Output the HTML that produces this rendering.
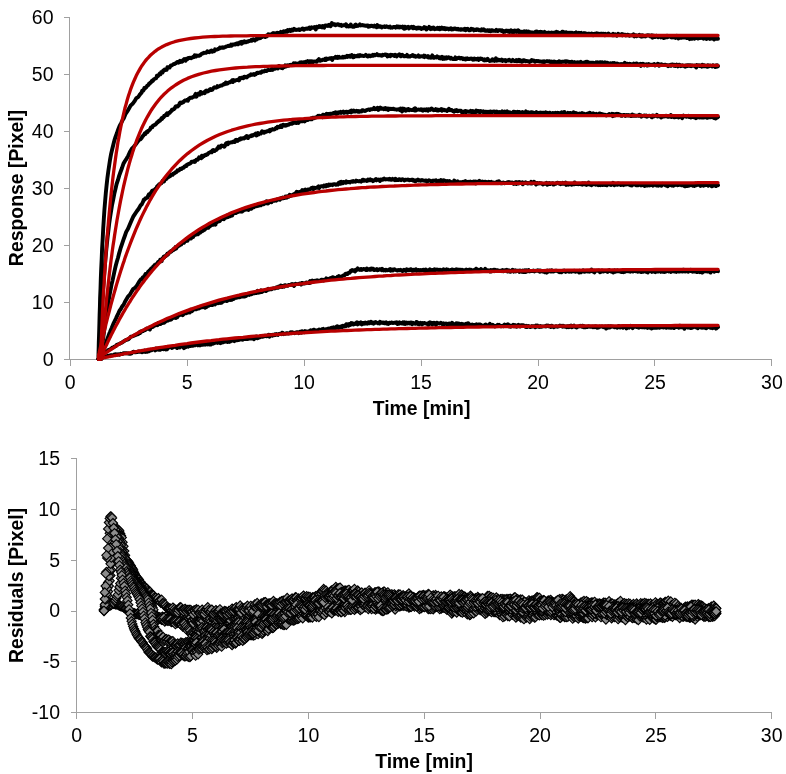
<!DOCTYPE html>
<html><head><meta charset="utf-8"><style>html,body{margin:0;padding:0;background:#fff;-webkit-font-smoothing:antialiased;}svg{display:block;will-change:transform;}</style></head>
<body><svg width="786" height="774" viewBox="0 0 786 774">
<rect width="786" height="774" fill="#fff"/>
<g stroke="#a0a0a0" stroke-width="1" fill="none" shape-rendering="crispEdges">
<path d="M69.5 16.5V359.5H772"/>
<path d="M64 359.5H70M64 302.5H70M64 245.5H70M64 188.5H70M64 131.5H70M64 74.5H70M64 17.5H70M70.5 359V365.5M187.5 359V365.5M304.5 359V365.5M421.5 359V365.5M538.5 359V365.5M654.5 359V365.5M771.5 359V365.5"/>
</g>
<g fill="none" stroke="#000" stroke-width="3.9" stroke-linejoin="round" stroke-linecap="round">
<path d="M98.5 359L98.5 353.6 98.6 350.5 98.7 346.7 98.8 342 99 336.5 99.2 330.2 99.4 323.1 99.6 315.3 99.9 306.9 100.1 298 100.5 288.5 100.8 278.8 101.2 268.8 101.7 258.7 102.1 248.6 102.7 238.6 103.2 228.8 103.8 219.3 104.4 210.1 105.1 201.3 105.8 193.1 106.6 185.3 107.4 177.9 108.3 171.3 109.2 165.2 110.1 159.3 111.1 153.9 112.2 149.2 113.3 144.8 114.4 140.4 115.6 136.7 116.9 133.3 118.2 129.4 119.6 125.9 121 123.3 122.5 120.3 124 117.9 125.6 113.8 127.3 111.4 129 108.6 130.7 105.4 132.6 103.8 134.4 101.4 136.4 98.1 138.4 96.8 139.4 95.2 140.1 94.3 140.8 93.3 141.5 92.8 142.2 90.7 142.9 91 143.6 90.2 144.3 88.1 145 88.5 145.7 87.4 146.4 87.2 147.1 85.8 147.8 85.3 148.5 84.8 149.2 83.4 149.9 83.5 150.6 82.4 151.3 82 152 80.8 152.7 81 153.4 80.1 154.1 79 154.8 78.8 155.5 78.5 156.2 78.1 156.9 75.7 157.6 76.4 158.3 75.6 159 74.7 159.7 73.6 160.4 74.3 161.1 72.3 161.8 72.7 162.5 72.6 163.2 70.5 163.9 70.6 164.6 69.5 165.3 69.9 166 70 166.7 69.8 167.4 67.2 168.1 67.3 168.8 67.6 169.5 67.6 170.2 66.5 170.9 65.4 171.6 65.6 172.3 65 173 64.5 173.7 63.9 174.4 64.1 175.1 63.7 175.8 63.2 176.5 62.8 177.2 61.9 177.9 62 178.6 62.7 179.3 61.6 180 60.7 180.7 61.9 181.4 61.2 182.1 61.8 182.8 60.4 183.5 59.9 184.2 59.1 184.9 60.4 185.6 60.8 186.3 58.7 187 58.6 187.7 59 188.4 58 189.1 58.1 189.8 57.8 190.5 57.9 191.2 58.2 191.9 57.4 192.6 57.6 193.3 56.7 194 56.9 194.7 55.3 195.4 55.4 196.1 56.5 196.8 55.5 197.5 55.9 198.2 55.6 198.9 55.8 199.6 55.3 200.3 55.2 201 54.3 201.7 53.8 202.4 53.5 203.1 53.4 203.8 52.8 204.5 52.9 205.2 52.9 205.9 52.9 206.6 52.3 207.3 51.2 208 52 208.7 51.9 209.4 52.2 210.1 51.7 210.8 50.8 211.5 50.5 212.2 51.8 212.9 50.9 213.6 51.2 214.3 51.2 215 49.3 215.7 49.8 216.4 49.6 217.1 49.5 217.8 49.2 218.5 48.8 219.2 48.6 219.9 47.5 220.6 48 221.3 47.5 222 47.8 222.7 47.3 223.4 47.7 224.1 47.6 224.8 47.1 225.5 46.9 226.2 46.6 226.9 46.1 227.6 46.1 228.3 45.8 229 46.1 229.7 45.7 230.4 45.8 231.1 44.6 231.8 45.6 232.5 44.6 233.2 44.4 233.9 44.5 234.6 44.2 235.3 44.5 236 43.8 236.7 43.4 237.4 43.3 238.1 44.3 238.8 43.5 239.5 42.6 240.2 43.1 240.9 42.1 241.6 43.8 242.3 41.8 243 42.7 243.7 42.6 244.4 41.3 245.1 42.1 245.8 42.3 246.5 41.8 247.2 41.5 247.9 41.7 248.6 41.1 249.3 41 250 40.6 250.7 40.8 251.4 39.8 252.1 40.6 252.8 39.7 253.5 39.2 254.2 39.8 254.9 40.4 255.6 39.8 256.3 38.8 257 39.3 257.7 38.4 258.4 38.4 259.1 38.4 259.8 36.8 260.5 38 261.2 37.1 261.9 37.1 262.6 36.4 263.3 36.1 264 36.2 264.7 36.9 265.4 37.1 266.1 35.9 266.8 36.3 267.5 35.3 268.2 34.2 268.9 35.1 269.6 35.1 270.3 34.4 271 34.6 271.7 34.6 272.4 33.6 273.1 33.1 273.8 33.6 274.5 33.4 275.2 33.2 275.9 33.8 276.6 34 277.3 32.7 278 33.1 278.7 33.1 279.4 32.8 280.1 32.8 280.8 31.9 281.5 32.4 282.2 32.9 282.9 32.1 283.6 31.2 284.3 31.7 285 32 285.7 31.4 286.4 30.7 287.1 31.8 287.8 30.1 288.5 31 289.2 30.6 289.9 29.8 290.6 31 291.3 30.4 292 29.5 292.7 30.4 293.4 29.8 294.1 28.9 294.8 29.4 295.5 29.9 296.2 30 296.9 29.7 297.6 29.6 298.3 29.7 299 29.3 299.7 30 300.4 29.4 301.1 29.4 301.8 29.4 302.5 28.5 303.2 28.6 303.9 29.8 304.6 29.1 305.3 28.7 306 28.9 306.7 28.4 307.4 28.8 308.1 28.2 308.8 28.6 309.5 27.5 310.2 29 310.9 27.9 311.6 27.3 312.3 27.9 313 27.7 313.7 27.9 314.4 27.1 315.1 27.8 315.8 29.5 316.5 26.7 317.2 27.5 317.9 27 318.6 27.2 319.3 26 320 26.2 320.7 27 321.4 26.6 322.1 27.4 322.8 26 323.5 26.4 324.2 27.7 324.9 25.6 325.6 25.4 326.3 25.7 327 25.5 327.7 25.9 328.4 25.3 329.1 24.7 329.8 25.1 330.5 26.3 331.2 25.4 331.9 23.1 332.6 24.5 333.3 24 334 24.7 334.7 24.2 335.4 25.3 336.1 24.7 336.8 24.7 337.5 24.3 338.2 24.3 338.9 24.6 339.6 25.3 340.3 25.1 341 24.8 341.7 25.9 342.4 25.4 343.1 25.4 343.8 25.1 344.5 25.3 345.2 25.3 345.9 24.2 346.6 26.4 347.3 26.2 348 25.8 348.7 26.5 349.4 26.2 350.1 26.2 350.8 24.6 351.5 25.9 352.2 26.3 352.9 26.9 353.6 26.9 354.3 26.6 355 25.1 355.7 24.5 356.4 25.9 357.1 25.5 357.8 25.9 358.5 25.2 359.2 25.3 359.9 24.3 360.6 25.4 361.3 24.9 362 25.3 362.7 25.4 363.4 25.1 364.1 25.5 364.8 25.4 365.5 25.9 366.2 25.8 366.9 25.4 367.6 25.4 368.3 26.8 369 25.9 369.7 26.5 370.4 26.2 371.1 25.8 371.8 25.7 372.5 26.2 373.2 26.3 373.9 26.6 374.6 25.6 375.3 26 376 26.3 376.7 27.2 377.4 25.1 378.1 26.7 378.8 26.1 379.5 26.7 380.2 26.2 380.9 26.7 381.6 27.4 382.3 26.8 383 26.9 383.7 26.8 384.4 26.3 385.1 27 385.8 26.6 386.5 26.3 387.2 26.8 387.9 26.7 388.6 27.3 389.3 26.9 390 26.6 390.7 27.7 391.4 27.5 392.1 27.7 392.8 27.4 393.5 27 394.2 26.9 394.9 27 395.6 27.7 396.3 27.2 397 26.4 397.7 27.2 398.4 26.5 399.1 27.4 399.8 26.6 400.5 26.6 401.2 27.4 401.9 27.3 402.6 26.5 403.3 27.9 404 28.7 404.7 26.7 405.4 28.5 406.1 27.2 406.8 27.3 407.5 27.5 408.2 26.8 408.9 28.4 409.6 27.9 410.3 27.3 411 27.6 411.7 26.9 412.4 27.6 413.1 28.3 413.8 26.9 414.5 27.6 415.2 27.9 415.9 28.5 416.6 28.7 417.3 27.7 418 27.5 418.7 28.2 419.4 27.8 420.1 27.8 420.8 28.6 421.5 29 422.2 28.2 422.9 28 423.6 28.4 424.3 27.1 425 28.2 425.7 27.6 426.4 29.5 427.1 28.6 427.8 28.3 428.5 28.2 429.2 26.9 429.9 28.7 430.6 29.2 431.3 27.9 432 28.7 432.7 28.8 433.4 27.5 434.1 28.9 434.8 29.2 435.5 28.6 436.2 28.4 436.9 28.9 437.6 27.7 438.3 28.6 439 29.1 439.7 27.9 440.4 29.1 441.1 28.4 441.8 27.5 442.5 28.6 443.2 28.1 443.9 28.9 444.6 28.1 445.3 29.3 446 28.4 446.7 29 447.4 28.5 448.1 28.7 448.8 29.5 449.5 29 450.2 28.7 450.9 28.2 451.6 29.6 452.3 29.4 453 28.8 453.7 29.2 454.4 28.5 455.1 28.5 455.8 28.6 456.5 29.3 457.2 29.3 457.9 28.8 458.6 29.6 459.3 29.6 460 29.3 460.7 29.8 461.4 29.1 462.1 29.3 462.8 29.6 463.5 29.3 464.2 29.8 464.9 28.7 465.6 30.2 466.3 29 467 29.4 467.7 28.8 468.4 29.9 469.1 30.3 469.8 30.2 470.5 30.1 471.2 28.8 471.9 29.2 472.6 29.4 473.3 29.2 474 30.4 474.7 29.9 475.4 29.8 476.1 30.1 476.8 29.3 477.5 29.4 478.2 29.4 478.9 30.2 479.6 30.2 480.3 30.3 481 30.6 481.7 29.3 482.4 29.8 483.1 30.2 483.8 29.4 484.5 29.9 485.2 30.8 485.9 30.9 486.6 30.9 487.3 30.3 488 30.2 488.7 31 489.4 30.2 490.1 30.6 490.8 31.2 491.5 30.3 492.2 30.2 492.9 30.6 493.6 30.9 494.3 30.9 495 30.8 495.7 31 496.4 29.9 497.1 30.3 497.8 30.9 498.5 30.3 499.2 30.1 499.9 30.2 500.6 30.4 501.3 30.9 502 30.4 502.7 31.2 503.4 32 504.1 31 504.8 31.8 505.5 31.3 506.2 30.6 506.9 31.1 507.6 30.7 508.3 31.7 509 30.7 509.7 32.1 510.4 31.7 511.1 30.3 511.8 31.9 512.5 32.3 513.2 31.1 513.9 32.1 514.6 30.6 515.3 31.7 516 30.7 516.7 31.9 517.4 30.7 518.1 30.3 518.8 32 519.5 33 520.2 31.5 520.9 32.3 521.6 31.9 522.3 31.7 523 32.3 523.7 32.9 524.4 31.3 525.1 32.3 525.8 32.2 526.5 31.3 527.2 33 527.9 33.2 528.6 31.6 529.3 33.1 530 32.2 530.7 32.1 531.4 33.1 532.1 32.4 532.8 32.5 533.5 33.2 534.2 33 534.9 32.9 535.6 31.6 536.3 31.5 537 33.1 537.7 31.9 538.4 32.6 539.1 31.9 539.8 32.4 540.5 31.8 541.2 33.5 541.9 32 542.6 32.5 543.3 32.5 544 33.3 544.7 31.9 545.4 32.7 546.1 32.6 546.8 33 547.5 33 548.2 32.5 548.9 32.9 549.6 32.6 550.3 33.1 551 32.8 551.7 32.5 552.4 32.8 553.1 33.1 553.8 34.1 554.5 32.6 555.2 33.1 555.9 33.8 556.6 31.8 557.3 32 558 32.3 558.7 32.9 559.4 34.4 560.1 33.3 560.8 33.7 561.5 33 562.2 31.7 562.9 31.8 563.6 33.7 564.3 33.2 565 32.4 565.7 33.8 566.4 32.3 567.1 33.8 567.8 34 568.5 32.8 569.2 32.6 569.9 33.7 570.6 32.7 571.3 33.8 572 32.7 572.7 33.8 573.4 33.4 574.1 33.1 574.8 32.9 575.5 33.5 576.2 32.4 576.9 33.3 577.6 33.2 578.3 33.8 579 32.8 579.7 34.4 580.4 33.3 581.1 32.9 581.8 34.3 582.5 34.5 583.2 33.5 583.9 33.1 584.6 33.6 585.3 33.2 586 33.5 586.7 34.5 587.4 33.9 588.1 33.8 588.8 33.9 589.5 33.7 590.2 34.2 590.9 34.3 591.6 33.6 592.3 33.9 593 35.2 593.7 34.1 594.4 33.8 595.1 35 595.8 33.9 596.5 33.3 597.2 34.3 597.9 33.5 598.6 33.7 599.3 34.2 600 34 600.7 33.6 601.4 33.8 602.1 33.8 602.8 34.8 603.5 33.8 604.2 33.9 604.9 35.3 605.6 33.9 606.3 35.1 607 35 607.7 34.2 608.4 33.5 609.1 34.6 609.8 34.7 610.5 34.9 611.2 34.5 611.9 35.1 612.6 35.3 613.3 33.9 614 35.3 614.7 34.7 615.4 34.3 616.1 34.5 616.8 35.7 617.5 35.2 618.2 33.7 618.9 34.8 619.6 34.7 620.3 34.7 621 34.6 621.7 34.1 622.4 35.4 623.1 34.4 623.8 34.8 624.5 34.7 625.2 34.6 625.9 35.5 626.6 35.3 627.3 34.8 628 34.7 628.7 35 629.4 35.8 630.1 35.4 630.8 35.4 631.5 35.2 632.2 35.2 632.9 35.5 633.6 34.4 634.3 36.4 635 35.1 635.7 35.2 636.4 36.3 637.1 35.7 637.8 35.7 638.5 35.4 639.2 34.9 639.9 35.9 640.6 36.4 641.3 35.3 642 36.6 642.7 35.3 643.4 35.5 644.1 36.2 644.8 36 645.5 36.4 646.2 35.7 646.9 35.5 647.6 35.1 648.3 35.5 649 35.6 649.7 35.4 650.4 36.4 651.1 35.9 651.8 35.2 652.5 37.7 653.2 35.9 653.9 35.7 654.6 37.1 655.3 37.1 656 35.9 656.7 35.7 657.4 36 658.1 37.2 658.8 36.5 659.5 36.2 660.2 36.7 660.9 37.4 661.6 36 662.3 36.6 663 36 663.7 38 664.4 37.9 665.1 37.4 665.8 36.8 666.5 37.3 667.2 35.8 667.9 37.1 668.6 36.3 669.3 36.3 670 36.7 670.7 36.9 671.4 37.4 672.1 37.5 672.8 37.3 673.5 36.7 674.2 37.6 674.9 37.2 675.6 37.9 676.3 36.8 677 35.8 677.7 37 678.4 38.5 679.1 37.6 679.8 37.3 680.5 37.9 681.2 37.7 681.9 37.7 682.6 37.2 683.3 37.5 684 37.6 684.7 37.2 685.4 36.9 686.1 37.7 686.8 38.1 687.5 38 688.2 37.9 688.9 37.9 689.6 39.1 690.3 37.8 691 38.3 691.7 38.8 692.4 37.8 693.1 37.9 693.8 38.4 694.5 38.8 695.2 38 695.9 38.1 696.6 37.9 697.3 37.2 698 38.5 698.7 37.8 699.4 37 700.1 37.9 700.8 37.1 701.5 37.5 702.2 38.1 702.9 37.6 703.6 38.7 704.3 37.3 705 38.3 705.7 38.4 706.4 39 707.1 38.7 707.8 38.3 708.5 38.3 709.2 38.2 709.9 38.9 710.6 37.9 711.3 38.6 712 38.2 712.7 38.4 713.4 38.2 714.1 39.5 714.8 38 715.5 38.5 716.2 38.6 716.9 38.8 717.6 38.7 718 38.7"/>
<path d="M98.5 359L99.4 359 99.4 358.9 99.4 358.7 99.4 358.1 99.4 357.2 99.5 356 99.6 354.2 99.7 352 99.8 349.3 99.9 346.1 100.1 342.4 100.3 338.2 100.6 333.4 100.8 328.2 101.1 322.6 101.4 316.6 101.8 310.1 102.2 303.4 102.6 296.4 103.1 289.2 103.6 281.8 104.2 274.3 104.8 266.8 105.4 259.3 106.1 251.8 106.8 244.5 107.6 237.2 108.4 230.4 109.2 223.6 110.1 217.2 111.1 211 112.1 204.8 113.2 199.7 114.3 193.9 115.4 189.4 116.6 184 117.9 180.2 119.2 175.6 120.5 172 122 168 123.4 163.8 125 161 126.6 158.6 128.2 155.9 129.9 152 131.7 148.9 133.5 147 135.4 144.8 137.4 142.1 139.4 139.6 140.4 139.3 141.1 138.6 141.8 137.7 142.5 136 143.2 135.8 143.9 134.9 144.6 133.5 145.3 134 146 132.9 146.7 131.8 147.4 132.2 148.1 131.1 148.8 130.5 149.5 130 150.2 129.1 150.9 127.3 151.6 127.1 152.3 127.2 153 125.6 153.7 125.4 154.4 125 155.1 124.9 155.8 124.2 156.5 123.4 157.2 122.2 157.9 122.2 158.6 121.4 159.3 120.4 160 120.7 160.7 119.6 161.4 118.4 162.1 118.9 162.8 117.5 163.5 117.4 164.2 115.7 164.9 116 165.6 114.9 166.3 114.3 167 113.3 167.7 114.9 168.4 113.1 169.1 112.8 169.8 112.7 170.5 111.5 171.2 111.3 171.9 109.7 172.6 110 173.3 109.1 174 109.1 174.7 108.4 175.4 106.9 176.1 106.1 176.8 106.1 177.5 106.5 178.2 105.8 178.9 105.3 179.6 103.4 180.3 102.6 181 103.2 181.7 102.9 182.4 102.3 183.1 102.4 183.8 101.6 184.5 100.7 185.2 100.4 185.9 100.6 186.6 100.1 187.3 99.7 188 100.6 188.7 98.8 189.4 98.7 190.1 97.7 190.8 97.7 191.5 97.9 192.2 97.6 192.9 96.9 193.6 96.9 194.3 96.4 195 95 195.7 93.9 196.4 96.7 197.1 95.5 197.8 94.7 198.5 93.5 199.2 93.5 199.9 94.6 200.6 92 201.3 93.1 202 93.5 202.7 92.8 203.4 92.8 204.1 92.1 204.8 93.2 205.5 91 206.2 90.5 206.9 91.2 207.6 91.5 208.3 90.4 209 90.7 209.7 89.6 210.4 89 211.1 90.1 211.8 89.9 212.5 89.6 213.2 88.3 213.9 87.6 214.6 87.3 215.3 87.5 216 87.7 216.7 87.4 217.4 86.1 218.1 86.7 218.8 86.3 219.5 86.1 220.2 85.8 220.9 85.4 221.6 85.6 222.3 85.1 223 84.8 223.7 84.1 224.4 84.4 225.1 83.9 225.8 82.5 226.5 83.7 227.2 83 227.9 83.4 228.6 82.5 229.3 82.3 230 82.2 230.7 81.8 231.4 81.3 232.1 80.3 232.8 82.1 233.5 80 234.2 80.4 234.9 80.7 235.6 80.3 236.3 80.1 237 80 237.7 80 238.4 79.3 239.1 80.4 239.8 78.1 240.5 78.5 241.2 77.9 241.9 77.6 242.6 77.8 243.3 78.2 244 76.8 244.7 76.6 245.4 77.2 246.1 76.9 246.8 77.4 247.5 76.7 248.2 76 248.9 75.5 249.6 75.6 250.3 75.2 251 74.3 251.7 74.9 252.4 74.6 253.1 74.3 253.8 74 254.5 75 255.2 74.2 255.9 74.2 256.6 73.1 257.3 72.7 258 72.9 258.7 73 259.4 72.5 260.1 72.4 260.8 72.8 261.5 72.2 262.2 71.3 262.9 71.5 263.6 71.1 264.3 71.4 265 70.5 265.7 70.8 266.4 71.1 267.1 70.6 267.8 69.9 268.5 69.9 269.2 70.1 269.9 70.1 270.6 70.1 271.3 69.4 272 68.6 272.7 69.9 273.4 69.2 274.1 69 274.8 68.8 275.5 67.9 276.2 68.1 276.9 68.3 277.6 68.5 278.3 67.8 279 65.9 279.7 67.3 280.4 67.5 281.1 67.9 281.8 67.4 282.5 68.2 283.2 67.5 283.9 67.2 284.6 66.9 285.3 65.4 286 66.5 286.7 66.2 287.4 65.4 288.1 65.9 288.8 65.6 289.5 65 290.2 65.1 290.9 64.8 291.6 65 292.3 64.5 293 64.8 293.7 63.3 294.4 64.1 295.1 63.2 295.8 63.7 296.5 64.1 297.2 63.7 297.9 63.5 298.6 63.5 299.3 64.2 300 62.6 300.7 63.6 301.4 62.2 302.1 62.6 302.8 62.9 303.5 62.2 304.2 62.7 304.9 62.9 305.6 61.7 306.3 62.2 307 62 307.7 61 308.4 61.9 309.1 61.4 309.8 62.5 310.5 61.2 311.2 62.5 311.9 61.2 312.6 62.5 313.3 61.6 314 61.5 314.7 61.6 315.4 61.5 316.1 61.7 316.8 61.8 317.5 60.6 318.2 60 318.9 59.1 319.6 60.3 320.3 60.8 321 60.5 321.7 60.3 322.4 59.9 323.1 59.6 323.8 59.7 324.5 60 325.2 58.7 325.9 60 326.6 58.6 327.3 59.2 328 58.9 328.7 58.9 329.4 58.4 330.1 58.3 330.8 58.7 331.5 58.1 332.2 59.9 332.9 58.2 333.6 58 334.3 57.9 335 57.6 335.7 56.7 336.4 57.8 337.1 58 337.8 56.9 338.5 57.7 339.2 56.9 339.9 57.5 340.6 57.6 341.3 57.6 342 57.5 342.7 56.7 343.4 57.5 344.1 56.7 344.8 57.1 345.5 57.2 346.2 56.5 346.9 55.9 347.6 56.9 348.3 55.9 349 55.9 349.7 55.8 350.4 56.8 351.1 56.2 351.8 55 352.5 56.6 353.2 57.3 353.9 57.1 354.6 55.7 355.3 56.1 356 56.3 356.7 56.4 357.4 55.9 358.1 55.3 358.8 56.3 359.5 56.2 360.2 55.1 360.9 55.5 361.6 55.9 362.3 55.7 363 55.9 363.7 56.1 364.4 55.9 365.1 55.5 365.8 54.8 366.5 55.9 367.2 56.3 367.9 56.6 368.6 55.4 369.3 55.4 370 56.2 370.7 56.2 371.4 55.5 372.1 55.7 372.8 54.9 373.5 55.6 374.2 54.8 374.9 55.2 375.6 55.2 376.3 55 377 54.1 377.7 54.8 378.4 55.4 379.1 55.2 379.8 55 380.5 55.4 381.2 55.6 381.9 55.7 382.6 54.7 383.3 55.2 384 55 384.7 54.7 385.4 54.4 386.1 55.2 386.8 54.7 387.5 56.4 388.2 55.2 388.9 55.1 389.6 55.1 390.3 56.3 391 54.8 391.7 55.2 392.4 54.9 393.1 55.3 393.8 55.4 394.5 56 395.2 54.7 395.9 55.5 396.6 56.4 397.3 55.2 398 55.4 398.7 55.1 399.4 54.2 400.1 55.6 400.8 56.3 401.5 55.4 402.2 54.7 402.9 55.9 403.6 55.8 404.3 56.4 405 56.3 405.7 55.7 406.4 56.1 407.1 54.9 407.8 56.6 408.5 56.1 409.2 56.6 409.9 56.6 410.6 55.9 411.3 56 412 55.7 412.7 55 413.4 56.1 414.1 56.3 414.8 55.7 415.5 56.7 416.2 56.4 416.9 56.6 417.6 56 418.3 55.4 419 56.9 419.7 56.8 420.4 56.4 421.1 56.3 421.8 56.4 422.5 56.5 423.2 56.4 423.9 55.6 424.6 57.1 425.3 55.9 426 56.6 426.7 56.6 427.4 57 428.1 56 428.8 57.6 429.5 57.3 430.2 57.4 430.9 57.7 431.6 56.6 432.3 55.4 433 57.3 433.7 57.9 434.4 57.9 435.1 57 435.8 57.2 436.5 57.5 437.2 56.4 437.9 57 438.6 57.1 439.3 58.3 440 57.2 440.7 58.4 441.4 57.6 442.1 56.7 442.8 58.9 443.5 57.2 444.2 58.1 444.9 58.7 445.6 57.5 446.3 57.2 447 58.4 447.7 57.9 448.4 57.3 449.1 57.4 449.8 57.8 450.5 58.6 451.2 57.9 451.9 58.5 452.6 59.1 453.3 58.9 454 59 454.7 58.9 455.4 57.4 456.1 59 456.8 58.6 457.5 58.3 458.2 57.8 458.9 57.6 459.6 57.9 460.3 58.5 461 57.9 461.7 58.2 462.4 58.3 463.1 59.1 463.8 58.6 464.5 58.7 465.2 59.5 465.9 58.6 466.6 59.2 467.3 58.3 468 59.1 468.7 59 469.4 59.1 470.1 58.7 470.8 58.5 471.5 58.9 472.2 58.8 472.9 59.7 473.6 59.6 474.3 58.5 475 59.5 475.7 59 476.4 59.5 477.1 59 477.8 58.5 478.5 59.9 479.2 59.6 479.9 58.7 480.6 58.4 481.3 59.1 482 58.8 482.7 59.3 483.4 59.9 484.1 60.4 484.8 59.4 485.5 60.4 486.2 60.3 486.9 59.4 487.6 58.8 488.3 60.2 489 60.1 489.7 61 490.4 60.6 491.1 60.2 491.8 60.7 492.5 59.3 493.2 60 493.9 59.7 494.6 60.9 495.3 60.3 496 58.3 496.7 60.7 497.4 59.5 498.1 60.5 498.8 59.8 499.5 60.2 500.2 60.5 500.9 60.2 501.6 59.6 502.3 61 503 60.4 503.7 60.2 504.4 60.6 505.1 60 505.8 61.3 506.5 60.4 507.2 60.5 507.9 60.6 508.6 59.9 509.3 59.8 510 60.6 510.7 60.6 511.4 61.2 512.1 60.7 512.8 59.9 513.5 60.8 514.2 61 514.9 61.1 515.6 60.8 516.3 60 517 61.3 517.7 60.3 518.4 61 519.1 59.9 519.8 61.2 520.5 60.3 521.2 61.4 521.9 61.8 522.6 61.5 523.3 60.2 524 60.3 524.7 60.4 525.4 61.3 526.1 61.1 526.8 61 527.5 61.1 528.2 61.3 528.9 61.4 529.6 62 530.3 61 531 61.2 531.7 60.1 532.4 60.4 533.1 60.8 533.8 60.5 534.5 61.3 535.2 61.8 535.9 61 536.6 61 537.3 61 538 61.3 538.7 61 539.4 61.5 540.1 61.5 540.8 61.5 541.5 61.8 542.2 61.4 542.9 61.5 543.6 62.4 544.3 61.4 545 61.9 545.7 61.5 546.4 61.3 547.1 61.3 547.8 61.1 548.5 61.6 549.2 61.3 549.9 61.4 550.6 62.3 551.3 61.6 552 62.3 552.7 61.8 553.4 62.2 554.1 61.4 554.8 61.8 555.5 63.2 556.2 62.3 556.9 62.4 557.6 62 558.3 62.3 559 61.3 559.7 61.4 560.4 62.2 561.1 62.4 561.8 61.7 562.5 61.9 563.2 61.8 563.9 61.9 564.6 61.4 565.3 61.3 566 62.1 566.7 61.2 567.4 61.6 568.1 61.8 568.8 61.6 569.5 62.3 570.2 62 570.9 62.2 571.6 61.7 572.3 61.9 573 62.6 573.7 62.5 574.4 62.1 575.1 62.6 575.8 62.5 576.5 62.5 577.2 63.3 577.9 62.2 578.6 62.7 579.3 62.7 580 62.4 580.7 61.9 581.4 63 582.1 62.7 582.8 62.6 583.5 62.7 584.2 62.7 584.9 62.2 585.6 62.9 586.3 61.7 587 62.7 587.7 61.9 588.4 62.6 589.1 63.2 589.8 62.7 590.5 62.6 591.2 63.2 591.9 62.8 592.6 62.7 593.3 62.7 594 63.8 594.7 63.4 595.4 63.3 596.1 62.4 596.8 63.4 597.5 62.4 598.2 63.4 598.9 62.5 599.6 64.2 600.3 62.2 601 63.9 601.7 63.7 602.4 62.3 603.1 63.1 603.8 64.1 604.5 63.9 605.2 62.4 605.9 63.1 606.6 62.7 607.3 62.8 608 63.1 608.7 64.4 609.4 63.5 610.1 63.4 610.8 63.3 611.5 63.9 612.2 63.9 612.9 63.1 613.6 64.4 614.3 63 615 63.5 615.7 63.9 616.4 64.6 617.1 63.5 617.8 63.9 618.5 64.5 619.2 64.1 619.9 64.4 620.6 64.4 621.3 64 622 64.2 622.7 64.4 623.4 63.9 624.1 64.8 624.8 62.8 625.5 63.5 626.2 64.8 626.9 64.2 627.6 63.7 628.3 64.3 629 64.7 629.7 63.8 630.4 64.5 631.1 64.1 631.8 64.1 632.5 64.1 633.2 64.8 633.9 63.6 634.6 64 635.3 64.6 636 63.6 636.7 63.4 637.4 64.6 638.1 64.3 638.8 64.3 639.5 64.5 640.2 63.9 640.9 66 641.6 63.9 642.3 64.2 643 63.7 643.7 64.3 644.4 65.4 645.1 64.6 645.8 64.9 646.5 64.3 647.2 65.6 647.9 64.7 648.6 64 649.3 65.1 650 64.5 650.7 65 651.4 64.8 652.1 64.9 652.8 64.8 653.5 64.3 654.2 64 654.9 65.4 655.6 64.8 656.3 65 657 64.6 657.7 63.8 658.4 64.2 659.1 65.7 659.8 64.5 660.5 64.8 661.2 64.2 661.9 64.7 662.6 64.8 663.3 64.9 664 65 664.7 64.7 665.4 64.8 666.1 65.1 666.8 65.3 667.5 65.1 668.2 66.1 668.9 65.3 669.6 65.3 670.3 64.8 671 65.8 671.7 64.7 672.4 64.4 673.1 64.7 673.8 65.6 674.5 64.7 675.2 66 675.9 65.3 676.6 64.5 677.3 65.2 678 66.4 678.7 64.9 679.4 64.7 680.1 65.7 680.8 66.2 681.5 66 682.2 65.3 682.9 65.6 683.6 65.7 684.3 66.2 685 66.7 685.7 65.5 686.4 66.3 687.1 65.4 687.8 65.9 688.5 65.1 689.2 65.2 689.9 65.9 690.6 65.2 691.3 66.2 692 65.4 692.7 65.7 693.4 65.7 694.1 65.5 694.8 65.8 695.5 66.4 696.2 67.5 696.9 65.1 697.6 66 698.3 65.7 699 65.3 699.7 66 700.4 65.4 701.1 65.8 701.8 66.6 702.5 64.8 703.2 66.1 703.9 66.2 704.6 65.4 705.3 66.2 706 66.2 706.7 65.8 707.4 66.7 708.1 65.3 708.8 66.4 709.5 65.9 710.2 65.5 710.9 66 711.6 65.9 712.3 66.5 713 65.3 713.7 66 714.4 65.9 715.1 67 715.8 65.5 716.5 66.7 717.2 65.2 717.9 66.4 718 66.1"/>
<path d="M98.5 359L100.7 359 100.7 359 100.7 358.9 100.8 358.7 100.8 358.3 100.9 357.8 100.9 357.1 101 356.2 101.2 355.1 101.3 353.8 101.5 352.3 101.7 350.5 101.9 348.5 102.2 346.3 102.5 343.8 102.8 341.1 103.2 338.2 103.6 335.1 104 331.7 104.5 328.2 105 324.4 105.5 320.5 106.1 316.4 106.8 312.2 107.4 307.9 108.2 303.4 108.9 299 109.7 294.3 110.6 289.6 111.5 284.8 112.5 280.6 113.5 275.8 114.5 271.1 115.6 266.2 116.8 261.7 118 257.8 119.2 253.1 120.6 248.2 121.9 244.3 123.3 240.2 124.8 236 126.3 231.7 127.9 229.1 129.6 225.1 131.3 221.1 133.1 216.9 134.9 214.2 136.8 211.3 138.7 208.8 140.7 205.1 141.7 204.5 142.4 203 143.1 201.6 143.8 199.6 144.5 199.6 145.2 198.5 145.9 198.4 146.6 197.8 147.3 197.6 148 196 148.7 194.6 149.4 195.7 150.1 193.8 150.8 192.8 151.5 192 152.2 190.7 152.9 191.1 153.6 190.2 154.3 190.2 155 189.3 155.7 188.5 156.4 188 157.1 186.5 157.8 185.8 158.5 185.4 159.2 184.1 159.9 184.1 160.6 183.4 161.3 183.3 162 182.4 162.7 180.7 163.4 181.2 164.1 181.4 164.8 179.1 165.5 179.1 166.2 179 166.9 177.7 167.6 177.6 168.3 177.4 169 176.1 169.7 176.5 170.4 176 171.1 174.6 171.8 174.8 172.5 174.9 173.2 173.7 173.9 173.6 174.6 173.2 175.3 172.2 176 172.4 176.7 171.6 177.4 170.4 178.1 170.8 178.8 170.5 179.5 170 180.2 168.8 180.9 168.9 181.6 169 182.3 168 183 168 183.7 167.7 184.4 166.5 185.1 166.5 185.8 165.6 186.5 165.9 187.2 164.8 187.9 164.2 188.6 164.1 189.3 163.6 190 163.5 190.7 163.1 191.4 161.9 192.1 161.7 192.8 161.9 193.5 161.6 194.2 161 194.9 162 195.6 160.8 196.3 159.7 197 159.8 197.7 159.7 198.4 158.8 199.1 157.3 199.8 157.9 200.5 157.5 201.2 158.3 201.9 155.7 202.6 157.2 203.3 155.9 204 156.1 204.7 155.1 205.4 154.9 206.1 155.1 206.8 154.1 207.5 154.3 208.2 153.3 208.9 152.8 209.6 152.5 210.3 152 211 151.8 211.7 152.3 212.4 150.5 213.1 149.9 213.8 150.4 214.5 151 215.2 150.3 215.9 150.1 216.6 149.7 217.3 148.2 218 148.4 218.7 146.5 219.4 147.3 220.1 147.6 220.8 146.1 221.5 145.5 222.2 145.6 222.9 146.1 223.6 146.3 224.3 146.7 225 145.8 225.7 143.8 226.4 143.1 227.1 144.1 227.8 144.3 228.5 142.6 229.2 142.9 229.9 142.6 230.6 142.6 231.3 142.2 232 142.3 232.7 142.3 233.4 141.5 234.1 141.6 234.8 142 235.5 140.1 236.2 139.8 236.9 140.4 237.6 140.9 238.3 139.7 239 139.9 239.7 138.9 240.4 139.4 241.1 138.3 241.8 138.8 242.5 138.4 243.2 138.2 243.9 138.5 244.6 138.1 245.3 137 246 137.6 246.7 136 247.4 137.3 248.1 138 248.8 136.6 249.5 136.4 250.2 136 250.9 136.2 251.6 135.3 252.3 135.8 253 135.1 253.7 134.8 254.4 134.9 255.1 134.7 255.8 133.6 256.5 135.5 257.2 134.2 257.9 133 258.6 134.4 259.3 133.6 260 133.5 260.7 133.6 261.4 132.5 262.1 131.2 262.8 132.6 263.5 132.6 264.2 132.8 264.9 131.6 265.6 131.7 266.3 131.9 267 131.2 267.7 131.1 268.4 131.1 269.1 130.2 269.8 131.4 270.5 129.8 271.2 130.1 271.9 129.6 272.6 129.1 273.3 129.5 274 129.5 274.7 129.4 275.4 128.7 276.1 127.8 276.8 128.3 277.5 126.7 278.2 127.3 278.9 127.3 279.6 127.1 280.3 125.9 281 125.5 281.7 127.1 282.4 125.7 283.1 124.8 283.8 124.9 284.5 125.4 285.2 125.8 285.9 125 286.6 125.4 287.3 124.7 288 124.7 288.7 124.8 289.4 123.9 290.1 124.1 290.8 123.5 291.5 123.2 292.2 123.8 292.9 122.8 293.6 123.1 294.3 122.5 295 122.7 295.7 122.3 296.4 123 297.1 122.3 297.8 122.2 298.5 122.9 299.2 120.2 299.9 121 300.6 120 301.3 121.3 302 121.4 302.7 121.3 303.4 121 304.1 120.2 304.8 121.4 305.5 120.5 306.2 120 306.9 119.3 307.6 120 308.3 119.3 309 119.1 309.7 119.3 310.4 119.1 311.1 118.3 311.8 119.3 312.5 117.8 313.2 117.6 313.9 118.2 314.6 117.9 315.3 117.6 316 117.2 316.7 117.2 317.4 116.7 318.1 115.9 318.8 117 319.5 115.8 320.2 116.1 320.9 116.4 321.6 115.9 322.3 117.2 323 114.7 323.7 114.9 324.4 115.2 325.1 115.7 325.8 114.7 326.5 113.9 327.2 115.1 327.9 113.9 328.6 114.1 329.3 114.6 330 113.6 330.7 113.6 331.4 114 332.1 113.5 332.8 113.7 333.5 112.9 334.2 113.3 334.9 112.7 335.6 112.3 336.3 114.1 337 113.3 337.7 113.4 338.4 112.3 339.1 112.8 339.8 112.6 340.5 111.9 341.2 112.9 341.9 112.1 342.6 112.3 343.3 111.5 344 112.9 344.7 112.7 345.4 112.4 346.1 111.6 346.8 111.8 347.5 112.7 348.2 111.8 348.9 112 349.6 111.9 350.3 111.1 351 112.5 351.7 110.5 352.4 111.7 353.1 111.5 353.8 110.6 354.5 111.6 355.2 111.6 355.9 111.3 356.6 110.7 357.3 111.4 358 111.7 358.7 111.1 359.4 111.8 360.1 111.3 360.8 111.2 361.5 111.4 362.2 110.2 362.9 110.2 363.6 110.7 364.3 110.6 365 111 365.7 110.7 366.4 110.1 367.1 110 367.8 109.7 368.5 109.5 369.2 109.4 369.9 110 370.6 109.2 371.3 109.2 372 109.4 372.7 108.9 373.4 109 374.1 107.9 374.8 109.2 375.5 108.8 376.2 109 376.9 109 377.6 107.7 378.3 110 379 108.7 379.7 108.7 380.4 107.6 381.1 108.9 381.8 108.8 382.5 108.4 383.2 108.7 383.9 109.3 384.6 108.4 385.3 108.1 386 109.3 386.7 108.8 387.4 108.6 388.1 110 388.8 108.8 389.5 108.7 390.2 109 390.9 108.6 391.6 109 392.3 109 393 108.6 393.7 108.9 394.4 109.3 395.1 109.3 395.8 109.5 396.5 109.7 397.2 109.4 397.9 109.6 398.6 109.2 399.3 109.3 400 110.1 400.7 108.5 401.4 109.8 402.1 111.4 402.8 108.6 403.5 110.5 404.2 108.8 404.9 110 405.6 110.7 406.3 110.6 407 109.3 407.7 109.1 408.4 109 409.1 110.2 409.8 109.6 410.5 109.8 411.2 110 411.9 110.1 412.6 110.1 413.3 109.9 414 108.9 414.7 110.6 415.4 108.3 416.1 110.5 416.8 109.5 417.5 109.7 418.2 109.5 418.9 109.6 419.6 109.8 420.3 109.7 421 109.2 421.7 110.3 422.4 109.5 423.1 110.6 423.8 109.7 424.5 109.4 425.2 110.1 425.9 110.3 426.6 109.3 427.3 109.7 428 110.6 428.7 109.3 429.4 109.4 430.1 109.9 430.8 109.2 431.5 108.5 432.2 108.9 432.9 110 433.6 110.2 434.3 110.1 435 110 435.7 109.1 436.4 110.2 437.1 110.5 437.8 109.5 438.5 110.4 439.2 109.7 439.9 110 440.6 110.1 441.3 109.1 442 110.8 442.7 109.5 443.4 110 444.1 109.8 444.8 110.3 445.5 110.4 446.2 110.2 446.9 111 447.6 110.4 448.3 110.1 449 108.7 449.7 110.2 450.4 110.2 451.1 110 451.8 110 452.5 110.9 453.2 111.2 453.9 111.7 454.6 111.3 455.3 110.3 456 110.9 456.7 110.1 457.4 111.3 458.1 111.1 458.8 110.6 459.5 110.9 460.2 110.9 460.9 110.7 461.6 111.9 462.3 112.9 463 111.7 463.7 111.8 464.4 111.4 465.1 111.1 465.8 112.6 466.5 111.2 467.2 111.6 467.9 111.4 468.6 111.8 469.3 111.5 470 111.9 470.7 110.8 471.4 111.5 472.1 112.3 472.8 111 473.5 111.3 474.2 112.4 474.9 111.9 475.6 112.3 476.3 110.5 477 111.8 477.7 111 478.4 111 479.1 112 479.8 112.5 480.5 111 481.2 111.2 481.9 111.5 482.6 111.8 483.3 111.2 484 113.2 484.7 112.2 485.4 111.7 486.1 111.7 486.8 113.3 487.5 113.2 488.2 111.7 488.9 112.2 489.6 112.7 490.3 111.4 491 111.7 491.7 112.8 492.4 111.7 493.1 111.9 493.8 111.4 494.5 111.7 495.2 112.5 495.9 111.7 496.6 111.5 497.3 111.8 498 113.2 498.7 112.3 499.4 111.9 500.1 112.3 500.8 112.5 501.5 112.3 502.2 111.3 502.9 112.5 503.6 112.2 504.3 112.8 505 111.6 505.7 112.9 506.4 112.1 507.1 111.4 507.8 113.1 508.5 112.1 509.2 112.6 509.9 112.3 510.6 113 511.3 113.1 512 113.1 512.7 112.9 513.4 111.6 514.1 111.6 514.8 112.6 515.5 112 516.2 112.8 516.9 112.6 517.6 111.8 518.3 112 519 111.9 519.7 112.1 520.4 112.5 521.1 113 521.8 113.4 522.5 112.1 523.2 112.3 523.9 113.5 524.6 113.2 525.3 112.8 526 111.4 526.7 112.1 527.4 112.8 528.1 112.4 528.8 113.8 529.5 112.8 530.2 112.9 530.9 112.2 531.6 112.2 532.3 112.4 533 112.5 533.7 112.7 534.4 113 535.1 113 535.8 113.4 536.5 112.1 537.2 113 537.9 113 538.6 113.8 539.3 112.8 540 113.1 540.7 112.5 541.4 113.2 542.1 113.2 542.8 112.6 543.5 112.7 544.2 113 544.9 113.3 545.6 112.4 546.3 113.5 547 112.9 547.7 114.1 548.4 113.9 549.1 112.9 549.8 112.7 550.5 114.5 551.2 113.5 551.9 113.5 552.6 112.9 553.3 113.1 554 113.6 554.7 113.5 555.4 112.7 556.1 113.9 556.8 113.4 557.5 112.7 558.2 113.8 558.9 113.2 559.6 113.7 560.3 113 561 113.5 561.7 112.4 562.4 113.6 563.1 112.5 563.8 113.5 564.5 112 565.2 113.4 565.9 113.8 566.6 113.7 567.3 114.1 568 112.9 568.7 114.4 569.4 114.4 570.1 112.9 570.8 113.1 571.5 113.2 572.2 113.6 572.9 113.7 573.6 112.2 574.3 114 575 113.5 575.7 113.1 576.4 114.2 577.1 113.5 577.8 114.4 578.5 114 579.2 113.6 579.9 114.4 580.6 114.2 581.3 113.5 582 112.9 582.7 113.5 583.4 114.2 584.1 113.8 584.8 114.9 585.5 114.1 586.2 114.1 586.9 114.2 587.6 113.5 588.3 113.9 589 113.7 589.7 112.7 590.4 113.1 591.1 114.5 591.8 113.9 592.5 114.1 593.2 113.3 593.9 113.8 594.6 114.6 595.3 114.3 596 113.9 596.7 115.1 597.4 114.2 598.1 114.1 598.8 115 599.5 113.4 600.2 114.7 600.9 113.8 601.6 114 602.3 114.1 603 114.5 603.7 114.5 604.4 114.7 605.1 114.6 605.8 115.3 606.5 115.5 607.2 115 607.9 115 608.6 114.4 609.3 114 610 115 610.7 114.7 611.4 115.2 612.1 113.7 612.8 116.2 613.5 114.1 614.2 114.8 614.9 115.4 615.6 114.1 616.3 114.6 617 113.8 617.7 114.1 618.4 113.9 619.1 115 619.8 115.1 620.5 114.8 621.2 115.7 621.9 115.8 622.6 115.1 623.3 115 624 115 624.7 114.9 625.4 115.9 626.1 115.3 626.8 115 627.5 115.1 628.2 115.6 628.9 115.1 629.6 115.5 630.3 115.3 631 116.1 631.7 116 632.4 114.6 633.1 115.3 633.8 115.8 634.5 115.2 635.2 115.9 635.9 115.7 636.6 115.8 637.3 115.5 638 115.7 638.7 115.9 639.4 114.8 640.1 115.1 640.8 115.1 641.5 116.6 642.2 115.9 642.9 115.9 643.6 115.8 644.3 115.5 645 115.4 645.7 116.3 646.4 115.6 647.1 116.7 647.8 116 648.5 115.9 649.2 115.8 649.9 115.9 650.6 116 651.3 116.8 652 117.3 652.7 115.4 653.4 116.2 654.1 116.4 654.8 115.6 655.5 115.7 656.2 115.8 656.9 114.8 657.6 116.5 658.3 116.1 659 116.1 659.7 116.2 660.4 116.3 661.1 117.5 661.8 116.3 662.5 116.7 663.2 116 663.9 116.5 664.6 116.1 665.3 116.2 666 115.8 666.7 115.9 667.4 116.6 668.1 116.8 668.8 116.7 669.5 116.1 670.2 116.6 670.9 115.1 671.6 117 672.3 116.5 673 116.7 673.7 117.2 674.4 116.3 675.1 117.1 675.8 116.3 676.5 116.9 677.2 116.4 677.9 116.8 678.6 117.4 679.3 116.3 680 116.3 680.7 116.5 681.4 116.9 682.1 118.2 682.8 116.4 683.5 115.6 684.2 116.4 684.9 115.9 685.6 116.5 686.3 116.8 687 116.3 687.7 116.5 688.4 115.8 689.1 117 689.8 116.5 690.5 117.5 691.2 117.5 691.9 116.5 692.6 116.8 693.3 117 694 117.4 694.7 116.1 695.4 117 696.1 118.1 696.8 117 697.5 117.2 698.2 117.1 698.9 116.4 699.6 117.6 700.3 117.3 701 117.2 701.7 117.5 702.4 117.6 703.1 116.1 703.8 117.5 704.5 116.9 705.2 117.3 705.9 116.8 706.6 116.8 707.3 117.8 708 117.3 708.7 117.1 709.4 117.1 710.1 117.4 710.8 117.3 711.5 116 712.2 116.9 712.9 117.2 713.6 117.8 714.3 118.1 715 116.9 715.7 118.5 716.4 117.5 717.1 117.7 717.8 117.2 718 117.1"/>
<path d="M98.5 359L101 359 101 359 101 359 101 358.9 101.1 358.7 101.1 358.5 101.2 358.3 101.3 357.9 101.4 357.5 101.6 357 101.8 356.4 102 355.7 102.2 354.9 102.5 354 102.7 353 103.1 351.9 103.4 350.7 103.8 349.5 104.3 348.1 104.7 346.6 105.3 345.1 105.8 343.4 106.4 341.7 107 339.9 107.7 338 108.4 336.1 109.2 333.8 110 332 110.9 329.8 111.8 327.8 112.7 325.4 113.7 323 114.8 320.8 115.9 318.6 117 316.1 118.2 313.6 119.5 310.7 120.8 309 122.2 306.4 123.6 304.8 125.1 301.5 126.6 299 128.2 296.3 129.9 294.6 131.6 291.6 133.3 288.9 135.2 287.8 137 285.5 139 281.9 141 279.2 142 279.2 142.7 277.4 143.4 278.6 144.1 276.2 144.8 276 145.5 274 146.2 274 146.9 273.8 147.6 272.7 148.3 271.5 149 272.4 149.7 270.8 150.4 269.5 151.1 268.6 151.8 268.1 152.5 268.3 153.2 266.5 153.9 266.2 154.6 265.1 155.3 265.6 156 264.2 156.7 264.1 157.4 263.3 158.1 262 158.8 262.1 159.5 261.6 160.2 259.8 160.9 260.2 161.6 261.2 162.3 258.5 163 258.4 163.7 256.7 164.4 257.1 165.1 256 165.8 256.1 166.5 255.1 167.2 253.9 167.9 254.6 168.6 253.3 169.3 252.3 170 252.4 170.7 251.3 171.4 251.5 172.1 250.7 172.8 250 173.5 250 174.2 248.4 174.9 249.1 175.6 247 176.3 248.4 177 247.1 177.7 246.4 178.4 245.6 179.1 245.8 179.8 244.9 180.5 244.4 181.2 244.6 181.9 243.3 182.6 243 183.3 242.9 184 242.8 184.7 241.6 185.4 241.3 186.1 240.8 186.8 240.7 187.5 240.7 188.2 238.9 188.9 238.9 189.6 238.5 190.3 238.4 191 238.5 191.7 237.2 192.4 236.9 193.1 237 193.8 235.2 194.5 235.1 195.2 234.8 195.9 234.6 196.6 234.3 197.3 233.5 198 234.3 198.7 232.6 199.4 232.4 200.1 232.7 200.8 232.1 201.5 231.3 202.2 231.1 202.9 230.9 203.6 230 204.3 230 205 228.7 205.7 228.8 206.4 227.4 207.1 227.4 207.8 226.9 208.5 227.8 209.2 226.4 209.9 226.4 210.6 225.4 211.3 225.3 212 224.9 212.7 224.2 213.4 224.7 214.1 222.9 214.8 223.8 215.5 224.6 216.2 222.2 216.9 222.3 217.6 221.1 218.3 221.5 219 220.2 219.7 221.2 220.4 220.2 221.1 219.1 221.8 219 222.5 218.5 223.2 218.9 223.9 219.2 224.6 218.1 225.3 217.3 226 217.2 226.7 217.4 227.4 215.6 228.1 217 228.8 216.6 229.5 214.6 230.2 216.3 230.9 214.4 231.6 214.9 232.3 215.4 233 213.5 233.7 213 234.4 213.1 235.1 212.9 235.8 213.1 236.5 212.6 237.2 212.3 237.9 212 238.6 211.9 239.3 211.2 240 211.6 240.7 211.1 241.4 210.3 242.1 211.6 242.8 209.6 243.5 210.5 244.2 209.4 244.9 209.8 245.6 209.6 246.3 209.5 247 209.6 247.7 208.1 248.4 209.9 249.1 208.3 249.8 207.4 250.5 206.9 251.2 208.8 251.9 208.1 252.6 207 253.3 207.2 254 207.3 254.7 206.4 255.4 205.9 256.1 205.9 256.8 206.2 257.5 205.6 258.2 204.6 258.9 205.6 259.6 204 260.3 204.3 261 205.2 261.7 204.5 262.4 204.3 263.1 204 263.8 204.3 264.5 203.5 265.2 202.3 265.9 203.3 266.6 201.3 267.3 201.6 268 203.5 268.7 203 269.4 201.9 270.1 202 270.8 201.9 271.5 202.2 272.2 201 272.9 200.7 273.6 200.6 274.3 200.9 275 200.7 275.7 200.2 276.4 200.6 277.1 199.4 277.8 199.7 278.5 199.1 279.2 198.7 279.9 199.8 280.6 198.7 281.3 198 282 198.4 282.7 197.6 283.4 198.2 284.1 198.1 284.8 198 285.5 196.5 286.2 196.8 286.9 197.6 287.6 196.2 288.3 196.8 289 196.7 289.7 194.8 290.4 196 291.1 195.4 291.8 195.2 292.5 195.4 293.2 194.5 293.9 194 294.6 194 295.3 193.2 296 193.4 296.7 191.8 297.4 193.6 298.1 192.1 298.8 192.5 299.5 192.1 300.2 191.8 300.9 191.5 301.6 191.3 302.3 190.1 303 190.5 303.7 191.3 304.4 189.8 305.1 189.6 305.8 191.2 306.5 190.5 307.2 190.6 307.9 189.5 308.6 189.5 309.3 189.6 310 189.3 310.7 188.8 311.4 187.9 312.1 188.1 312.8 187.5 313.5 189.1 314.2 187.9 314.9 187.8 315.6 188 316.3 187.7 317 187.8 317.7 187 318.4 186.4 319.1 188.1 319.8 186.6 320.5 186.6 321.2 186.2 321.9 186.3 322.6 186.4 323.3 186.7 324 185.6 324.7 186.2 325.4 185.5 326.1 186.5 326.8 185 327.5 185.6 328.2 185.8 328.9 184.5 329.6 185.2 330.3 185.1 331 184.5 331.7 184.7 332.4 185.2 333.1 184.7 333.8 184.2 334.5 184.2 335.2 184.4 335.9 184.8 336.6 184.4 337.3 184.2 338 184.6 338.7 182.7 339.4 182.6 340.1 182.1 340.8 183.7 341.5 181.8 342.2 182.9 342.9 183.3 343.6 181.9 344.3 182.2 345 182.3 345.7 182.8 346.4 181.4 347.1 182.3 347.8 182.4 348.5 182 349.2 181.9 349.9 182.4 350.6 181.8 351.3 181.5 352 181.3 352.7 181.7 353.4 181.1 354.1 181.6 354.8 181.2 355.5 181.7 356.2 180.6 356.9 181 357.6 181.1 358.3 181.1 359 181.4 359.7 181 360.4 181.2 361.1 181.7 361.8 181 362.5 179.9 363.2 179.7 363.9 180.8 364.6 180.2 365.3 180.5 366 180.2 366.7 181 367.4 180.9 368.1 179.5 368.8 180.3 369.5 179.9 370.2 179.3 370.9 180.3 371.6 179.9 372.3 180.2 373 181.2 373.7 180.6 374.4 180.4 375.1 179.6 375.8 179.1 376.5 180.4 377.2 179.5 377.9 179.7 378.6 179.5 379.3 179.7 380 181 380.7 179.4 381.4 179.5 382.1 179.7 382.8 179.8 383.5 178.9 384.2 178.6 384.9 179.3 385.6 179.5 386.3 179.2 387 179.1 387.7 179.1 388.4 179.4 389.1 179.6 389.8 178.7 390.5 179.3 391.2 179.8 391.9 179.6 392.6 178.9 393.3 179.5 394 179.7 394.7 180.1 395.4 178.8 396.1 180.1 396.8 179.5 397.5 179.9 398.2 180.1 398.9 179.3 399.6 179.3 400.3 179.7 401 180.2 401.7 179.5 402.4 179.1 403.1 179.5 403.8 180.1 404.5 180.5 405.2 179.7 405.9 179.8 406.6 179.9 407.3 179.9 408 179.5 408.7 179.8 409.4 180.2 410.1 180.1 410.8 180.1 411.5 179.6 412.2 179.8 412.9 179.8 413.6 180.8 414.3 181 415 180.4 415.7 181.1 416.4 180.1 417.1 180.1 417.8 179.6 418.5 180.5 419.2 180.1 419.9 180.4 420.6 180.7 421.3 180.3 422 179.9 422.7 180.5 423.4 180.5 424.1 180.6 424.8 180.9 425.5 180.5 426.2 180.5 426.9 181.6 427.6 181.2 428.3 180.6 429 180.2 429.7 180.5 430.4 181 431.1 181.2 431.8 182.1 432.5 180.7 433.2 180.9 433.9 180.7 434.6 180.9 435.3 180.7 436 180.3 436.7 181.5 437.4 181 438.1 181.7 438.8 180.7 439.5 181.2 440.2 181.4 440.9 180.1 441.6 180.4 442.3 181.5 443 181.2 443.7 180.2 444.4 180.8 445.1 180.7 445.8 181 446.5 182.1 447.2 181 447.9 182.4 448.6 181.2 449.3 181 450 182.3 450.7 181.9 451.4 182.2 452.1 182.5 452.8 182.1 453.5 182.2 454.2 180.6 454.9 181.1 455.6 181.8 456.3 181.7 457 182 457.7 181.4 458.4 182.3 459.1 182.8 459.8 182.1 460.5 182.2 461.2 182.1 461.9 182.3 462.6 182 463.3 181.6 464 182 464.7 182 465.4 181.1 466.1 182.1 466.8 182 467.5 182.1 468.2 181.7 468.9 182.3 469.6 182.4 470.3 181.6 471 182.2 471.7 182.5 472.4 182.5 473.1 181.6 473.8 181.5 474.5 182.1 475.2 181.6 475.9 183.5 476.6 181.7 477.3 181.7 478 182.5 478.7 181.9 479.4 180.9 480.1 182.1 480.8 181.7 481.5 182 482.2 181.4 482.9 181.8 483.6 182.2 484.3 182.2 485 181.7 485.7 181.9 486.4 181.9 487.1 182.4 487.8 182.3 488.5 181.7 489.2 182.7 489.9 182 490.6 182.6 491.3 181.9 492 182.6 492.7 182.4 493.4 182.5 494.1 182.7 494.8 182.7 495.5 182.6 496.2 182.6 496.9 181.8 497.6 182.5 498.3 181.4 499 181.3 499.7 182.4 500.4 182.5 501.1 183.4 501.8 183 502.5 183.2 503.2 182.5 503.9 182.9 504.6 183.3 505.3 183 506 182.9 506.7 182.8 507.4 182.2 508.1 182.3 508.8 182 509.5 183 510.2 182.6 510.9 182.4 511.6 183 512.3 182.5 513 183.4 513.7 183.9 514.4 183.1 515.1 182.5 515.8 182.1 516.5 184 517.2 183.2 517.9 182.3 518.6 183.5 519.3 182.1 520 182.7 520.7 182.9 521.4 182.8 522.1 182.4 522.8 184.3 523.5 182.8 524.2 183.3 524.9 183.1 525.6 182.2 526.3 182.8 527 183.2 527.7 183.6 528.4 183 529.1 183.4 529.8 183 530.5 183.5 531.2 181.8 531.9 183.5 532.6 182.9 533.3 182.9 534 181.7 534.7 182.7 535.4 183.6 536.1 184.5 536.8 182.9 537.5 183 538.2 183.6 538.9 183.5 539.6 183 540.3 183.3 541 183.2 541.7 183.7 542.4 183.8 543.1 184.4 543.8 183.9 544.5 183.8 545.2 183.5 545.9 184 546.6 182.9 547.3 184.7 548 183.7 548.7 184.3 549.4 183.1 550.1 184.1 550.8 183.8 551.5 183.5 552.2 183.2 552.9 183.1 553.6 184.6 554.3 184.3 555 183.7 555.7 183.7 556.4 183.3 557.1 182.7 557.8 182.7 558.5 183.4 559.2 183.6 559.9 183.1 560.6 184.2 561.3 184 562 183.8 562.7 182.8 563.4 183.7 564.1 183.8 564.8 183.1 565.5 182.6 566.2 184.9 566.9 184.2 567.6 183.6 568.3 184.7 569 184.5 569.7 184.1 570.4 184 571.1 184.3 571.8 184.7 572.5 184 573.2 183.8 573.9 184.3 574.6 182.4 575.3 184 576 183.7 576.7 184 577.4 183.9 578.1 184.2 578.8 184.1 579.5 184.1 580.2 184 580.9 184.3 581.6 183.8 582.3 184.6 583 183.2 583.7 184.2 584.4 184.4 585.1 183.4 585.8 183.9 586.5 184.9 587.2 184.1 587.9 183.7 588.6 182.5 589.3 184.4 590 184.2 590.7 184.5 591.4 185.3 592.1 184.2 592.8 184.3 593.5 183.9 594.2 184.2 594.9 184.2 595.6 184.7 596.3 184.6 597 183.9 597.7 184 598.4 185.1 599.1 183.8 599.8 184.7 600.5 185.2 601.2 184.7 601.9 184.5 602.6 185.1 603.3 184.6 604 184.4 604.7 184.3 605.4 185 606.1 184.8 606.8 185.3 607.5 184.2 608.2 184.3 608.9 184.2 609.6 184.6 610.3 184.1 611 185 611.7 184.7 612.4 184 613.1 182.9 613.8 183.5 614.5 185.3 615.2 184.5 615.9 184.6 616.6 184.3 617.3 184.8 618 183.5 618.7 183.5 619.4 183.7 620.1 184.6 620.8 185 621.5 184.9 622.2 184.5 622.9 183.9 623.6 185.1 624.3 184.5 625 184.6 625.7 184.6 626.4 184.4 627.1 184.3 627.8 184.3 628.5 184 629.2 184.8 629.9 184.6 630.6 185.3 631.3 183.7 632 185.4 632.7 184.7 633.4 184.6 634.1 184.3 634.8 184.3 635.5 183.9 636.2 185.3 636.9 184.7 637.6 185.2 638.3 185.2 639 184.5 639.7 184.7 640.4 184.6 641.1 185.4 641.8 184.9 642.5 184.9 643.2 185.2 643.9 184.8 644.6 186 645.3 184.3 646 185.5 646.7 185.6 647.4 184.2 648.1 185.4 648.8 185 649.5 185.4 650.2 184.2 650.9 185 651.6 184.4 652.3 184.7 653 185.7 653.7 184.9 654.4 183.7 655.1 184.2 655.8 184.3 656.5 185.5 657.2 184.6 657.9 184.1 658.6 185.6 659.3 185.1 660 185.2 660.7 184.5 661.4 185.8 662.1 184.9 662.8 183.9 663.5 184.4 664.2 184.5 664.9 184.9 665.6 185.4 666.3 184.6 667 184.7 667.7 186.2 668.4 185.1 669.1 184.8 669.8 185.1 670.5 184.4 671.2 185.3 671.9 185.6 672.6 184.7 673.3 185.6 674 184.9 674.7 185.2 675.4 184.7 676.1 184.6 676.8 184.3 677.5 185.2 678.2 184.9 678.9 185 679.6 184.5 680.3 184.5 681 184.8 681.7 185.4 682.4 185.3 683.1 184.7 683.8 185.3 684.5 186.1 685.2 185.2 685.9 186.2 686.6 185.4 687.3 185.9 688 184.9 688.7 185.8 689.4 184.5 690.1 185.3 690.8 185 691.5 184.1 692.2 184.4 692.9 185.8 693.6 185.4 694.3 185.9 695 185.3 695.7 183.6 696.4 185.3 697.1 184.9 697.8 184.9 698.5 184.9 699.2 184.8 699.9 184.7 700.6 185.9 701.3 185.4 702 184.8 702.7 185 703.4 185.7 704.1 185.4 704.8 185.3 705.5 184.5 706.2 185 706.9 184.6 707.6 184.1 708.3 185.7 709 185 709.7 185 710.4 184.7 711.1 185.6 711.8 186.3 712.5 185.5 713.2 185.7 713.9 184.5 714.6 185.3 715.3 185.3 716 186 716.7 185.2 717.4 184.7 718 185.2"/>
<path d="M98.5 359L98.5 358.8 98.6 358.7 98.7 358.5 98.8 358.3 98.9 358 99 357.7 99.2 357.4 99.4 357.1 99.6 356.7 99.9 356.4 100.2 356 100.5 355.7 100.9 355.3 101.3 355 101.7 354.6 102.2 354.2 102.7 353.9 103.3 353.5 103.9 353.1 104.5 352.7 105.2 352.3 105.9 351.8 106.7 351.3 107.5 350.8 108.3 350.1 109.2 349.7 110.2 349.3 111.2 348.6 112.2 347.7 113.3 347.5 114.5 346.5 115.7 346.1 117 344.7 118.3 344.2 119.6 343.7 121.1 342.9 122.5 342.2 124.1 341.1 125.7 340.1 127.3 339.6 129 338.9 130.8 336.6 132.6 336.3 134.5 335.4 136.4 334.6 138.4 334.1 139.4 332.3 140.1 333 140.8 331.4 141.5 331.6 142.2 331.3 142.9 331.1 143.6 330.6 144.3 330.3 145 330.1 145.7 329.8 146.4 328.6 147.1 328.5 147.8 328.7 148.5 328.9 149.2 328.8 149.9 329.5 150.6 327.7 151.3 326.9 152 327.1 152.7 327 153.4 326.4 154.1 325.4 154.8 325.6 155.5 325.4 156.2 324.3 156.9 324.1 157.6 325.1 158.3 322.9 159 323.9 159.7 323.4 160.4 324 161.1 323.3 161.8 322.1 162.5 323 163.2 321.7 163.9 322.8 164.6 322.3 165.3 321.1 166 321.3 166.7 320.6 167.4 319.8 168.1 320.5 168.8 319.9 169.5 319.8 170.2 319.7 170.9 319.6 171.6 319.1 172.3 318.2 173 318 173.7 317.9 174.4 317.3 175.1 317 175.8 317.9 176.5 316.8 177.2 317.3 177.9 315.6 178.6 315.7 179.3 315.2 180 315 180.7 314.8 181.4 314.6 182.1 314.1 182.8 315.1 183.5 314.2 184.2 313.2 184.9 313 185.6 313.4 186.3 313.1 187 312.2 187.7 312.8 188.4 311.2 189.1 311.5 189.8 312.4 190.5 309.8 191.2 310.9 191.9 311.3 192.6 310.4 193.3 309.8 194 309.5 194.7 308.6 195.4 308.8 196.1 309.3 196.8 308.8 197.5 308.8 198.2 308.5 198.9 308.5 199.6 307.3 200.3 307.8 201 307.5 201.7 307.3 202.4 306.8 203.1 305.9 203.8 307.2 204.5 307.1 205.2 307.7 205.9 306.6 206.6 306.9 207.3 306.1 208 305.4 208.7 305.7 209.4 304.6 210.1 305.1 210.8 304.7 211.5 304 212.2 305.1 212.9 304.8 213.6 304.3 214.3 304.3 215 304.5 215.7 303.3 216.4 302.5 217.1 302.5 217.8 303.2 218.5 302.8 219.2 301.6 219.9 303 220.6 302.2 221.3 302.8 222 302.3 222.7 301.3 223.4 301.4 224.1 300.7 224.8 300.5 225.5 300.6 226.2 300.8 226.9 301.1 227.6 299.7 228.3 300.3 229 299.8 229.7 299.5 230.4 300 231.1 299 231.8 299.8 232.5 298.6 233.2 298.1 233.9 298.9 234.6 297.5 235.3 297.4 236 297.8 236.7 297.7 237.4 297.4 238.1 296.2 238.8 296.4 239.5 297.2 240.2 297.1 240.9 296 241.6 296.5 242.3 296.3 243 296.6 243.7 295.4 244.4 296.5 245.1 295.3 245.8 296.1 246.5 295.6 247.2 294.4 247.9 294.6 248.6 294.7 249.3 294.9 250 293.4 250.7 293.7 251.4 294.2 252.1 293.9 252.8 292.9 253.5 292.8 254.2 293.3 254.9 292.4 255.6 292.9 256.3 293.1 257 292.4 257.7 290.7 258.4 292.7 259.1 292.5 259.8 292.4 260.5 291.9 261.2 290.4 261.9 291.9 262.6 291.1 263.3 291.3 264 290.5 264.7 290.3 265.4 290.1 266.1 291 266.8 290.1 267.5 289.6 268.2 288.9 268.9 289.7 269.6 289.2 270.3 289.2 271 289.4 271.7 289.1 272.4 288.6 273.1 288.5 273.8 288.3 274.5 288.5 275.2 288.3 275.9 287.9 276.6 287.2 277.3 287.9 278 287.8 278.7 286.6 279.4 287.2 280.1 286.7 280.8 285.5 281.5 286.6 282.2 287 282.9 285.9 283.6 285.8 284.3 286.6 285 285.3 285.7 285.3 286.4 285.5 287.1 285.9 287.8 285.8 288.5 285 289.2 285 289.9 285.1 290.6 284.7 291.3 284.4 292 284.1 292.7 285 293.4 284.4 294.1 286 294.8 284.6 295.5 283.8 296.2 284.1 296.9 284.1 297.6 284.1 298.3 284 299 283.9 299.7 283.5 300.4 283.8 301.1 284.5 301.8 283 302.5 282.9 303.2 283.4 303.9 283.6 304.6 283.3 305.3 283.4 306 282.6 306.7 282.4 307.4 282.8 308.1 282.7 308.8 283.1 309.5 283 310.2 281 310.9 282.4 311.6 281.5 312.3 280.6 313 281.8 313.7 281.4 314.4 281.2 315.1 280.6 315.8 280.6 316.5 281 317.2 280.2 317.9 280.8 318.6 280.8 319.3 280.6 320 280.7 320.7 280.4 321.4 279.7 322.1 279.6 322.8 280.1 323.5 280.5 324.2 279.9 324.9 279.4 325.6 279.7 326.3 278.4 327 278.8 327.7 279 328.4 279 329.1 278.7 329.8 278.6 330.5 278 331.2 278.2 331.9 278.5 332.6 277.2 333.3 277.4 334 277.7 334.7 278.5 335.4 277.9 336.1 278.3 336.8 278 337.5 276.8 338.2 276.9 338.9 276.1 339.6 277.2 340.3 276.8 341 276.5 341.7 276.3 342.4 276 343.1 275.6 343.8 275.3 344.5 275.5 345.2 274.1 345.9 273.6 346.6 273.9 347.3 274.1 348 273.3 348.7 272.7 349.4 272.9 350.1 272.2 350.8 270.7 351.5 270.9 352.2 270 352.9 270.8 353.6 270.4 354.3 270.7 355 271.5 355.7 269.8 356.4 270.1 357.1 269.8 357.8 268.4 358.5 269.5 359.2 269.4 359.9 269.9 360.6 269.2 361.3 268.9 362 269.9 362.7 269.5 363.4 269 364.1 269 364.8 269.2 365.5 269.8 366.2 270.1 366.9 268.6 367.6 269.9 368.3 269.3 369 269.4 369.7 269.8 370.4 268.7 371.1 269.7 371.8 268.5 372.5 269 373.2 268.7 373.9 270.1 374.6 270.1 375.3 269.7 376 269.5 376.7 269 377.4 270.2 378.1 270.1 378.8 269.8 379.5 269.3 380.2 269.2 380.9 269.4 381.6 270.2 382.3 268.9 383 269.6 383.7 270.4 384.4 270 385.1 270.5 385.8 269.8 386.5 269.9 387.2 270.4 387.9 270.1 388.6 269.9 389.3 269.5 390 269 390.7 270.7 391.4 269.6 392.1 269.5 392.8 270.4 393.5 269.5 394.2 269.2 394.9 269.7 395.6 270 396.3 270.2 397 270.3 397.7 270.6 398.4 270 399.1 270.3 399.8 270.1 400.5 269.8 401.2 270.3 401.9 270.3 402.6 271.1 403.3 270.5 404 269.7 404.7 270.5 405.4 270 406.1 271 406.8 269.2 407.5 269.8 408.2 269.8 408.9 270.2 409.6 270.1 410.3 269.3 411 269.1 411.7 270.2 412.4 270.9 413.1 270.9 413.8 269.9 414.5 270.4 415.2 269.7 415.9 269.3 416.6 270.8 417.3 270.5 418 269.9 418.7 269.9 419.4 270.6 420.1 270.3 420.8 269.9 421.5 270.3 422.2 270.1 422.9 269.9 423.6 269.7 424.3 270.6 425 269.9 425.7 269.5 426.4 271.1 427.1 270.8 427.8 270.4 428.5 270.1 429.2 270.2 429.9 269.3 430.6 270.1 431.3 270.3 432 270 432.7 270.4 433.4 269.7 434.1 270.2 434.8 269.3 435.5 270.1 436.2 269.8 436.9 269.4 437.6 269.9 438.3 270.1 439 269.8 439.7 270.6 440.4 269.7 441.1 270.6 441.8 270.5 442.5 269.8 443.2 270.9 443.9 269.4 444.6 270.4 445.3 270.2 446 270.5 446.7 269.3 447.4 269.5 448.1 269.7 448.8 270.1 449.5 270.2 450.2 270.1 450.9 270 451.6 269.7 452.3 269.4 453 269.9 453.7 270.4 454.4 270.7 455.1 269.8 455.8 270.7 456.5 269.4 457.2 270.5 457.9 269.5 458.6 270.2 459.3 269.6 460 269.6 460.7 269.8 461.4 270.9 462.1 269.7 462.8 270.4 463.5 270.2 464.2 270.3 464.9 270.3 465.6 270.4 466.3 269.5 467 270.1 467.7 270.3 468.4 269.8 469.1 270.3 469.8 269.6 470.5 270.5 471.2 269.8 471.9 270 472.6 270.6 473.3 270.8 474 269.9 474.7 269.9 475.4 270.7 476.1 268.7 476.8 270.9 477.5 270.9 478.2 269.7 478.9 270.9 479.6 270.5 480.3 270.5 481 269.1 481.7 270.1 482.4 270.2 483.1 270.1 483.8 270.2 484.5 270.2 485.2 268.8 485.9 270.3 486.6 270 487.3 270.4 488 270.2 488.7 270.5 489.4 270.6 490.1 271.5 490.8 270.1 491.5 271.4 492.2 270.4 492.9 270.1 493.6 269.8 494.3 271.1 495 269.8 495.7 271.1 496.4 270.8 497.1 270.3 497.8 270.3 498.5 270.9 499.2 270.8 499.9 271.1 500.6 270.7 501.3 270.5 502 271.1 502.7 270.1 503.4 271.2 504.1 270.8 504.8 270.2 505.5 270.3 506.2 270.7 506.9 269.9 507.6 271.6 508.3 271.4 509 270.3 509.7 270.8 510.4 271.8 511.1 271.1 511.8 270.4 512.5 269.8 513.2 270.1 513.9 271.6 514.6 271.1 515.3 270.3 516 271.4 516.7 270.8 517.4 270.6 518.1 270.7 518.8 270.7 519.5 271.9 520.2 270.5 520.9 270.8 521.6 271.7 522.3 271.8 523 270.5 523.7 272.1 524.4 271.6 525.1 270.2 525.8 272 526.5 270.2 527.2 271.4 527.9 270.4 528.6 270.1 529.3 271.5 530 271.3 530.7 271 531.4 271.1 532.1 271 532.8 270.9 533.5 270.5 534.2 271.4 534.9 271.1 535.6 270.9 536.3 270.7 537 270.9 537.7 270.2 538.4 270.9 539.1 270.5 539.8 271.8 540.5 270.5 541.2 270.8 541.9 271.1 542.6 271.5 543.3 271.3 544 271.1 544.7 272.3 545.4 271.1 546.1 271.3 546.8 272.6 547.5 270.6 548.2 271.6 548.9 271.3 549.6 270.4 550.3 270.8 551 271.5 551.7 270.3 552.4 271 553.1 271.6 553.8 271 554.5 271.2 555.2 270.7 555.9 270.8 556.6 270.8 557.3 270.9 558 271.5 558.7 271.2 559.4 272.2 560.1 271.4 560.8 271.3 561.5 272.3 562.2 271.1 562.9 270.7 563.6 271.2 564.3 270.5 565 271.4 565.7 271.9 566.4 271.5 567.1 270.9 567.8 271.1 568.5 271.4 569.2 271.8 569.9 270.9 570.6 270.9 571.3 271.7 572 271.3 572.7 271.3 573.4 271.4 574.1 270.7 574.8 271.1 575.5 271.7 576.2 271.1 576.9 271 577.6 271.3 578.3 271.4 579 272.5 579.7 270.7 580.4 271.2 581.1 272.3 581.8 271.2 582.5 271.4 583.2 270.4 583.9 271.7 584.6 271.7 585.3 271.6 586 271.1 586.7 271.4 587.4 271.1 588.1 271.6 588.8 271.2 589.5 271.6 590.2 270.5 590.9 271 591.6 269.6 592.3 271.1 593 271.6 593.7 271.1 594.4 272.5 595.1 270.7 595.8 271 596.5 270.7 597.2 270.9 597.9 270.9 598.6 270.4 599.3 270.7 600 272.3 600.7 271.1 601.4 271.7 602.1 270.5 602.8 271.1 603.5 271.5 604.2 271.1 604.9 270.9 605.6 271.1 606.3 271.2 607 271.7 607.7 271.9 608.4 270.5 609.1 270.1 609.8 271.1 610.5 271.2 611.2 271.6 611.9 271.8 612.6 270.9 613.3 272.4 614 271.4 614.7 270.3 615.4 271.8 616.1 271.4 616.8 271.4 617.5 270.4 618.2 271.1 618.9 271.3 619.6 271.2 620.3 271.6 621 271.9 621.7 272.1 622.4 271.9 623.1 271.2 623.8 272.2 624.5 271.4 625.2 271.7 625.9 271.1 626.6 270.5 627.3 270 628 271.3 628.7 270.9 629.4 271.2 630.1 271.7 630.8 270.4 631.5 270.3 632.2 271.4 632.9 271.5 633.6 271.1 634.3 271 635 270.4 635.7 271.2 636.4 270.9 637.1 271.5 637.8 271.8 638.5 271 639.2 271.5 639.9 271.4 640.6 271.6 641.3 272.1 642 271.6 642.7 271.7 643.4 271.7 644.1 271 644.8 271.3 645.5 271.5 646.2 271.9 646.9 272 647.6 272.5 648.3 270.7 649 271.2 649.7 270.3 650.4 271 651.1 270.4 651.8 271.9 652.5 271.7 653.2 270.7 653.9 271.5 654.6 271.7 655.3 272.2 656 271.7 656.7 271.3 657.4 271.2 658.1 271.6 658.8 271.4 659.5 271 660.2 270.6 660.9 271.9 661.6 270.9 662.3 271.1 663 271.7 663.7 271.3 664.4 271.9 665.1 270.7 665.8 271.7 666.5 270.6 667.2 270.5 667.9 270.7 668.6 271.4 669.3 270.9 670 270.5 670.7 271.9 671.4 270.8 672.1 271.2 672.8 271.4 673.5 271 674.2 271.5 674.9 271.6 675.6 271.2 676.3 271.9 677 271 677.7 270.7 678.4 271.4 679.1 270.8 679.8 271.5 680.5 271.2 681.2 271 681.9 271.6 682.6 271.6 683.3 269.7 684 271.1 684.7 271.4 685.4 271.6 686.1 271 686.8 270.7 687.5 271.4 688.2 271.7 688.9 270.2 689.6 270.5 690.3 271 691 269.9 691.7 271 692.4 271.7 693.1 270.7 693.8 271.4 694.5 270.8 695.2 271.5 695.9 271.7 696.6 272 697.3 271.3 698 271.9 698.7 271.5 699.4 271 700.1 272.1 700.8 271 701.5 271.4 702.2 272.6 702.9 271.8 703.6 270.8 704.3 271.5 705 271 705.7 271.2 706.4 270.5 707.1 271.4 707.8 270.4 708.5 271.5 709.2 271.5 709.9 271.8 710.6 272.5 711.3 270.4 712 270.6 712.7 270.8 713.4 271 714.1 271.8 714.8 271.1 715.5 271 716.2 270.7 716.9 271 717.6 271.1 718 271.2"/>
<path d="M98.5 359L101 359 101 359 101 359 101 359 101.1 358.9 101.1 358.9 101.2 358.8 101.3 358.7 101.4 358.6 101.6 358.4 101.8 358.3 102 358.1 102.2 357.9 102.5 357.8 102.7 357.6 103.1 357.4 103.4 357.2 103.8 357 104.3 356.8 104.7 356.7 105.3 356.5 105.8 356.4 106.4 356.2 107 356.1 107.7 355.9 108.4 355.8 109.2 355.6 110 355.5 110.9 355.2 111.8 355.3 112.7 355.1 113.7 354.9 114.8 354.4 115.9 354.2 117 354.8 118.2 354.1 119.5 354.8 120.8 353.8 122.2 354.1 123.6 353.1 125.1 353.3 126.6 353.3 128.2 353.5 129.9 353.9 131.6 353.3 133.3 351.7 135.2 352.3 137 352 139 351.5 141 351.9 142 352.3 142.7 351.1 143.4 351.9 144.1 351.9 144.8 350.5 145.5 352 146.2 351.8 146.9 351 147.6 351.7 148.3 350.8 149 351.2 149.7 350.8 150.4 349.9 151.1 350.4 151.8 350.1 152.5 349.8 153.2 349.4 153.9 349.5 154.6 349.2 155.3 350.4 156 348.6 156.7 349.6 157.4 349.1 158.1 348.7 158.8 349.7 159.5 348.8 160.2 349.8 160.9 348.9 161.6 349.1 162.3 348.8 163 349.1 163.7 349.2 164.4 348.4 165.1 348.5 165.8 349.4 166.5 348 167.2 349.2 167.9 347.9 168.6 347.8 169.3 347.1 170 347.4 170.7 346.9 171.4 347.4 172.1 348 172.8 347.5 173.5 347.1 174.2 346.8 174.9 346.9 175.6 346.4 176.3 346.4 177 348.1 177.7 347.1 178.4 346.4 179.1 347.2 179.8 347.5 180.5 346.3 181.2 346.5 181.9 345.8 182.6 345.5 183.3 347.1 184 348.2 184.7 345.8 185.4 345.3 186.1 346.9 186.8 346.6 187.5 346.2 188.2 346.7 188.9 345.6 189.6 345.9 190.3 346.1 191 345.4 191.7 345.8 192.4 345.4 193.1 345.7 193.8 345.4 194.5 344.2 195.2 345.3 195.9 344.4 196.6 344.6 197.3 344.1 198 345.4 198.7 344.7 199.4 344.6 200.1 345.4 200.8 345 201.5 344.5 202.2 343.4 202.9 344.8 203.6 344.2 204.3 344.1 205 344.6 205.7 343.8 206.4 344 207.1 344.5 207.8 344.2 208.5 343.5 209.2 344.5 209.9 344.3 210.6 344.6 211.3 343.5 212 343.5 212.7 343.9 213.4 343.5 214.1 343.2 214.8 343 215.5 342.8 216.2 342.5 216.9 342.4 217.6 342.9 218.3 342.4 219 341.7 219.7 342.4 220.4 343.2 221.1 343 221.8 341 222.5 341.6 223.2 342.3 223.9 341.9 224.6 341.8 225.3 341.6 226 341.6 226.7 340.9 227.4 342 228.1 340.7 228.8 341 229.5 341.9 230.2 341.5 230.9 340.8 231.6 340.7 232.3 340.3 233 340.3 233.7 340.3 234.4 341.1 235.1 340 235.8 340.4 236.5 340.3 237.2 340.2 237.9 339.7 238.6 340.1 239.3 339.7 240 339.6 240.7 339.2 241.4 338.2 242.1 339.7 242.8 339.6 243.5 338.8 244.2 338.9 244.9 339 245.6 338.2 246.3 339.1 247 339 247.7 339 248.4 338.9 249.1 337.3 249.8 338.5 250.5 337.9 251.2 338.6 251.9 338.5 252.6 338.3 253.3 337.7 254 339.2 254.7 337.5 255.4 336.9 256.1 337.9 256.8 336.5 257.5 338.2 258.2 337.6 258.9 337.7 259.6 337.5 260.3 337 261 336 261.7 336.3 262.4 336.8 263.1 336.3 263.8 336.5 264.5 335.9 265.2 335.7 265.9 336.2 266.6 336.4 267.3 335.9 268 335.2 268.7 334.8 269.4 336.7 270.1 334.9 270.8 334.9 271.5 334.9 272.2 335.7 272.9 334.7 273.6 335.3 274.3 335.1 275 334.2 275.7 334.9 276.4 334 277.1 334.5 277.8 334.9 278.5 334.3 279.2 333.8 279.9 334 280.6 334 281.3 334.2 282 332.7 282.7 332.9 283.4 334.1 284.1 333.6 284.8 333.6 285.5 333.7 286.2 333.4 286.9 333.1 287.6 333.4 288.3 333.6 289 333.3 289.7 333.1 290.4 332.4 291.1 333.1 291.8 332.2 292.5 332.4 293.2 332.8 293.9 332.7 294.6 333.2 295.3 333 296 332.7 296.7 332.2 297.4 332.3 298.1 332.1 298.8 333.1 299.5 332.3 300.2 331.7 300.9 331.5 301.6 332.6 302.3 331.3 303 331.9 303.7 331.8 304.4 332.2 305.1 331.1 305.8 331.7 306.5 331.5 307.2 331.8 307.9 332 308.6 331.3 309.3 331 310 331.5 310.7 330.2 311.4 331 312.1 330.3 312.8 330.1 313.5 329.8 314.2 329.7 314.9 331 315.6 330.9 316.3 330.5 317 330.9 317.7 330.3 318.4 329.9 319.1 329.5 319.8 330.4 320.5 330.4 321.2 330.5 321.9 329.3 322.6 329.5 323.3 328.8 324 330.1 324.7 329.8 325.4 329.6 326.1 329.2 326.8 329 327.5 328.8 328.2 329.5 328.9 328.5 329.6 329.2 330.3 328.8 331 328 331.7 327.6 332.4 327.9 333.1 328.2 333.8 327.4 334.5 328.3 335.2 328.5 335.9 328 336.6 326.7 337.3 326.2 338 327.9 338.7 328.1 339.4 326.9 340.1 327.3 340.8 326.7 341.5 326.3 342.2 327 342.9 325.9 343.6 326.4 344.3 326.6 345 325.4 345.7 326.2 346.4 324.2 347.1 325.2 347.8 324.5 348.5 325.8 349.2 324.2 349.9 323.7 350.6 324.9 351.3 323.1 352 324.2 352.7 323.4 353.4 324.5 354.1 323.7 354.8 324.1 355.5 323.6 356.2 322.9 356.9 322.3 357.6 324.4 358.3 323.5 359 322.7 359.7 323.1 360.4 323.8 361.1 322.4 361.8 324.4 362.5 323 363.2 322.9 363.9 323.8 364.6 323.2 365.3 322.5 366 323.5 366.7 323.2 367.4 323.6 368.1 322.4 368.8 322.3 369.5 323.3 370.2 322.7 370.9 321.7 371.6 322.6 372.3 323.2 373 322.5 373.7 323.6 374.4 322.6 375.1 322.9 375.8 322 376.5 322.5 377.2 322.8 377.9 323.2 378.6 323 379.3 323.5 380 321.7 380.7 322.9 381.4 322.8 382.1 322.4 382.8 322.9 383.5 322.5 384.2 323.2 384.9 322.8 385.6 323.2 386.3 322.4 387 323.7 387.7 323.2 388.4 323.9 389.1 322.9 389.8 322.7 390.5 323.1 391.2 322.7 391.9 322.4 392.6 323 393.3 323 394 322.7 394.7 322.8 395.4 322.5 396.1 323.1 396.8 322.3 397.5 324 398.2 323.1 398.9 323.6 399.6 322.4 400.3 323.3 401 323 401.7 323.6 402.4 323.6 403.1 322.2 403.8 323.7 404.5 322.3 405.2 323.9 405.9 323.1 406.6 322.5 407.3 323.5 408 323.2 408.7 322.6 409.4 322.8 410.1 323.5 410.8 322.4 411.5 322.7 412.2 324.2 412.9 322.8 413.6 323.4 414.3 323.5 415 323.8 415.7 323.7 416.4 321.9 417.1 323 417.8 323.9 418.5 322.9 419.2 324.3 419.9 323.5 420.6 322.7 421.3 323.7 422 324.4 422.7 323 423.4 323.7 424.1 322.9 424.8 323.1 425.5 323.5 426.2 323.7 426.9 323.6 427.6 323.5 428.3 324.8 429 322.8 429.7 322.4 430.4 323.8 431.1 323.6 431.8 322.7 432.5 324.5 433.2 323.1 433.9 322.7 434.6 323.8 435.3 323.9 436 324.9 436.7 322.7 437.4 322.9 438.1 323.4 438.8 323.4 439.5 323.6 440.2 323.2 440.9 322.8 441.6 323.4 442.3 324.1 443 324.1 443.7 323.4 444.4 324 445.1 324 445.8 323.5 446.5 323.6 447.2 323.8 447.9 325.4 448.6 323.9 449.3 323.4 450 323.8 450.7 323.6 451.4 324.6 452.1 322.8 452.8 323.4 453.5 324.5 454.2 324.2 454.9 324.1 455.6 324.5 456.3 323.3 457 324.3 457.7 323.5 458.4 323.4 459.1 324.5 459.8 323.8 460.5 324 461.2 324.6 461.9 323.7 462.6 324.6 463.3 325.6 464 324.2 464.7 324.9 465.4 324.8 466.1 323.7 466.8 323.7 467.5 324.5 468.2 323.3 468.9 324.5 469.6 324.7 470.3 324.8 471 324.8 471.7 325.4 472.4 324.5 473.1 325.4 473.8 325 474.5 325 475.2 324.7 475.9 325.3 476.6 324.4 477.3 325.2 478 325.5 478.7 324.5 479.4 324.4 480.1 324.5 480.8 324.9 481.5 325.2 482.2 325.5 482.9 326.1 483.6 326 484.3 325.2 485 324.9 485.7 324.5 486.4 325.6 487.1 325.5 487.8 325.1 488.5 325.1 489.2 325.2 489.9 323.8 490.6 325.3 491.3 325.5 492 325.3 492.7 324.8 493.4 325.4 494.1 325.7 494.8 326.4 495.5 326.1 496.2 325.8 496.9 325.5 497.6 324.8 498.3 325.3 499 324.8 499.7 325.5 500.4 326.2 501.1 326.2 501.8 326.2 502.5 325.7 503.2 326.2 503.9 325.6 504.6 324.6 505.3 325.8 506 325.8 506.7 324.8 507.4 325.5 508.1 324.4 508.8 325.6 509.5 326.5 510.2 325.5 510.9 326.6 511.6 326 512.3 325.5 513 324.9 513.7 326.3 514.4 326.3 515.1 325.1 515.8 325.7 516.5 326.6 517.2 325.6 517.9 326.2 518.6 324.9 519.3 325.5 520 326.4 520.7 325.4 521.4 325.2 522.1 325.3 522.8 325.8 523.5 325.2 524.2 326 524.9 326.4 525.6 326.9 526.3 325.9 527 327 527.7 326.4 528.4 326 529.1 326.4 529.8 327 530.5 327 531.2 326.6 531.9 326.1 532.6 326.6 533.3 326.3 534 326.3 534.7 326.3 535.4 327.2 536.1 325.5 536.8 326.1 537.5 325.6 538.2 326.7 538.9 326.8 539.6 327 540.3 326 541 326.3 541.7 326.7 542.4 326.4 543.1 326.4 543.8 326.4 544.5 326.4 545.2 326.2 545.9 326.5 546.6 325.5 547.3 326.1 548 325.6 548.7 326.3 549.4 325.9 550.1 326.6 550.8 327 551.5 325.7 552.2 325.9 552.9 326.5 553.6 327.2 554.3 326.8 555 326.6 555.7 326.4 556.4 326.1 557.1 326.6 557.8 326.7 558.5 326.5 559.2 326.1 559.9 325.5 560.6 326 561.3 326.2 562 325.8 562.7 326.6 563.4 325.7 564.1 326.3 564.8 326.7 565.5 326.9 566.2 326.6 566.9 327.2 567.6 326.2 568.3 326.1 569 327.1 569.7 326 570.4 326.4 571.1 325.6 571.8 327.2 572.5 326.9 573.2 326.1 573.9 325.6 574.6 326.7 575.3 326.7 576 327.2 576.7 327.6 577.4 326.7 578.1 326.5 578.8 326.5 579.5 326.4 580.2 325.8 580.9 326.1 581.6 326.6 582.3 325.7 583 325.9 583.7 327.3 584.4 326.3 585.1 327.1 585.8 327.3 586.5 326.7 587.2 327.1 587.9 326.6 588.6 326.2 589.3 326.6 590 326.7 590.7 326.8 591.4 326.7 592.1 326.5 592.8 327.3 593.5 326.6 594.2 326.5 594.9 327.2 595.6 326.2 596.3 326.7 597 327.6 597.7 326.8 598.4 327.5 599.1 326.6 599.8 326.5 600.5 326.7 601.2 326.5 601.9 326.6 602.6 326.5 603.3 327.2 604 327 604.7 326.7 605.4 326.4 606.1 328.6 606.8 326.7 607.5 327.6 608.2 326.2 608.9 326.4 609.6 327.5 610.3 326.2 611 326.3 611.7 326.8 612.4 326.5 613.1 326.7 613.8 326.9 614.5 327.3 615.2 327 615.9 327 616.6 327.6 617.3 327.7 618 326.7 618.7 325.9 619.4 326.3 620.1 327.5 620.8 326.6 621.5 326.5 622.2 326.7 622.9 327.8 623.6 327 624.3 326.7 625 326.5 625.7 326.3 626.4 328.5 627.1 326.9 627.8 327 628.5 326.8 629.2 327.6 629.9 326.4 630.6 325.9 631.3 326.7 632 327.2 632.7 328.2 633.4 326.9 634.1 326.5 634.8 326.9 635.5 326.6 636.2 326.6 636.9 327.1 637.6 327.2 638.3 326.6 639 327.6 639.7 327 640.4 327.1 641.1 326.7 641.8 327.2 642.5 327.3 643.2 327.4 643.9 326.6 644.6 327.4 645.3 326.7 646 327.1 646.7 327.5 647.4 327.9 648.1 326.8 648.8 326.5 649.5 327.1 650.2 327.8 650.9 326.9 651.6 328.4 652.3 326 653 327.9 653.7 327.7 654.4 327.7 655.1 326.6 655.8 327.9 656.5 327.8 657.2 327.8 657.9 327 658.6 327 659.3 327.8 660 327.3 660.7 326.9 661.4 326.7 662.1 327.3 662.8 326.4 663.5 327.5 664.2 327.2 664.9 326.3 665.6 327.4 666.3 327.8 667 327.3 667.7 326.4 668.4 326.8 669.1 327.6 669.8 326.4 670.5 326.9 671.2 327.8 671.9 327 672.6 326.8 673.3 327.6 674 328.1 674.7 327.4 675.4 326.4 676.1 326.3 676.8 327 677.5 326.2 678.2 327.1 678.9 327.7 679.6 325.7 680.3 327.1 681 327.4 681.7 326.9 682.4 327.4 683.1 327.5 683.8 327.8 684.5 328.7 685.2 327.4 685.9 326.7 686.6 326.6 687.3 326.5 688 327.6 688.7 327.4 689.4 327.5 690.1 327.3 690.8 328.1 691.5 327.8 692.2 327.8 692.9 326.8 693.6 327 694.3 326.5 695 326.8 695.7 327.3 696.4 326.5 697.1 326.9 697.8 328.3 698.5 327.1 699.2 326.4 699.9 326.5 700.6 327.2 701.3 327.7 702 327.2 702.7 327.7 703.4 327.4 704.1 326.6 704.8 327.8 705.5 327 706.2 328.3 706.9 326.9 707.6 327.1 708.3 326.9 709 327.1 709.7 327.5 710.4 327.1 711.1 327.9 711.8 327.5 712.5 328.1 713.2 327.3 713.9 327.9 714.6 327.9 715.3 327.2 716 328.6 716.7 328.1 717.4 327.5 718 327.1"/>
</g>
<g fill="none" stroke="#b80000" stroke-width="3.3" stroke-linejoin="round" stroke-linecap="round">
<path d="M98.5 359L100.7 359 100.7 358.9 100.7 358.7 100.7 358.2 100.7 357.4 100.7 356.5 100.8 355.2 100.8 353.7 100.9 351.9 100.9 349.9 101 347.6 101.1 345 101.2 342.1 101.3 339 101.5 335.6 101.6 332 101.8 328.1 102 324 102.2 319.6 102.4 315 102.6 310.2 102.9 305.2 103.1 300 103.4 294.6 103.7 289.1 104.1 283.4 104.4 277.6 104.8 271.6 105.2 265.5 105.6 259.4 106 253.1 106.5 246.8 106.9 240.4 107.4 234 108 227.6 108.5 221.2 109.1 214.7 109.7 208.3 110.3 201.9 111 195.6 111.6 189.3 112.3 183.1 113 177 113.8 170.9 114.6 165 115.4 159.2 116.2 153.4 117.1 147.9 117.9 142.4 118.9 137.1 119.8 131.9 120.8 126.9 121.8 122 122.8 117.3 123.9 112.7 124.9 108.3 126.1 104.1 127.2 100 128.4 96.1 129.6 92.4 130.8 88.8 132.1 85.4 133.4 82.1 134.8 79 136.1 76.1 137.5 73.3 139 70.6 140.4 68.1 141.9 65.7 143.5 63.5 145 61.4 146.6 59.4 148.3 57.6 149.9 55.8 151.6 54.2 153.4 52.7 155.1 51.3 157 49.9 158.8 48.7 160.7 47.6 162.7 46.5 166.7 44.6 170.7 43 174.7 41.7 178.7 40.7 182.7 39.8 186.7 39.1 190.7 38.5 194.7 38 198.7 37.6 202.7 37.2 206.7 36.9 210.7 36.7 214.7 36.5 218.7 36.4 222.7 36.2 226.7 36.1 230.7 36 234.7 35.9 238.7 35.9 242.7 35.8 246.7 35.8 250.7 35.7 254.7 35.7 258.7 35.7 262.7 35.6 266.7 35.6 270.7 35.6 274.7 35.6 278.7 35.6 282.7 35.6 286.7 35.5 290.7 35.5 294.7 35.5 298.7 35.5 302.7 35.5 306.7 35.5 310.7 35.5 314.7 35.5 318.7 35.5 322.7 35.5 326.7 35.5 330.7 35.5 334.7 35.5 338.7 35.5 342.7 35.5 346.7 35.5 350.7 35.5 354.7 35.5 358.7 35.5 362.7 35.5 366.7 35.5 370.7 35.5 374.7 35.5 378.7 35.5 382.7 35.5 386.7 35.5 390.7 35.5 394.7 35.5 398.7 35.5 402.7 35.5 406.7 35.5 410.7 35.5 414.7 35.5 418.7 35.5 422.7 35.5 426.7 35.5 430.7 35.5 434.7 35.5 438.7 35.5 442.7 35.5 446.7 35.5 450.7 35.5 454.7 35.5 458.7 35.5 462.7 35.5 466.7 35.5 470.7 35.5 474.7 35.5 478.7 35.5 482.7 35.5 486.7 35.5 490.7 35.5 494.7 35.5 498.7 35.5 502.7 35.5 506.7 35.5 510.7 35.5 514.7 35.5 518.7 35.5 522.7 35.5 526.7 35.5 530.7 35.5 534.7 35.5 538.7 35.5 542.7 35.5 546.7 35.5 550.7 35.5 554.7 35.5 558.7 35.5 562.7 35.5 566.7 35.5 570.7 35.5 574.7 35.5 578.7 35.5 582.7 35.5 586.7 35.5 590.7 35.5 594.7 35.5 598.7 35.5 602.7 35.5 606.7 35.5 610.7 35.5 614.7 35.5 618.7 35.5 622.7 35.5 626.7 35.5 630.7 35.5 634.7 35.5 638.7 35.5 642.7 35.5 646.7 35.5 650.7 35.5 654.7 35.5 658.7 35.5 662.7 35.5 666.7 35.5 670.7 35.5 674.7 35.5 678.7 35.5 682.7 35.5 686.7 35.5 690.7 35.5 694.7 35.5 698.7 35.5 702.7 35.5 706.7 35.5 710.7 35.5 714.7 35.5 718 35.5"/>
<path d="M98.5 359L101.5 359 101.5 359 101.5 358.9 101.5 358.7 101.5 358.3 101.6 357.9 101.6 357.3 101.6 356.6 101.7 355.7 101.8 354.7 101.8 353.5 101.9 352.2 102 350.7 102.1 349 102.3 347.2 102.4 345.2 102.6 343 102.8 340.7 103 338.2 103.2 335.6 103.4 332.8 103.7 329.8 103.9 326.7 104.2 323.4 104.5 320 104.9 316.4 105.2 312.8 105.6 308.9 106 305 106.4 300.9 106.8 296.7 107.3 292.4 107.8 288 108.3 283.5 108.8 278.9 109.3 274.3 109.9 269.6 110.5 264.8 111.1 259.9 111.8 255 112.4 250.1 113.1 245.2 113.9 240.2 114.6 235.2 115.4 230.2 116.2 225.2 117 220.2 117.9 215.3 118.8 210.3 119.7 205.4 120.6 200.6 121.6 195.8 122.6 191 123.6 186.3 124.7 181.7 125.8 177.1 126.9 172.6 128 168.2 129.2 163.9 130.4 159.6 131.7 155.5 132.9 151.4 134.2 147.5 135.6 143.6 136.9 139.9 138.3 136.3 139.8 132.7 141.2 129.3 142.7 126 144.3 122.8 145.8 119.7 147.4 116.8 149.1 113.9 150.7 111.2 152.4 108.5 154.2 106 156 103.6 157.8 101.3 159.6 99 161.5 96.9 163.5 94.8 167.5 91.1 171.5 87.8 175.5 85 179.5 82.5 183.5 80.3 187.5 78.4 191.5 76.8 195.5 75.4 199.5 74.1 203.5 73 207.5 72.1 211.5 71.2 215.5 70.5 219.5 69.9 223.5 69.3 227.5 68.8 231.5 68.4 235.5 68 239.5 67.7 243.5 67.4 247.5 67.2 251.5 66.9 255.5 66.7 259.5 66.6 263.5 66.4 267.5 66.3 271.5 66.2 275.5 66.1 279.5 66 283.5 65.9 287.5 65.8 291.5 65.8 295.5 65.7 299.5 65.7 303.5 65.6 307.5 65.6 311.5 65.5 315.5 65.5 319.5 65.5 323.5 65.5 327.5 65.4 331.5 65.4 335.5 65.4 339.5 65.4 343.5 65.4 347.5 65.4 351.5 65.4 355.5 65.4 359.5 65.4 363.5 65.3 367.5 65.3 371.5 65.3 375.5 65.3 379.5 65.3 383.5 65.3 387.5 65.3 391.5 65.3 395.5 65.3 399.5 65.3 403.5 65.3 407.5 65.3 411.5 65.3 415.5 65.3 419.5 65.3 423.5 65.3 427.5 65.3 431.5 65.3 435.5 65.3 439.5 65.3 443.5 65.3 447.5 65.3 451.5 65.3 455.5 65.3 459.5 65.3 463.5 65.3 467.5 65.3 471.5 65.3 475.5 65.3 479.5 65.3 483.5 65.3 487.5 65.3 491.5 65.3 495.5 65.3 499.5 65.3 503.5 65.3 507.5 65.3 511.5 65.3 515.5 65.3 519.5 65.3 523.5 65.3 527.5 65.3 531.5 65.3 535.5 65.3 539.5 65.3 543.5 65.3 547.5 65.3 551.5 65.3 555.5 65.3 559.5 65.3 563.5 65.3 567.5 65.3 571.5 65.3 575.5 65.3 579.5 65.3 583.5 65.3 587.5 65.3 591.5 65.3 595.5 65.3 599.5 65.3 603.5 65.3 607.5 65.3 611.5 65.3 615.5 65.3 619.5 65.3 623.5 65.3 627.5 65.3 631.5 65.3 635.5 65.3 639.5 65.3 643.5 65.3 647.5 65.3 651.5 65.3 655.5 65.3 659.5 65.3 663.5 65.3 667.5 65.3 671.5 65.3 675.5 65.3 679.5 65.3 683.5 65.3 687.5 65.3 691.5 65.3 695.5 65.3 699.5 65.3 703.5 65.3 707.5 65.3 711.5 65.3 715.5 65.3 718 65.3"/>
<path d="M98.5 359L98.5 355.4 98.5 355.4 98.5 355.4 98.5 355.4 98.5 355.4 98.5 355.4 98.5 355.4 98.5 355.4 98.5 355.4 98.5 355.4 98.5 355.4 98.5 355.4 98.5 355.4 98.5 355.4 98.5 355.4 98.6 355.2 98.7 354.5 98.9 353.7 99.1 352.9 99.3 352 99.6 351 99.8 349.9 100.1 348.7 100.4 347.5 100.7 346.2 101 344.8 101.3 343.3 101.7 341.7 102.1 340.1 102.5 338.3 103 336.5 103.4 334.6 103.9 332.6 104.4 330.6 104.9 328.4 105.5 326.2 106 323.8 106.6 321.5 107.2 319 107.9 316.4 108.6 313.8 109.3 311.1 110 308.3 110.7 305.5 111.5 302.6 112.3 299.7 113.1 296.7 114 293.6 114.9 290.5 115.8 287.3 116.7 284.1 117.7 280.8 118.7 277.5 119.7 274.2 120.8 270.8 121.9 267.4 123 264 124.2 260.6 125.3 257.1 126.5 253.7 127.8 250.2 129.1 246.7 130.4 243.2 131.7 239.8 133.1 236.3 134.5 232.9 135.9 229.4 137.4 226 138.9 222.6 140.4 219.3 142 215.9 143.6 212.6 145.2 209.4 146.9 206.1 148.6 203 150.3 199.8 152.1 196.7 153.9 193.7 155.7 190.7 157.6 187.8 159.6 184.8 163.6 179.1 167.6 174 171.6 169.2 175.6 164.8 179.6 160.7 183.6 157 187.6 153.6 191.6 150.5 195.6 147.6 199.6 144.9 203.6 142.5 207.6 140.2 211.6 138.2 215.6 136.3 219.6 134.6 223.6 133 227.6 131.5 231.6 130.2 235.6 129 239.6 127.8 243.6 126.8 247.6 125.9 251.6 125 255.6 124.2 259.6 123.5 263.6 122.8 267.6 122.2 271.6 121.6 275.6 121.1 279.6 120.6 283.6 120.2 287.6 119.8 291.6 119.5 295.6 119.1 299.6 118.8 303.6 118.6 307.6 118.3 311.6 118.1 315.6 117.9 319.6 117.7 323.6 117.5 327.6 117.3 331.6 117.2 335.6 117 339.6 116.9 343.6 116.8 347.6 116.7 351.6 116.6 355.6 116.5 359.6 116.4 363.6 116.4 367.6 116.3 371.6 116.2 375.6 116.2 379.6 116.1 383.6 116.1 387.6 116 391.6 116 395.6 116 399.6 115.9 403.6 115.9 407.6 115.9 411.6 115.9 415.6 115.8 419.6 115.8 423.6 115.8 427.6 115.8 431.6 115.8 435.6 115.7 439.6 115.7 443.6 115.7 447.6 115.7 451.6 115.7 455.6 115.7 459.6 115.7 463.6 115.7 467.6 115.7 471.6 115.7 475.6 115.7 479.6 115.7 483.6 115.6 487.6 115.6 491.6 115.6 495.6 115.6 499.6 115.6 503.6 115.6 507.6 115.6 511.6 115.6 515.6 115.6 519.6 115.6 523.6 115.6 527.6 115.6 531.6 115.6 535.6 115.6 539.6 115.6 543.6 115.6 547.6 115.6 551.6 115.6 555.6 115.6 559.6 115.6 563.6 115.6 567.6 115.6 571.6 115.6 575.6 115.6 579.6 115.6 583.6 115.6 587.6 115.6 591.6 115.6 595.6 115.6 599.6 115.6 603.6 115.6 607.6 115.6 611.6 115.6 615.6 115.6 619.6 115.6 623.6 115.6 627.6 115.6 631.6 115.6 635.6 115.6 639.6 115.6 643.6 115.6 647.6 115.6 651.6 115.6 655.6 115.6 659.6 115.6 663.6 115.6 667.6 115.6 671.6 115.6 675.6 115.6 679.6 115.6 683.6 115.6 687.6 115.6 691.6 115.6 695.6 115.6 699.6 115.6 703.6 115.6 707.6 115.6 711.6 115.6 715.6 115.6 718 115.6"/>
<path d="M98.5 359L100 359 100 359 100 359 100 359 100 358.9 100.1 358.9 100.1 358.8 100.1 358.7 100.2 358.6 100.3 358.4 100.3 358.3 100.4 358 100.5 357.8 100.6 357.5 100.8 357.3 100.9 356.9 101.1 356.6 101.3 356.2 101.5 355.7 101.7 355.2 101.9 354.7 102.2 354.2 102.4 353.6 102.7 352.9 103 352.3 103.4 351.5 103.7 350.8 104.1 350 104.5 349.1 104.9 348.2 105.3 347.3 105.8 346.3 106.3 345.3 106.8 344.2 107.3 343.1 107.8 342 108.4 340.8 109 339.6 109.6 338.3 110.3 337 110.9 335.6 111.6 334.2 112.4 332.8 113.1 331.3 113.9 329.8 114.7 328.2 115.5 326.6 116.4 325 117.3 323.4 118.2 321.7 119.1 319.9 120.1 318.2 121.1 316.4 122.1 314.6 123.2 312.7 124.3 310.9 125.4 309 126.5 307 127.7 305.1 128.9 303.1 130.2 301.2 131.4 299.2 132.7 297.2 134.1 295.1 135.4 293.1 136.8 291 138.3 289 139.7 286.9 141.2 284.8 142.8 282.8 144.3 280.7 145.9 278.6 147.6 276.5 149.2 274.4 150.9 272.4 152.7 270.3 154.5 268.2 156.3 266.2 158.1 264.1 160 262.1 162 260 166 255.9 170 252.1 174 248.4 178 244.9 182 241.7 186 238.6 190 235.6 194 232.8 198 230.2 202 227.7 206 225.3 210 223 214 220.9 218 218.9 222 217 226 215.2 230 213.4 234 211.8 238 210.3 242 208.8 246 207.4 250 206.1 254 204.9 258 203.7 262 202.6 266 201.5 270 200.5 274 199.6 278 198.7 282 197.8 286 197 290 196.2 294 195.5 298 194.8 302 194.2 306 193.6 310 193 314 192.5 318 191.9 322 191.4 326 191 330 190.5 334 190.1 338 189.7 342 189.3 346 189 350 188.7 354 188.3 358 188 362 187.7 366 187.5 370 187.2 374 187 378 186.8 382 186.5 386 186.3 390 186.1 394 186 398 185.8 402 185.6 406 185.5 410 185.3 414 185.2 418 185 422 184.9 426 184.8 430 184.7 434 184.6 438 184.5 442 184.4 446 184.3 450 184.2 454 184.1 458 184 462 184 466 183.9 470 183.8 474 183.8 478 183.7 482 183.7 486 183.6 490 183.6 494 183.5 498 183.5 502 183.4 506 183.4 510 183.4 514 183.3 518 183.3 522 183.3 526 183.2 530 183.2 534 183.2 538 183.1 542 183.1 546 183.1 550 183.1 554 183.1 558 183 562 183 566 183 570 183 574 183 578 183 582 182.9 586 182.9 590 182.9 594 182.9 598 182.9 602 182.9 606 182.9 610 182.9 614 182.9 618 182.8 622 182.8 626 182.8 630 182.8 634 182.8 638 182.8 642 182.8 646 182.8 650 182.8 654 182.8 658 182.8 662 182.8 666 182.8 670 182.8 674 182.8 678 182.8 682 182.8 686 182.8 690 182.8 694 182.8 698 182.7 702 182.7 706 182.7 710 182.7 714 182.7 718 182.7 718 182.7"/>
<path d="M98.5 359L98.5 358 98.5 358 98.5 358 98.5 358 98.5 358 98.5 358 98.5 358 98.5 358 98.5 358 98.5 358 98.5 358 98.5 358 98.5 358 98.5 358 98.5 358 98.5 358 98.5 358 98.5 358 98.5 358 98.7 357.9 98.9 357.7 99.2 357.5 99.5 357.4 99.7 357.2 100.1 356.9 100.4 356.7 100.7 356.5 101.1 356.2 101.5 355.9 101.9 355.7 102.3 355.4 102.8 355 103.3 354.7 103.8 354.4 104.3 354 104.8 353.6 105.4 353.2 106 352.8 106.6 352.4 107.3 352 107.9 351.5 108.6 351 109.4 350.5 110.1 350 110.9 349.5 111.7 349 112.5 348.4 113.4 347.9 114.3 347.3 115.2 346.7 116.1 346.1 117.1 345.5 118.1 344.8 119.1 344.2 120.2 343.5 121.3 342.8 122.4 342.1 123.5 341.4 124.7 340.7 125.9 339.9 127.2 339.2 128.4 338.4 129.7 337.7 131.1 336.9 132.4 336.1 133.8 335.3 135.3 334.5 136.7 333.6 138.2 332.8 139.8 332 141.3 331.1 142.9 330.3 144.6 329.4 146.2 328.5 148 327.7 149.7 326.8 151.5 325.9 153.3 325 155.1 324.1 157 323.2 159 322.3 163 320.4 167 318.6 171 316.9 175 315.3 179 313.6 183 312.1 187 310.6 191 309.1 195 307.7 199 306.4 203 305 207 303.8 211 302.6 215 301.4 219 300.2 223 299.1 227 298.1 231 297 235 296 239 295.1 243 294.1 247 293.3 251 292.4 255 291.6 259 290.7 263 290 267 289.2 271 288.5 275 287.8 279 287.1 283 286.5 287 285.8 291 285.2 295 284.7 299 284.1 303 283.6 307 283 311 282.5 315 282 319 281.6 323 281.1 327 280.7 331 280.2 335 279.8 339 279.4 343 279.1 347 278.7 351 278.4 355 278 359 277.7 363 277.4 367 277.1 371 276.8 375 276.5 379 276.2 383 276 387 275.7 391 275.5 395 275.2 399 275 403 274.8 407 274.6 411 274.4 415 274.2 419 274 423 273.8 427 273.6 431 273.4 435 273.3 439 273.1 443 273 447 272.8 451 272.7 455 272.6 459 272.4 463 272.3 467 272.2 471 272.1 475 271.9 479 271.8 483 271.7 487 271.6 491 271.5 495 271.4 499 271.4 503 271.3 507 271.2 511 271.1 515 271 519 270.9 523 270.9 527 270.8 531 270.7 535 270.7 539 270.6 543 270.6 547 270.5 551 270.4 555 270.4 559 270.3 563 270.3 567 270.2 571 270.2 575 270.1 579 270.1 583 270.1 587 270 591 270 595 270 599 269.9 603 269.9 607 269.8 611 269.8 615 269.8 619 269.8 623 269.7 627 269.7 631 269.7 635 269.7 639 269.6 643 269.6 647 269.6 651 269.6 655 269.5 659 269.5 663 269.5 667 269.5 671 269.5 675 269.4 679 269.4 683 269.4 687 269.4 691 269.4 695 269.4 699 269.4 703 269.3 707 269.3 711 269.3 715 269.3 718 269.3"/>
<path d="M98.5 359L98.5 358.8 98.5 358.8 98.5 358.8 98.5 358.8 98.5 358.8 98.5 358.8 98.5 358.8 98.5 358.8 98.5 358.8 98.5 358.8 98.5 358.8 98.5 358.8 98.5 358.8 98.5 358.8 98.5 358.8 98.5 358.8 98.5 358.8 98.5 358.8 98.5 358.8 98.7 358.7 98.9 358.7 99.2 358.6 99.5 358.6 99.7 358.5 100.1 358.5 100.4 358.4 100.7 358.4 101.1 358.3 101.5 358.2 101.9 358.1 102.3 358.1 102.8 358 103.3 357.9 103.8 357.8 104.3 357.7 104.8 357.6 105.4 357.5 106 357.3 106.6 357.2 107.3 357.1 107.9 357 108.6 356.8 109.4 356.7 110.1 356.5 110.9 356.4 111.7 356.2 112.5 356.1 113.4 355.9 114.3 355.7 115.2 355.6 116.1 355.4 117.1 355.2 118.1 355 119.1 354.8 120.2 354.6 121.3 354.4 122.4 354.2 123.5 353.9 124.7 353.7 125.9 353.5 127.2 353.3 128.4 353 129.7 352.8 131.1 352.5 132.4 352.3 133.8 352 135.3 351.8 136.7 351.5 138.2 351.2 139.8 351 141.3 350.7 142.9 350.4 144.6 350.1 146.2 349.8 148 349.5 149.7 349.2 151.5 348.9 153.3 348.6 155.1 348.3 157 348 159 347.7 163 347.1 167 346.5 171 345.8 175 345.3 179 344.7 183 344.1 187 343.6 191 343 195 342.5 199 342 203 341.5 207 341 211 340.6 215 340.1 219 339.7 223 339.2 227 338.8 231 338.4 235 338 239 337.6 243 337.3 247 336.9 251 336.5 255 336.2 259 335.9 263 335.5 267 335.2 271 334.9 275 334.6 279 334.3 283 334 287 333.8 291 333.5 295 333.2 299 333 303 332.8 307 332.5 311 332.3 315 332.1 319 331.9 323 331.6 327 331.4 331 331.2 335 331.1 339 330.9 343 330.7 347 330.5 351 330.4 355 330.2 359 330 363 329.9 367 329.7 371 329.6 375 329.4 379 329.3 383 329.2 387 329.1 391 328.9 395 328.8 399 328.7 403 328.6 407 328.5 411 328.4 415 328.3 419 328.2 423 328.1 427 328 431 327.9 435 327.8 439 327.7 443 327.6 447 327.6 451 327.5 455 327.4 459 327.3 463 327.3 467 327.2 471 327.1 475 327.1 479 327 483 326.9 487 326.9 491 326.8 495 326.8 499 326.7 503 326.7 507 326.6 511 326.6 515 326.5 519 326.5 523 326.4 527 326.4 531 326.4 535 326.3 539 326.3 543 326.3 547 326.2 551 326.2 555 326.2 559 326.1 563 326.1 567 326.1 571 326 575 326 579 326 583 326 587 325.9 591 325.9 595 325.9 599 325.9 603 325.8 607 325.8 611 325.8 615 325.8 619 325.8 623 325.7 627 325.7 631 325.7 635 325.7 639 325.7 643 325.7 647 325.6 651 325.6 655 325.6 659 325.6 663 325.6 667 325.6 671 325.6 675 325.5 679 325.5 683 325.5 687 325.5 691 325.5 695 325.5 699 325.5 703 325.5 707 325.5 711 325.5 715 325.4 718 325.4"/>
</g>
<g font-family="Liberation Sans, sans-serif" font-size="19.5" fill="#000" text-anchor="end">
<text x="53.5" y="366.2">0</text>
<text x="53.5" y="309.1">10</text>
<text x="53.5" y="252.0">20</text>
<text x="53.5" y="194.8">30</text>
<text x="53.5" y="137.7">40</text>
<text x="53.5" y="80.6">50</text>
<text x="53.5" y="23.5">60</text>
</g>
<g font-family="Liberation Sans, sans-serif" font-size="19.5" fill="#000" text-anchor="middle">
<text x="70.2" y="389">0</text>
<text x="187.1" y="389">5</text>
<text x="304.1" y="389">10</text>
<text x="421.0" y="389">15</text>
<text x="538.0" y="389">20</text>
<text x="655.0" y="389">25</text>
<text x="771.9" y="389">30</text>
</g>
<text font-family="Liberation Sans, sans-serif" font-size="19.4" font-weight="bold" text-anchor="middle" x="421.5" y="415.2">Time [min]</text>
<text font-family="Liberation Sans, sans-serif" font-size="19.4" font-weight="bold" text-anchor="middle" transform="translate(23 188) rotate(-90)">Response [Pixel]</text>
<g stroke="#a0a0a0" stroke-width="1" fill="none" shape-rendering="crispEdges">
<path d="M76.5 458.5V712.5H772"/>
<path d="M71 712.5H77M71 661.5H77M71 611.5H77M71 560.5H77M71 509.5H77M71 458.5H77M76.5 712V718.5M192.5 712V718.5M308.5 712V718.5M424.5 712V718.5M540.5 712V718.5M655.5 712V718.5M771.5 712V718.5"/>
</g>
<defs><marker id="m" markerWidth="20" markerHeight="20" refX="10" refY="10" markerUnits="userSpaceOnUse" overflow="visible"><path d="M10 5.4 L14.6 10L10 14.6L5.4 10Z" fill="#8c8c8c" stroke="#000" stroke-width="1.1"/></marker></defs>
<path d="M104 609.8 104.8 610.1 105.6 607.8 106.4 607.3 107.2 606.3 108.1 604.8 108.9 604.9 109.7 604 110.5 603.5 111.3 604 112.1 602.9 112.9 603.2 113.7 603.9 114.5 603.9 115.4 604.4 116.2 604.3 117 604.3 117.8 604.4 118.6 605 119.4 605.6 120.2 605.9 121 606.4 121.8 606.4 122.6 606.4 123.5 607.3 124.3 607.8 125.1 608.5 125.9 608.5 126.7 609.4 127.5 610.5 128.3 610 129.1 610.6 129.9 611.6 130.8 612.3 131.6 612.7 132.4 613.5 133.2 613.1 134 613.2 134.8 613.5 135.6 614 136.4 614.1 137.2 614 138.1 613.7 138.9 614.8 139.7 614.6 140.5 615 141.3 615.4 142.1 615 142.9 614.9 143.7 615.9 144.5 615.3 145.4 615.6 146.2 615.7 147 615.4 147.8 616.2 148.6 615.2 149.4 616.1 150.2 615.7 151 616.9 151.8 615.6 152.6 616.2 153.5 616.6 154.3 616.9 155.1 616.1 155.9 615.2 156.7 615.8 157.5 616.6 158.3 617.1 159.1 617.6 159.9 617.2 160.8 618.6 161.6 617.8 162.4 616.6 163.2 617.7 164 617.7 164.8 618 165.6 616.4 166.4 616.2 167.2 615.2 168.1 617.4 168.9 617.8 169.7 617.2 170.5 617.8 171.3 616.2 172.1 616.4 172.9 616.8 173.7 615.6 174.5 614.2 175.4 614.7 176.2 616.8 177 616.1 177.8 615.8 178.6 615.4 179.4 616.9 180.2 618.3 181 615.9 181.8 618.1 182.7 617.5 183.5 617.6 184.3 616 185.1 618.2 185.9 617.3 186.7 617.9 187.5 618.4 188.3 616.3 189.1 618.4 189.9 617 190.8 617.3 191.6 620.6 192.4 620.5 193.2 623.2 194 618.6 194.8 619.3 195.6 621.3 196.4 621.9 197.2 622.1 198.1 622.9 198.9 622 199.7 621.9 200.5 622.9 201.3 619 202.1 619.2 202.9 621 203.7 616.7 204.5 615.9 205.4 617.4 206.2 617.3 207 619.8 207.8 619.5 208.6 621.7 209.4 620.4 210.2 618.8 211 621.4 211.8 623.8 212.7 619 213.5 618.6 214.3 619.3 215.1 623.8 215.9 620 216.7 622.2 217.5 620.7 218.3 618.8 219.1 616.8 219.9 619.5 220.8 618.5 221.6 619.5 222.4 617.4 223.2 618.9 224 618.4 224.8 616.9 225.6 618.4 226.4 618.5 227.2 618.4 228.1 617.6 228.9 616.5 229.7 620.1 230.5 620.5 231.3 617.1 232.1 616.8 232.9 615.7 233.7 616.7 234.5 615.1 235.4 616.8 236.2 618.3 237 615.5 237.8 618.1 238.6 617.6 239.4 615.6 240.2 616.3 241 614.1 241.8 615.7 242.7 611.9 243.5 615.9 244.3 612.9 245.1 614.5 245.9 611.4 246.7 614.4 247.5 612.4 248.3 618.5 249.1 615 249.9 611.6 250.8 614.2 251.6 614.8 252.4 614 253.2 612.1 254 617.7 254.8 616.1 255.6 616.5 256.4 614.4 257.2 616.1 258.1 617 258.9 616.6 259.7 613.1 260.5 613.6 261.3 612.5 262.1 616.1 262.9 614.8 263.7 614.1 264.5 611.8 265.4 612.3 266.2 613.1 267 614.2 267.8 612.1 268.6 612.7 269.4 610.2 270.2 608.4 271 610.6 271.8 612.4 272.7 607.1 273.5 610 274.3 610.3 275.1 611 275.9 610.7 276.7 610.4 277.5 609.6 278.3 611.6 279.1 609.9 280 608.6 280.8 608.1 281.6 608.1 282.4 608 283.2 611.8 284 610.8 284.8 610.5 285.6 609.2 286.4 609.5 287.2 605.8 288.1 609 288.9 608.5 289.7 610.5 290.5 605.7 291.3 608.9 292.1 609.9 292.9 611.3 293.7 610.6 294.5 611.3 295.4 608.7 296.2 611.4 297 610.3 297.8 609.9 298.6 607.7 299.4 607.8 300.2 606.5 301 607 301.8 606.8 302.7 607.4 303.5 605.7 304.3 606 305.1 605.8 305.9 608.4 306.7 606.5 307.5 606.7 308.3 608.3 309.1 603.5 310 603.1 310.8 603.4 311.6 604 312.4 602.4 313.2 607.2 314 602.8 314.8 608.2 315.6 605.4 316.4 606 317.2 606 318.1 606.4 318.9 606.8 319.7 609.2 320.5 609.3 321.3 609.5 322.1 607.9 322.9 608.5 323.7 610.2 324.5 606.2 325.4 609.4 326.2 608.4 327 608.9 327.8 609.1 328.6 607.4 329.4 609.6 330.2 610.9 331 609.8 331.8 610.4 332.7 611.1 333.5 607.2 334.3 606.6 335.1 610.2 335.9 605.3 336.7 604.6 337.5 609.3 338.3 606.5 339.1 607.6 340 606 340.8 612 341.6 606.9 342.4 608.7 343.2 607.6 344 607.1 344.8 612 345.6 608.2 346.4 607.8 347.2 606.5 348.1 605.2 348.9 605.5 349.7 607.6 350.5 605.2 351.3 607.4 352.1 605 352.9 606.5 353.7 606.5 354.5 606.1 355.4 608.7 356.2 606.8 357 608.2 357.8 605.1 358.6 604.6 359.4 608.8 360.2 610.1 361 606.2 361.8 607.4 362.7 607.8 363.5 602.7 364.3 606.6 365.1 607.4 365.9 606.1 366.7 605.1 367.5 603.2 368.3 605.2 369.1 607.7 370 606.7 370.8 603.4 371.6 609.2 372.4 607 373.2 605.5 374 607.3 374.8 608.3 375.6 609.7 376.4 608.4 377.3 608 378.1 608.7 378.9 607.6 379.7 608.8 380.5 606.9 381.3 608.3 382.1 606.6 382.9 607.9 383.7 604.1 384.5 604.3 385.4 604.6 386.2 606.7 387 604.6 387.8 609.3 388.6 605.3 389.4 604.6 390.2 606.2 391 604.8 391.8 604.1 392.7 602.6 393.5 605.6 394.3 608.2 395.1 609.5 395.9 606.2 396.7 604.5 397.5 603.9 398.3 605.3 399.1 606.4 400 606.4 400.8 605.7 401.6 605.6 402.4 605 403.2 605.8 404 602.9 404.8 605.7 405.6 605 406.4 604 407.3 603.9 408.1 606.2 408.9 607.6 409.7 607 410.5 604.4 411.3 604.1 412.1 604.5 412.9 603.9 413.7 603.3 414.5 606.7 415.4 601.9 416.2 602 417 605.2 417.8 606.8 418.6 606.3 419.4 609 420.2 607 421 608.3 421.8 607.1 422.7 607.2 423.5 603.2 424.3 607.2 425.1 605 425.9 606 426.7 603.2 427.5 604.5 428.3 609.1 429.1 608.9 430 607.5 430.8 609.1 431.6 607.5 432.4 607.8 433.2 609.3 434 607.8 434.8 606.4 435.6 607 436.4 606.6 437.3 606.3 438.1 607.1 438.9 605 439.7 609.2 440.5 606.8 441.3 608.6 442.1 607.5 442.9 607 443.7 607.6 444.5 607.8 445.4 607.9 446.2 608.5 447 609.9 447.8 608.6 448.6 608.4 449.4 608.7 450.2 609.7 451 609.8 451.8 613.5 452.7 612 453.5 611.4 454.3 609.7 455.1 609.4 455.9 610.9 456.7 612.6 457.5 609.8 458.3 608.7 459.1 608.9 460 611.1 460.8 611.9 461.6 611.9 462.4 612.7 463.2 610 464 611.6 464.8 609.2 465.6 610.4 466.4 611.7 467.3 614.4 468.1 612.3 468.9 612.5 469.7 615.2 470.5 614.7 471.3 613.6 472.1 610.2 472.9 612.3 473.7 613.3 474.6 610.5 475.4 609.1 476.2 611.3 477 606 477.8 609.7 478.6 606.8 479.4 607.5 480.2 610 481 609.5 481.8 609.9 482.7 611 483.5 609.7 484.3 611 485.1 613.9 485.9 611 486.7 612.8 487.5 611.2 488.3 610.4 489.1 610.9 490 609.3 490.8 611.2 491.6 612.2 492.4 609.2 493.2 610.9 494 612.2 494.8 611.8 495.6 612.2 496.4 611.1 497.3 612.5 498.1 608.3 498.9 609.3 499.7 615.1 500.5 613.7 501.3 612.9 502.1 614.4 502.9 617.2 503.7 613.2 504.6 616.3 505.4 613.6 506.2 614 507 612.4 507.8 616.1 508.6 611.9 509.4 616.4 510.2 612 511 612.3 511.8 612.8 512.7 614.8 513.5 610.5 514.3 611.7 515.1 615.7 515.9 617.5 516.7 615.1 517.5 616.1 518.3 614.4 519.1 615.9 520 616.1 520.8 617.6 521.6 615.4 522.4 617.4 523.2 618.3 524 619.2 524.8 614.3 525.6 615.8 526.4 617.5 527.3 616.4 528.1 615.9 528.9 614.5 529.7 619.1 530.5 616.7 531.3 615.1 532.1 615.7 532.9 615.2 533.7 613.5 534.6 617.7 535.4 617.1 536.2 614.1 537 612.7 537.8 614.1 538.6 614.6 539.4 615.4 540.2 612.4 541 612.8 541.8 615.1 542.7 614.6 543.5 615.7 544.3 613.7 545.1 615.1 545.9 613.2 546.7 613.1 547.5 614.6 548.3 613.1 549.1 613.1 550 612.2 550.8 615.1 551.6 613.4 552.4 611.5 553.2 613.4 554 615.2 554.8 614.2 555.6 611.1 556.4 615.3 557.3 615.7 558.1 613.5 558.9 615.7 559.7 617.7 560.5 617.8 561.3 615.2 562.1 616 562.9 612.6 563.7 615.7 564.6 617 565.4 616.3 566.2 617.2 567 613.7 567.8 616.8 568.6 613.2 569.4 614.6 570.2 612.2 571 615.5 571.9 614 572.7 618.7 573.5 616.4 574.3 617.1 575.1 614.4 575.9 616.6 576.7 615.5 577.5 617.7 578.3 618.6 579.1 616.6 580 614.4 580.8 616.6 581.6 614.2 582.4 617.4 583.2 617.8 584 618 584.8 617.9 585.6 618.5 586.4 617.6 587.3 618.1 588.1 618 588.9 613.6 589.7 614.1 590.5 615.6 591.3 615.9 592.1 617.2 592.9 613.9 593.7 615.8 594.6 611.7 595.4 617.3 596.2 614 597 612.6 597.8 615.4 598.6 611.6 599.4 613.5 600.2 613.9 601 617.2 601.9 614.6 602.7 614.9 603.5 616.4 604.3 613.8 605.1 615.8 605.9 619.5 606.7 614.9 607.5 612.2 608.3 615.4 609.1 613 610 615.1 610.8 614.1 611.6 618.3 612.4 616.9 613.2 614.5 614 614.9 614.8 617 615.6 613.3 616.4 614.4 617.3 616.8 618.1 619.2 618.9 615.6 619.7 617.5 620.5 615.8 621.3 615.2 622.1 617.6 622.9 617.4 623.7 615.9 624.6 617.5 625.4 620.1 626.2 616 627 616.2 627.8 617.2 628.6 615.2 629.4 616.4 630.2 616.2 631 614.2 631.9 617.6 632.7 618 633.5 615.8 634.3 617.8 635.1 614.6 635.9 617.3 636.7 619.1 637.5 617.2 638.3 620.1 639.1 614.5 640 616.6 640.8 615.4 641.6 615.5 642.4 615.9 643.2 617.7 644 614.8 644.8 616.5 645.6 617.3 646.4 619.5 647.3 614.5 648.1 617 648.9 617.4 649.7 619.8 650.5 615.4 651.3 617 652.1 615.3 652.9 617 653.7 618.3 654.6 616.2 655.4 619.6 656.2 619.6 657 617.3 657.8 615.9 658.6 615.3 659.4 617.1 660.2 617.1 661 616.6 661.9 617.3 662.7 617.9 663.5 616.4 664.3 617.9 665.1 617.4 665.9 615 666.7 616.2 667.5 616.9 668.3 614.6 669.2 615.4 670 613.7 670.8 615.8 671.6 615.6 672.4 616.8 673.2 613 674 612.8 674.8 613.2 675.6 614.6 676.4 614.9 677.3 615.7 678.1 614.8 678.9 616.4 679.7 618 680.5 615.2 681.3 615.5 682.1 615.9 682.9 616.5 683.7 616.6 684.6 615.4 685.4 614.9 686.2 616.9 687 615.9 687.8 616.9 688.6 613.7 689.4 617.6 690.2 617.5 691 617.1 691.9 615.7 692.7 617.5 693.5 613.5 694.3 615 695.1 619.5 695.9 615.2 696.7 614.6 697.5 616.7 698.3 614.6 699.2 614.2 700 615.3 700.8 614.5 701.6 613.9 702.4 615.3 703.2 614.8 704 616.8 704.8 614.3 705.6 616.6 706.4 614.1 707.3 613.1 708.1 613.8 708.9 617.1 709.7 615.6 710.5 616.4 711.3 615 712.1 616.7 712.9 616.7 713.7 615.1 714.6 616.1 715.4 612.9 716.2 613.6" fill="none" marker-start="url(#m)" marker-mid="url(#m)" marker-end="url(#m)"/>
<path d="M104 610.7 104.8 608.7 105.6 609.1 106.4 607.8 107.2 606.8 108.1 606.7 108.9 605.7 109.7 605.7 110.5 605.4 111.3 604.9 112.1 603.7 112.9 603.1 113.7 603 114.5 601.1 115.4 600.4 116.2 598.4 117 596.3 117.8 594.7 118.6 590.3 119.4 587 120.2 583.5 121 578.2 121.8 574.1 122.6 570 123.5 566.5 124.3 564 125.1 562.2 125.9 560.3 126.7 560.3 127.5 560.8 128.3 561.7 129.1 563 129.9 564.4 130.8 565.8 131.6 567.5 132.4 568.5 133.2 570 134 572.3 134.8 573.9 135.6 575.6 136.4 576.8 137.2 578.2 138.1 578.4 138.9 579.8 139.7 581.9 140.5 582.1 141.3 583.4 142.1 584.8 142.9 584.9 143.7 586.1 144.5 586.6 145.4 587.4 146.2 588.8 147 588.8 147.8 590.3 148.6 591.7 149.4 593 150.2 591.9 151 594.3 151.8 594.6 152.6 595.2 153.5 595.5 154.3 597.6 155.1 599 155.9 597.8 156.7 599.6 157.5 599.3 158.3 598.1 159.1 600.9 159.9 600.5 160.8 602.8 161.6 599.7 162.4 603.4 163.2 603.2 164 604.3 164.8 605.6 165.6 604.7 166.4 606.9 167.2 608.4 168.1 608.6 168.9 608.7 169.7 608.4 170.5 608.7 171.3 610.3 172.1 610.4 172.9 607.6 173.7 610.9 174.5 608.9 175.4 611.3 176.2 610 177 611 177.8 612.6 178.6 610.2 179.4 607.9 180.2 607.2 181 607.5 181.8 610.1 182.7 609.9 183.5 611.4 184.3 609.4 185.1 608.8 185.9 610 186.7 611.7 187.5 609.9 188.3 610.4 189.1 609.7 189.9 610.6 190.8 610 191.6 611.5 192.4 611.7 193.2 614.5 194 610.3 194.8 610.6 195.6 612.7 196.4 609.2 197.2 610.2 198.1 609.8 198.9 613 199.7 613.3 200.5 612.2 201.3 610.9 202.1 609.6 202.9 613 203.7 611.4 204.5 614.1 205.4 611.2 206.2 609.3 207 609.7 207.8 607.2 208.6 610.1 209.4 612.1 210.2 612.9 211 611.6 211.8 609.6 212.7 614.2 213.5 613.7 214.3 611.9 215.1 612.3 215.9 610.1 216.7 612.1 217.5 611.3 218.3 611.4 219.1 611.1 219.9 609.3 220.8 613.5 221.6 614.2 222.4 613.9 223.2 612.1 224 611.6 224.8 611 225.6 611.4 226.4 611.7 227.2 614.6 228.1 612.8 228.9 610.9 229.7 613.2 230.5 611.5 231.3 610.7 232.1 608.6 232.9 610.1 233.7 611 234.5 608.8 235.4 608.7 236.2 607.1 237 609.5 237.8 609 238.6 609.5 239.4 609.4 240.2 605.5 241 612.8 241.8 608 242.7 610.1 243.5 608.6 244.3 610.8 245.1 607.7 245.9 609.1 246.7 606.9 247.5 605.7 248.3 610 249.1 610.8 249.9 606.8 250.8 605.8 251.6 608.9 252.4 612 253.2 610.9 254 606.4 254.8 604.3 255.6 606.4 256.4 607.5 257.2 603 258.1 606.6 258.9 605.4 259.7 605.3 260.5 605.4 261.3 603.5 262.1 605.7 262.9 603.9 263.7 602.4 264.5 602.4 265.4 602.1 266.2 604.8 267 606.9 267.8 603.9 268.6 603.7 269.4 603.5 270.2 604.5 271 603.1 271.8 605.3 272.7 602.4 273.5 601 274.3 603.7 275.1 603.9 275.9 603.2 276.7 603.6 277.5 603.7 278.3 604.4 279.1 605.1 280 601.9 280.8 605.6 281.6 601.2 282.4 603.5 283.2 600.6 284 602.3 284.8 602.8 285.6 601.8 286.4 601.6 287.2 598 288.1 601.1 288.9 601.2 289.7 601.6 290.5 599.9 291.3 599.6 292.1 598.4 292.9 600 293.7 600.6 294.5 598.7 295.4 597.2 296.2 597.5 297 600.4 297.8 599.8 298.6 598.5 299.4 599.8 300.2 600.8 301 597.9 301.8 598.3 302.7 596.8 303.5 595.6 304.3 597.6 305.1 598.6 305.9 598.3 306.7 596.2 307.5 597.6 308.3 596.7 309.1 598.6 310 596.9 310.8 598.6 311.6 598.5 312.4 597.3 313.2 597.4 314 597.6 314.8 597.3 315.6 596.1 316.4 598.8 317.2 600.4 318.1 596.7 318.9 593.9 319.7 594.5 320.5 597 321.3 593.5 322.1 591.5 322.9 591 323.7 589 324.5 590.2 325.4 595.7 326.2 590.7 327 592.9 327.8 593.4 328.6 594.9 329.4 594.4 330.2 593.1 331 590.8 331.8 590.5 332.7 590.8 333.5 589.4 334.3 591.4 335.1 591.5 335.9 586.9 336.7 588.9 337.5 590 338.3 588.3 339.1 590.8 340 587.6 340.8 592.7 341.6 592 342.4 592 343.2 592.3 344 594 344.8 590.6 345.6 590.7 346.4 591.4 347.2 590.4 348.1 592 348.9 589.8 349.7 592.3 350.5 593.1 351.3 591.8 352.1 591.8 352.9 591 353.7 590.4 354.5 588.9 355.4 593.6 356.2 594.1 357 591.5 357.8 590.5 358.6 591.7 359.4 594.2 360.2 595.1 361 595.6 361.8 592.5 362.7 595.4 363.5 594.2 364.3 596.3 365.1 592.7 365.9 594.3 366.7 594.6 367.5 594.8 368.3 594.7 369.1 590.3 370 593.5 370.8 593.2 371.6 595.1 372.4 595.7 373.2 596.5 374 593.8 374.8 592.4 375.6 592.3 376.4 594.9 377.3 591.8 378.1 593.8 378.9 591.4 379.7 593.6 380.5 593.1 381.3 594.1 382.1 593.8 382.9 592.5 383.7 591.7 384.5 591.7 385.4 594.2 386.2 595.4 387 593.3 387.8 592.3 388.6 595.3 389.4 595.4 390.2 595.7 391 594.8 391.8 594.3 392.7 597.5 393.5 595.7 394.3 594.3 395.1 595.6 395.9 597.6 396.7 598.5 397.5 596.3 398.3 594.3 399.1 595.3 400 594.4 400.8 597.1 401.6 596.3 402.4 597.4 403.2 595.2 404 596.4 404.8 597.4 405.6 597 406.4 595.8 407.3 595.5 408.1 595.8 408.9 593.5 409.7 596 410.5 598.7 411.3 595.9 412.1 599.1 412.9 599.7 413.7 597.1 414.5 599.2 415.4 598.4 416.2 599.1 417 598.4 417.8 600.6 418.6 596.4 419.4 595.7 420.2 597.9 421 595.6 421.8 596.1 422.7 595.5 423.5 594.9 424.3 598.8 425.1 595.5 425.9 596.9 426.7 595.6 427.5 597.3 428.3 593.9 429.1 594.7 430 597.2 430.8 596.4 431.6 596.6 432.4 596.5 433.2 595.3 434 598.2 434.8 598.9 435.6 595 436.4 596.3 437.3 597.7 438.1 598.4 438.9 599.9 439.7 598.4 440.5 600.8 441.3 598 442.1 597.8 442.9 599.1 443.7 596.3 444.5 596.4 445.4 596.9 446.2 598 447 597.5 447.8 597.6 448.6 598.8 449.4 595.7 450.2 594.7 451 598.3 451.8 595.9 452.7 597.2 453.5 597 454.3 596.4 455.1 596.3 455.9 598.8 456.7 596.6 457.5 598.2 458.3 601.3 459.1 594 460 596.8 460.8 597.2 461.6 594.6 462.4 595.9 463.2 597.6 464 596.6 464.8 596.6 465.6 597.7 466.4 601.4 467.3 597.8 468.1 599.7 468.9 600.1 469.7 598.6 470.5 595.7 471.3 601.1 472.1 599.1 472.9 602.1 473.7 602.4 474.6 600.4 475.4 598.2 476.2 598.9 477 598.5 477.8 596.9 478.6 598 479.4 599.8 480.2 600.8 481 600.3 481.8 599.8 482.7 601.1 483.5 601.1 484.3 601.5 485.1 601.6 485.9 601.8 486.7 600.6 487.5 596 488.3 596.6 489.1 595.8 490 597.7 490.8 598.2 491.6 597.2 492.4 599.6 493.2 597.8 494 599.8 494.8 599.1 495.6 601.6 496.4 597.5 497.3 599.8 498.1 598.9 498.9 601 499.7 601 500.5 599.1 501.3 603 502.1 598.9 502.9 601.9 503.7 599.5 504.6 601.9 505.4 600.7 506.2 600.3 507 598.9 507.8 601.5 508.6 599.2 509.4 599.5 510.2 598.7 511 601 511.8 599.5 512.7 600.5 513.5 599.8 514.3 597.5 515.1 597.3 515.9 600.4 516.7 599.2 517.5 599.1 518.3 600.5 519.1 599.9 520 601.4 520.8 599.5 521.6 602.5 522.4 599.7 523.2 605.5 524 602 524.8 602.1 525.6 604 526.4 605.4 527.3 602.2 528.1 604.1 528.9 600.3 529.7 601.6 530.5 601.7 531.3 601.4 532.1 600.4 532.9 601.5 533.7 600.4 534.6 600.5 535.4 601.4 536.2 598.5 537 597.2 537.8 597.5 538.6 598.8 539.4 597.8 540.2 600.7 541 600.8 541.8 601.5 542.7 601.7 543.5 600.1 544.3 603.1 545.1 603.1 545.9 604.6 546.7 603.2 547.5 604.5 548.3 600.5 549.1 602 550 600.4 550.8 600 551.6 601.6 552.4 602.1 553.2 602.5 554 603.2 554.8 605.6 555.6 601.6 556.4 602.4 557.3 602.4 558.1 601.4 558.9 600.3 559.7 599.1 560.5 601.7 561.3 602.2 562.1 598.8 562.9 599.8 563.7 599.7 564.6 601.6 565.4 603.5 566.2 599.5 567 599.6 567.8 602.2 568.6 600.3 569.4 598.8 570.2 596.2 571 597.9 571.9 598.8 572.7 600.2 573.5 601.2 574.3 601.5 575.1 603.5 575.9 602.5 576.7 604 577.5 605 578.3 606.1 579.1 604 580 604.2 580.8 602.6 581.6 604.3 582.4 601.9 583.2 603.5 584 601 584.8 605.7 585.6 602.1 586.4 601.1 587.3 605.6 588.1 602.3 588.9 603.3 589.7 606.4 590.5 605 591.3 602.4 592.1 603.3 592.9 602.5 593.7 603.3 594.6 601.8 595.4 604.4 596.2 605.5 597 604.8 597.8 603.6 598.6 604.8 599.4 603.5 600.2 603.9 601 604.3 601.9 604.1 602.7 604.7 603.5 602.6 604.3 603.8 605.1 602.7 605.9 605.9 606.7 603.7 607.5 604.5 608.3 607 609.1 601.2 610 606.6 610.8 603.7 611.6 604 612.4 603.6 613.2 606.1 614 609.3 614.8 604.4 615.6 605.5 616.4 604.2 617.3 605.2 618.1 602.8 618.9 603.9 619.7 605.1 620.5 600.9 621.3 605.5 622.1 607.9 622.9 604.3 623.7 603.6 624.6 603.2 625.4 604.7 626.2 603.8 627 605.1 627.8 604.6 628.6 603.3 629.4 605.5 630.2 604 631 605.8 631.9 605.5 632.7 606.2 633.5 603.9 634.3 605.3 635.1 606.5 635.9 605.1 636.7 603.4 637.5 604.8 638.3 606.8 639.1 606.4 640 606.9 640.8 603.2 641.6 604.9 642.4 603.8 643.2 603.7 644 605.3 644.8 602.9 645.6 604.5 646.4 603.6 647.3 606.9 648.1 603.8 648.9 604.2 649.7 604.8 650.5 603.4 651.3 605.8 652.1 604.6 652.9 608.3 653.7 605 654.6 605.9 655.4 602.3 656.2 604.7 657 604 657.8 609.2 658.6 605.4 659.4 606.4 660.2 602.6 661 603 661.9 604.1 662.7 603.8 663.5 603.5 664.3 603.4 665.1 602 665.9 601.9 666.7 602.9 667.5 603.9 668.3 600.7 669.2 604.4 670 605.5 670.8 601.5 671.6 605.2 672.4 605.6 673.2 607.3 674 606.6 674.8 602.8 675.6 605.5 676.4 603.7 677.3 607.9 678.1 606 678.9 607.9 679.7 609.6 680.5 612.3 681.3 607.9 682.1 609.8 682.9 609.9 683.7 608.3 684.6 610.8 685.4 606.7 686.2 607.1 687 607 687.8 606.4 688.6 607.9 689.4 606.8 690.2 605.8 691 607.2 691.9 604.6 692.7 605.6 693.5 604.9 694.3 609.3 695.1 604.7 695.9 607.6 696.7 607.8 697.5 606.9 698.3 604.1 699.2 605.6 700 605.9 700.8 605.3 701.6 605.8 702.4 606.2 703.2 607 704 608.3 704.8 608.2 705.6 611 706.4 609.1 707.3 612 708.1 608.6 708.9 608.2 709.7 609.4 710.5 609 711.3 606.6 712.1 608.8 712.9 608.3 713.7 605.6 714.6 608.2 715.4 607.4 716.2 608.3" fill="none" marker-start="url(#m)" marker-mid="url(#m)" marker-end="url(#m)"/>
<path d="M104 609.7 104.8 606.3 105.6 603.6 106.4 599.1 107.2 595.6 108.1 591.5 108.9 586 109.7 580.8 110.5 575.5 111.3 570 112.1 563.4 112.9 557.6 113.7 550.6 114.5 545 115.4 539.2 116.2 535.6 117 532.2 117.8 529.6 118.6 529.9 119.4 530.9 120.2 533.6 121 535.5 121.8 537.5 122.6 542.2 123.5 546.3 124.3 551 125.1 555.2 125.9 559.3 126.7 562 127.5 564.7 128.3 566.4 129.1 568.2 129.9 570.1 130.8 572.8 131.6 573.1 132.4 574.9 133.2 576.1 134 578.3 134.8 579.4 135.6 580.1 136.4 580.8 137.2 582.8 138.1 583.3 138.9 584.3 139.7 585.6 140.5 586.4 141.3 587.9 142.1 588.4 142.9 590.6 143.7 591 144.5 592.4 145.4 593.4 146.2 595 147 597.3 147.8 596.7 148.6 598.5 149.4 600.2 150.2 602 151 603.6 151.8 605.8 152.6 607.6 153.5 609.7 154.3 614.6 155.1 618.1 155.9 618.1 156.7 620 157.5 619.5 158.3 619.7 159.1 618.8 159.9 618.6 160.8 618.9 161.6 619.8 162.4 619.9 163.2 619.2 164 617.7 164.8 621.5 165.6 620 166.4 619.6 167.2 620.8 168.1 620.1 168.9 620.8 169.7 620.1 170.5 619.4 171.3 622.1 172.1 621.6 172.9 621.4 173.7 621.5 174.5 621.5 175.4 624.2 176.2 621.2 177 623 177.8 622.4 178.6 621.6 179.4 621.9 180.2 623.9 181 624.5 181.8 624.8 182.7 626.5 183.5 623.3 184.3 623.7 185.1 627.3 185.9 625.3 186.7 627.2 187.5 630.7 188.3 628.3 189.1 629.3 189.9 630.6 190.8 633.6 191.6 632.8 192.4 635.8 193.2 632.8 194 633.4 194.8 634.8 195.6 635 196.4 630.9 197.2 635 198.1 631.2 198.9 631.5 199.7 629.1 200.5 632.7 201.3 629.3 202.1 627.1 202.9 628.9 203.7 630.8 204.5 631.8 205.4 630.1 206.2 627.8 207 627.3 207.8 629.7 208.6 628.5 209.4 628.3 210.2 628.8 211 630.9 211.8 628.4 212.7 630.9 213.5 629.1 214.3 628.1 215.1 627.7 215.9 629.8 216.7 628.2 217.5 627.8 218.3 628.9 219.1 630.4 219.9 629.8 220.8 630 221.6 629.8 222.4 628.5 223.2 627.8 224 629.2 224.8 628 225.6 628.7 226.4 628.8 227.2 630.6 228.1 628.6 228.9 629.3 229.7 628.6 230.5 627.2 231.3 627.1 232.1 626.4 232.9 627.5 233.7 628.5 234.5 626.1 235.4 625.1 236.2 624.5 237 622.5 237.8 624 238.6 622.3 239.4 625 240.2 626 241 623 241.8 626 242.7 626.7 243.5 625.1 244.3 623.6 245.1 622.2 245.9 623.5 246.7 621.9 247.5 623 248.3 625.2 249.1 624.4 249.9 625.1 250.8 622.7 251.6 625.2 252.4 623.7 253.2 622.2 254 618.9 254.8 618.8 255.6 619.6 256.4 618.3 257.2 618.7 258.1 614.1 258.9 620.6 259.7 621.2 260.5 621 261.3 620.1 262.1 618.3 262.9 616.1 263.7 617.4 264.5 617 265.4 616.3 266.2 615.2 267 616.4 267.8 613.7 268.6 614.5 269.4 613.9 270.2 613.5 271 613.7 271.8 613.6 272.7 616.4 273.5 614.6 274.3 617.9 275.1 618.8 275.9 616.3 276.7 615.2 277.5 615.1 278.3 615.2 279.1 614.3 280 617.8 280.8 615.5 281.6 614.5 282.4 614.8 283.2 612.7 284 612.1 284.8 612.4 285.6 612.6 286.4 609.1 287.2 612.2 288.1 612 288.9 609.8 289.7 608.5 290.5 612.3 291.3 612.2 292.1 608.6 292.9 609 293.7 609.6 294.5 611.5 295.4 610.4 296.2 613.6 297 613.3 297.8 609.1 298.6 613.1 299.4 611.3 300.2 609.9 301 610.4 301.8 612.4 302.7 611.6 303.5 609.6 304.3 610.6 305.1 606.7 305.9 608.6 306.7 605 307.5 607.1 308.3 604.9 309.1 605.9 310 606.5 310.8 608.7 311.6 605.9 312.4 606.6 313.2 606.2 314 607.5 314.8 608.1 315.6 608 316.4 606.6 317.2 604.8 318.1 606.4 318.9 607.3 319.7 606.7 320.5 607.1 321.3 607.8 322.1 606 322.9 606.5 323.7 606 324.5 602.5 325.4 603.8 326.2 602.8 327 604.6 327.8 604.1 328.6 605.5 329.4 606.8 330.2 606.4 331 604.4 331.8 603 332.7 600.2 333.5 603.5 334.3 605.5 335.1 603.5 335.9 602 336.7 604.4 337.5 603.3 338.3 601.8 339.1 602.5 340 602 340.8 602.7 341.6 602.9 342.4 601 343.2 601.9 344 603.2 344.8 603 345.6 604.1 346.4 604.2 347.2 603.5 348.1 603.5 348.9 599.6 349.7 602.3 350.5 601.4 351.3 598.1 352.1 602.1 352.9 600.1 353.7 598 354.5 599.5 355.4 599.8 356.2 601.2 357 600.2 357.8 601.6 358.6 599.3 359.4 600.2 360.2 601.6 361 599.5 361.8 602.6 362.7 602.1 363.5 599.5 364.3 599.9 365.1 601.9 365.9 601.3 366.7 600.6 367.5 601.4 368.3 600.4 369.1 601.4 370 601 370.8 602.3 371.6 602 372.4 603.2 373.2 601.8 374 601.5 374.8 600.5 375.6 600.6 376.4 601.5 377.3 601 378.1 599.1 378.9 601.6 379.7 601.3 380.5 599 381.3 600.1 382.1 599.5 382.9 601.1 383.7 600.5 384.5 598.3 385.4 595.2 386.2 600.8 387 600.5 387.8 597 388.6 597.4 389.4 599.2 390.2 596.6 391 597.9 391.8 599.4 392.7 599.3 393.5 600.6 394.3 599.8 395.1 601.7 395.9 602.7 396.7 602.4 397.5 601 398.3 600.1 399.1 602.8 400 603.4 400.8 601.6 401.6 600.5 402.4 603 403.2 600.5 404 604.2 404.8 601.3 405.6 602.7 406.4 606.4 407.3 603.3 408.1 604.3 408.9 604 409.7 604.3 410.5 602.6 411.3 602.8 412.1 600.9 412.9 599 413.7 598.2 414.5 598.6 415.4 599.1 416.2 600 417 601.4 417.8 603.1 418.6 600.3 419.4 602.7 420.2 601.9 421 604.2 421.8 601.4 422.7 599.8 423.5 601.8 424.3 600.3 425.1 601.8 425.9 601.4 426.7 602.4 427.5 605.7 428.3 601.3 429.1 601.2 430 601 430.8 599.2 431.6 600.2 432.4 600.7 433.2 602.1 434 596.7 434.8 602.8 435.6 601.3 436.4 601.5 437.3 599.2 438.1 600.4 438.9 600 439.7 603.2 440.5 601.1 441.3 598.5 442.1 600.7 442.9 601.8 443.7 599.9 444.5 601.4 445.4 600.9 446.2 600.7 447 602.8 447.8 601.6 448.6 599.6 449.4 602 450.2 602 451 602.6 451.8 601.6 452.7 601.8 453.5 604.3 454.3 603.1 455.1 601 455.9 605.8 456.7 601.5 457.5 601.2 458.3 604.3 459.1 604.1 460 602.4 460.8 599.7 461.6 603 462.4 602.4 463.2 602.6 464 603.2 464.8 600.2 465.6 602.7 466.4 604.7 467.3 602.4 468.1 601.7 468.9 604.2 469.7 602.1 470.5 603 471.3 603.7 472.1 602.5 472.9 599.5 473.7 600.5 474.6 602.5 475.4 599.2 476.2 601.2 477 605.8 477.8 603.9 478.6 606.5 479.4 604.6 480.2 600.1 481 601.4 481.8 604.3 482.7 606.1 483.5 606.7 484.3 606.2 485.1 604.8 485.9 603.3 486.7 605.1 487.5 603.4 488.3 605.6 489.1 608.7 490 605.2 490.8 604.2 491.6 604.9 492.4 604.1 493.2 607.1 494 606 494.8 605.4 495.6 604.7 496.4 604.1 497.3 603.2 498.1 605.1 498.9 605.9 499.7 604.8 500.5 604.2 501.3 604.1 502.1 604.3 502.9 600.9 503.7 600.1 504.6 599.5 505.4 599.6 506.2 599.9 507 601.5 507.8 601.9 508.6 601.4 509.4 605.3 510.2 602.9 511 607 511.8 602 512.7 604.3 513.5 606.5 514.3 605.8 515.1 606.6 515.9 603.4 516.7 603.9 517.5 605.2 518.3 605.8 519.1 603.8 520 604 520.8 604.2 521.6 604.8 522.4 606.3 523.2 606.1 524 605.4 524.8 607.2 525.6 606.7 526.4 603.1 527.3 606.1 528.1 605.3 528.9 607.3 529.7 604.4 530.5 606.1 531.3 605.2 532.1 604.8 532.9 605.9 533.7 603.8 534.6 608.2 535.4 607.2 536.2 605.8 537 606.4 537.8 605.4 538.6 602.7 539.4 606.4 540.2 605.9 541 607.6 541.8 608.6 542.7 610.9 543.5 607.9 544.3 606.8 545.1 608.9 545.9 606.9 546.7 610.4 547.5 608.3 548.3 607.8 549.1 606.1 550 606.7 550.8 605.6 551.6 603.9 552.4 607.5 553.2 605.9 554 605.2 554.8 607.1 555.6 606 556.4 609.9 557.3 609.5 558.1 609 558.9 611.7 559.7 606 560.5 606.3 561.3 606.9 562.1 606.9 562.9 606.2 563.7 607.5 564.6 607 565.4 609.5 566.2 605.1 567 607.1 567.8 610.2 568.6 609.1 569.4 607.7 570.2 611.3 571 610.1 571.9 612.9 572.7 610.7 573.5 610.3 574.3 613.9 575.1 611.4 575.9 609.3 576.7 610 577.5 606.7 578.3 607.1 579.1 606.2 580 609.6 580.8 609.1 581.6 607.3 582.4 607.2 583.2 608.9 584 608.7 584.8 610 585.6 609.3 586.4 608.1 587.3 606.4 588.1 607.6 588.9 607 589.7 608.1 590.5 607.4 591.3 606.7 592.1 609.5 592.9 606.7 593.7 607.3 594.6 606.6 595.4 607.4 596.2 609 597 608.5 597.8 607.6 598.6 611.4 599.4 608.8 600.2 608.5 601 608.5 601.9 609.3 602.7 609.6 603.5 608.7 604.3 609.5 605.1 606.9 605.9 609.2 606.7 609.6 607.5 608.5 608.3 610 609.1 609.9 610 608.1 610.8 608.2 611.6 609.7 612.4 611.1 613.2 609.8 614 607.8 614.8 610.8 615.6 608.7 616.4 608.1 617.3 610.2 618.1 606.1 618.9 608.3 619.7 610.3 620.5 609.8 621.3 608.1 622.1 607.1 622.9 609.2 623.7 609.8 624.6 610.7 625.4 608.1 626.2 608.6 627 612.6 627.8 609.9 628.6 608.7 629.4 609.5 630.2 608.3 631 607.9 631.9 610.1 632.7 607 633.5 608.8 634.3 607.7 635.1 609.2 635.9 610.2 636.7 608.7 637.5 610.7 638.3 609.7 639.1 611.8 640 610 640.8 614.6 641.6 613.3 642.4 614.4 643.2 614.6 644 612.4 644.8 614.6 645.6 612.3 646.4 610 647.3 610.9 648.1 612.3 648.9 611.6 649.7 610.1 650.5 608.7 651.3 611.4 652.1 611 652.9 610.6 653.7 612 654.6 611.6 655.4 612.1 656.2 610.8 657 613.8 657.8 612.7 658.6 612.1 659.4 613.4 660.2 612.5 661 611.8 661.9 613.7 662.7 612 663.5 612.8 664.3 611.8 665.1 611.9 665.9 611.7 666.7 610.1 667.5 609.7 668.3 610.7 669.2 613.6 670 612.2 670.8 614.6 671.6 611.7 672.4 611.1 673.2 612.2 674 611.2 674.8 610 675.6 610.2 676.4 612.3 677.3 612.9 678.1 614.6 678.9 612.9 679.7 613.5 680.5 612.8 681.3 612 682.1 614.8 682.9 613.8 683.7 613 684.6 614.7 685.4 612.6 686.2 612.8 687 611.4 687.8 610.8 688.6 610.8 689.4 612.3 690.2 612 691 612.7 691.9 612.1 692.7 616.9 693.5 615 694.3 615.8 695.1 614.3 695.9 612.6 696.7 613.4 697.5 613.1 698.3 613.9 699.2 612.1 700 611.9 700.8 613.5 701.6 611 702.4 612.7 703.2 615.4 704 613 704.8 612.4 705.6 612.8 706.4 613.4 707.3 613.7 708.1 612.5 708.9 612.6 709.7 616 710.5 614.4 711.3 613.2 712.1 613.2 712.9 611.5 713.7 610.7 714.6 611.4 715.4 611.8 716.2 608.4" fill="none" marker-start="url(#m)" marker-mid="url(#m)" marker-end="url(#m)"/>
<path d="M104 609.8 104.8 604.7 105.6 599.5 106.4 594.1 107.2 588.5 108.1 582.4 108.9 576.1 109.7 570.4 110.5 563.8 111.3 557.7 112.1 551.5 112.9 545.6 113.7 541.4 114.5 536.6 115.4 534 116.2 532 117 533.4 117.8 534.3 118.6 537.7 119.4 539.7 120.2 542.1 121 545.1 121.8 549.8 122.6 552.2 123.5 555 124.3 556.7 125.1 558.9 125.9 561.9 126.7 563.9 127.5 566.7 128.3 569 129.1 570.3 129.9 572.5 130.8 573.9 131.6 576 132.4 577 133.2 579.1 134 580.6 134.8 581.7 135.6 583.3 136.4 584.1 137.2 585.9 138.1 586.9 138.9 587.1 139.7 588.1 140.5 589.3 141.3 590.3 142.1 591.1 142.9 591.9 143.7 593 144.5 594.5 145.4 595.8 146.2 596.7 147 598 147.8 599.6 148.6 602.8 149.4 605.9 150.2 608.6 151 612.9 151.8 616.3 152.6 619.9 153.5 624.1 154.3 626.8 155.1 629.7 155.9 631.2 156.7 630.9 157.5 631 158.3 634.8 159.1 635.4 159.9 635.4 160.8 635.2 161.6 638.2 162.4 637.4 163.2 637 164 641 164.8 640.6 165.6 639.2 166.4 639.1 167.2 641.3 168.1 639.7 168.9 639.7 169.7 642.3 170.5 641 171.3 641.6 172.1 641.5 172.9 641.2 173.7 643.4 174.5 645 175.4 645.1 176.2 645.7 177 644.7 177.8 643.4 178.6 645.3 179.4 645.4 180.2 644.8 181 642.5 181.8 643.5 182.7 643.1 183.5 644.2 184.3 643.5 185.1 644.2 185.9 642.2 186.7 643.8 187.5 642 188.3 642.8 189.1 642.7 189.9 645.1 190.8 642.5 191.6 643.1 192.4 639.9 193.2 640.4 194 640 194.8 640.4 195.6 637.9 196.4 642.6 197.2 638.6 198.1 640.3 198.9 641.2 199.7 640.8 200.5 639.8 201.3 639 202.1 637.5 202.9 639.7 203.7 639.3 204.5 636.3 205.4 635.6 206.2 638.3 207 637.4 207.8 635.5 208.6 636.1 209.4 634.4 210.2 636.2 211 635.7 211.8 630.1 212.7 632.7 213.5 632 214.3 633.8 215.1 635.5 215.9 633 216.7 632.7 217.5 635.3 218.3 635.3 219.1 633.8 219.9 634.4 220.8 636 221.6 632.3 222.4 631.6 223.2 635 224 629.4 224.8 633.5 225.6 633.7 226.4 633.5 227.2 632.5 228.1 632.9 228.9 635.6 229.7 633.2 230.5 632.8 231.3 634.5 232.1 636.8 232.9 634.9 233.7 634 234.5 631.7 235.4 633.3 236.2 631.8 237 628 237.8 632 238.6 631.9 239.4 629.7 240.2 628.5 241 627.7 241.8 628.9 242.7 630.2 243.5 630.6 244.3 628.7 245.1 627.6 245.9 628.9 246.7 629.4 247.5 628 248.3 628.6 249.1 629.1 249.9 625.8 250.8 627.3 251.6 630.6 252.4 626.9 253.2 628 254 628.4 254.8 627.5 255.6 622.1 256.4 626 257.2 626.9 258.1 625.6 258.9 623.8 259.7 624.1 260.5 623.9 261.3 624.1 262.1 622.9 262.9 623.3 263.7 620.7 264.5 619.6 265.4 619.4 266.2 620.1 267 618.1 267.8 619.6 268.6 619.7 269.4 622.6 270.2 621.9 271 622.3 271.8 620.2 272.7 622 273.5 621.9 274.3 621.9 275.1 619 275.9 621.9 276.7 622 277.5 620.3 278.3 620.6 279.1 618.3 280 618.5 280.8 619.5 281.6 619.9 282.4 619.3 283.2 616.8 284 617.8 284.8 617 285.6 621.2 286.4 619 287.2 617.2 288.1 615.6 288.9 615.1 289.7 615.4 290.5 617.5 291.3 614 292.1 614.8 292.9 616.6 293.7 614.6 294.5 614 295.4 613.1 296.2 612.2 297 612.9 297.8 612.7 298.6 613.1 299.4 612 300.2 613.3 301 610.4 301.8 611.4 302.7 609.9 303.5 610.8 304.3 612.4 305.1 612.2 305.9 612.4 306.7 612.5 307.5 616.6 308.3 614.4 309.1 610.1 310 612.7 310.8 610.4 311.6 613 312.4 614 313.2 611.6 314 611.3 314.8 611.8 315.6 608.7 316.4 608.4 317.2 611.6 318.1 607.4 318.9 608.6 319.7 611.4 320.5 607.5 321.3 607.9 322.1 607.9 322.9 609.8 323.7 606.2 324.5 607.6 325.4 603.4 326.2 607.5 327 608.2 327.8 605.6 328.6 608.6 329.4 605.3 330.2 609.5 331 607.5 331.8 610.2 332.7 609.4 333.5 608 334.3 608.8 335.1 606.3 335.9 608.2 336.7 604.9 337.5 605.8 338.3 609.7 339.1 604.4 340 607.1 340.8 608.9 341.6 607.1 342.4 607.3 343.2 606.1 344 605.9 344.8 605 345.6 608.3 346.4 605.4 347.2 606.1 348.1 606.9 348.9 605.3 349.7 605.5 350.5 603.4 351.3 604.7 352.1 604.1 352.9 605.2 353.7 605.3 354.5 605.2 355.4 607.4 356.2 606.5 357 606.3 357.8 606.5 358.6 606.9 359.4 604.7 360.2 604 361 602.1 361.8 604.7 362.7 604.7 363.5 606.7 364.3 605 365.1 602.8 365.9 601.4 366.7 603.4 367.5 601.3 368.3 600.8 369.1 599.6 370 601.1 370.8 602.6 371.6 601 372.4 599.1 373.2 601.8 374 600.9 374.8 602.2 375.6 601.8 376.4 603 377.3 599 378.1 601.7 378.9 600.5 379.7 599.9 380.5 601.4 381.3 602.9 382.1 602.7 382.9 603.9 383.7 602.5 384.5 603.9 385.4 601.2 386.2 603.4 387 602 387.8 604.3 388.6 605.9 389.4 604.1 390.2 602.7 391 603.1 391.8 603.1 392.7 605.6 393.5 605.3 394.3 604 395.1 604.1 395.9 602 396.7 600.8 397.5 600 398.3 602.2 399.1 598.4 400 603.4 400.8 601.1 401.6 601.5 402.4 600.9 403.2 601.2 404 599.1 404.8 601.9 405.6 599.7 406.4 602.8 407.3 601.3 408.1 600.9 408.9 600 409.7 603.2 410.5 604.6 411.3 598.6 412.1 602.6 412.9 601.7 413.7 601.6 414.5 599.4 415.4 600.5 416.2 599.8 417 599.6 417.8 600.9 418.6 602.1 419.4 599.9 420.2 600.5 421 601.6 421.8 604.9 422.7 603.1 423.5 601.8 424.3 603.4 425.1 601.5 425.9 599 426.7 602.9 427.5 602.2 428.3 601.1 429.1 599.3 430 605 430.8 602.3 431.6 599.5 432.4 601.8 433.2 604.5 434 601.1 434.8 603.9 435.6 600.2 436.4 599.8 437.3 601.7 438.1 602.7 438.9 600 439.7 601.2 440.5 600.9 441.3 601.1 442.1 600.7 442.9 601.3 443.7 598.4 444.5 598 445.4 601.3 446.2 602.2 447 599.4 447.8 599 448.6 600.6 449.4 600.1 450.2 601.1 451 602.5 451.8 603.2 452.7 604 453.5 602.9 454.3 605.4 455.1 600.5 455.9 604.6 456.7 602.6 457.5 602.6 458.3 603.4 459.1 603.2 460 604 460.8 602.9 461.6 600.5 462.4 600 463.2 602.6 464 600.4 464.8 602.9 465.6 600.6 466.4 600.7 467.3 603.4 468.1 599.6 468.9 604.3 469.7 600.5 470.5 605 471.3 601.4 472.1 605.4 472.9 603.4 473.7 604.8 474.6 602.6 475.4 604.6 476.2 604.1 477 603.7 477.8 605.7 478.6 605.1 479.4 603.8 480.2 605.7 481 603.7 481.8 607.2 482.7 601.7 483.5 603.3 484.3 607.4 485.1 606.4 485.9 605.5 486.7 603.7 487.5 602.9 488.3 601.9 489.1 601.3 490 604.5 490.8 602.4 491.6 603 492.4 602 493.2 603.4 494 606.2 494.8 604.5 495.6 600.3 496.4 604.3 497.3 602.7 498.1 604.8 498.9 605.1 499.7 604.5 500.5 604.6 501.3 602.8 502.1 604.6 502.9 606.7 503.7 602.6 504.6 603.2 505.4 604.9 506.2 604.8 507 603.8 507.8 604.8 508.6 607.5 509.4 604.5 510.2 603.2 511 607.3 511.8 608.9 512.7 605.6 513.5 604.7 514.3 607.7 515.1 608.2 515.9 607.8 516.7 606.5 517.5 607.8 518.3 607.4 519.1 608.1 520 610.5 520.8 608 521.6 606.5 522.4 611.6 523.2 608.5 524 608.3 524.8 608.3 525.6 606.7 526.4 608.2 527.3 605.4 528.1 607.2 528.9 608.3 529.7 606.2 530.5 606.8 531.3 604.9 532.1 606.9 532.9 608 533.7 604.7 534.6 607.5 535.4 607.4 536.2 605.8 537 608.7 537.8 607.7 538.6 608.3 539.4 603.8 540.2 607.8 541 608.1 541.8 608 542.7 603.5 543.5 604.5 544.3 606.9 545.1 606.6 545.9 601.6 546.7 605.9 547.5 604.9 548.3 606.3 549.1 601.8 550 607.1 550.8 608.7 551.6 606.6 552.4 606.7 553.2 607.7 554 608.3 554.8 609.9 555.6 608.5 556.4 604.4 557.3 610 558.1 605.9 558.9 604.7 559.7 606.4 560.5 608 561.3 606.5 562.1 606.3 562.9 610 563.7 606.9 564.6 609.1 565.4 610.7 566.2 606.3 567 609.4 567.8 608.2 568.6 611.1 569.4 607.9 570.2 608.7 571 610.2 571.9 610.9 572.7 610.4 573.5 608.7 574.3 609.7 575.1 610 575.9 607.4 576.7 607.6 577.5 606.6 578.3 606.9 579.1 610.1 580 608.1 580.8 609.6 581.6 610.3 582.4 607.8 583.2 608.1 584 606.9 584.8 608 585.6 606.4 586.4 607.7 587.3 607.3 588.1 606.4 588.9 605.6 589.7 609.1 590.5 611.8 591.3 611.3 592.1 606.9 592.9 605.9 593.7 607 594.6 605.6 595.4 608.1 596.2 608.2 597 605.4 597.8 606.4 598.6 607.2 599.4 607.7 600.2 609.4 601 612.5 601.9 608.7 602.7 610.3 603.5 611.9 604.3 611.5 605.1 609.2 605.9 611.3 606.7 611.8 607.5 609.3 608.3 608.6 609.1 608.6 610 608.9 610.8 609.8 611.6 610.5 612.4 613.1 613.2 610.3 614 611 614.8 607.5 615.6 610.8 616.4 609.6 617.3 608.9 618.1 611.9 618.9 612 619.7 608.4 620.5 608.7 621.3 613.3 622.1 611 622.9 609.3 623.7 612.7 624.6 611.4 625.4 611.1 626.2 611.4 627 611.3 627.8 614.3 628.6 611.8 629.4 610.7 630.2 610.2 631 608.2 631.9 607.5 632.7 609.5 633.5 611.5 634.3 613.5 635.1 612.1 635.9 610.1 636.7 612 637.5 611.3 638.3 609.8 639.1 613.1 640 612.6 640.8 609.2 641.6 610.5 642.4 609.8 643.2 610.7 644 612.6 644.8 609 645.6 611.7 646.4 610.4 647.3 610.4 648.1 610.7 648.9 613.2 649.7 610.8 650.5 613.5 651.3 611 652.1 612.1 652.9 609.3 653.7 612.7 654.6 612.4 655.4 612.7 656.2 615.7 657 613.3 657.8 613.1 658.6 614.2 659.4 613.3 660.2 612.8 661 612.8 661.9 612.8 662.7 612.2 663.5 612.2 664.3 614.3 665.1 613.3 665.9 613.5 666.7 613.8 667.5 613.4 668.3 613.8 669.2 611.6 670 610.2 670.8 612.3 671.6 612.5 672.4 613.4 673.2 614.2 674 614 674.8 612.2 675.6 615 676.4 610 677.3 611.1 678.1 612.2 678.9 613.2 679.7 610.8 680.5 612.6 681.3 609.1 682.1 612.1 682.9 611.1 683.7 612.9 684.6 610 685.4 610.8 686.2 610.9 687 609.2 687.8 613.1 688.6 614.8 689.4 615.2 690.2 613.5 691 613.2 691.9 613.3 692.7 612 693.5 610.9 694.3 613.3 695.1 609.9 695.9 612.2 696.7 612.6 697.5 609.8 698.3 609.6 699.2 610 700 612.7 700.8 609.4 701.6 611.1 702.4 613.1 703.2 612 704 611.8 704.8 612.2 705.6 613 706.4 609.5 707.3 612.7 708.1 611.3 708.9 611.9 709.7 611.4 710.5 614.4 711.3 609.1 712.1 610.2 712.9 612.8 713.7 611.3 714.6 613.2 715.4 612.2 716.2 613.7" fill="none" marker-start="url(#m)" marker-mid="url(#m)" marker-end="url(#m)"/>
<path d="M104 611.1 104.8 599 105.6 586 106.4 571.9 107.2 557.9 108.1 548.1 108.9 539.6 109.7 533.3 110.5 530.6 111.3 526.7 112.1 524.3 112.9 524.1 113.7 525.7 114.5 528.1 115.4 529.6 116.2 534 117 537 117.8 541.5 118.6 545.3 119.4 548.5 120.2 552.2 121 554.2 121.8 557 122.6 559.9 123.5 561.9 124.3 564 125.1 566.1 125.9 568 126.7 571.1 127.5 572.9 128.3 575 129.1 577.2 129.9 577.9 130.8 580.8 131.6 582.7 132.4 584.6 133.2 586.7 134 587.8 134.8 589.8 135.6 591.7 136.4 593.1 137.2 594.4 138.1 596 138.9 597.6 139.7 599.5 140.5 602.6 141.3 605.7 142.1 608.7 142.9 611.9 143.7 615.7 144.5 618.7 145.4 622.4 146.2 624.8 147 627 147.8 629.5 148.6 630.7 149.4 632 150.2 636.2 151 636.7 151.8 638 152.6 638.9 153.5 641.6 154.3 642.2 155.1 642.6 155.9 644.4 156.7 646 157.5 646.8 158.3 646.8 159.1 647.4 159.9 648.4 160.8 649.6 161.6 652.4 162.4 652 163.2 652.2 164 652.2 164.8 652.1 165.6 653.5 166.4 652 167.2 650.9 168.1 652 168.9 651.6 169.7 653.1 170.5 654 171.3 652.5 172.1 653.1 172.9 652.6 173.7 654.8 174.5 655.9 175.4 655.8 176.2 653.9 177 656.7 177.8 651.7 178.6 653.9 179.4 653.1 180.2 653.4 181 650.3 181.8 654.4 182.7 650.7 183.5 650.5 184.3 648.6 185.1 648.3 185.9 650.6 186.7 650.9 187.5 651.3 188.3 648.1 189.1 646.6 189.9 646.8 190.8 647.5 191.6 645.9 192.4 648.7 193.2 644.4 194 643.9 194.8 644 195.6 644.5 196.4 642.7 197.2 647.4 198.1 646.7 198.9 644.9 199.7 644.8 200.5 645.3 201.3 643.9 202.1 645.1 202.9 642 203.7 644.1 204.5 647.4 205.4 643.9 206.2 643.9 207 644.7 207.8 640.9 208.6 644.1 209.4 645.7 210.2 643.8 211 640.6 211.8 643.5 212.7 640.8 213.5 642.8 214.3 641 215.1 642.7 215.9 642.6 216.7 647.8 217.5 644.8 218.3 644.2 219.1 641.9 219.9 639.4 220.8 639.2 221.6 639 222.4 642.6 223.2 640.9 224 639.5 224.8 638.5 225.6 639.3 226.4 641.2 227.2 642.3 228.1 638.5 228.9 641.7 229.7 640.4 230.5 640.2 231.3 639.5 232.1 641.4 232.9 642.1 233.7 640.3 234.5 641 235.4 639 236.2 641.1 237 639 237.8 640 238.6 634.5 239.4 640.6 240.2 638.5 241 638.2 241.8 638.5 242.7 639.4 243.5 638.7 244.3 637.1 245.1 634.1 245.9 634.1 246.7 633 247.5 636.4 248.3 635.2 249.1 633.4 249.9 634.5 250.8 635 251.6 635.1 252.4 633.7 253.2 635.6 254 633.9 254.8 635.2 255.6 632.3 256.4 632.1 257.2 632.6 258.1 634.2 258.9 632 259.7 629 260.5 632.2 261.3 630.8 262.1 633.9 262.9 632.6 263.7 630.6 264.5 628.5 265.4 627.8 266.2 629.1 267 624.4 267.8 631.1 268.6 628.9 269.4 624.8 270.2 624.5 271 623.8 271.8 627.7 272.7 628.1 273.5 627.7 274.3 626.3 275.1 623.6 275.9 624.6 276.7 624.3 277.5 622.4 278.3 623.5 279.1 622.7 280 620.6 280.8 624 281.6 622.9 282.4 624.5 283.2 622.2 284 625.2 284.8 624.5 285.6 621.4 286.4 624.8 287.2 617.9 288.1 618.9 288.9 619.5 289.7 619.3 290.5 617.8 291.3 618 292.1 620.4 292.9 618.8 293.7 620.6 294.5 620.1 295.4 619.3 296.2 618.9 297 619.2 297.8 618.5 298.6 618.6 299.4 617.9 300.2 614.3 301 613.9 301.8 616.9 302.7 618.3 303.5 613.3 304.3 611.6 305.1 615 305.9 614.4 306.7 615.6 307.5 615.7 308.3 617.5 309.1 617 310 617.3 310.8 617 311.6 615.8 312.4 617.6 313.2 613.1 314 614.2 314.8 613.8 315.6 615 316.4 616.9 317.2 613.8 318.1 614.2 318.9 617.1 319.7 611.2 320.5 610.4 321.3 613 322.1 611.4 322.9 609.4 323.7 610.2 324.5 615 325.4 608.1 326.2 612.5 327 610.1 327.8 606.8 328.6 610.5 329.4 611.7 330.2 609.7 331 610.2 331.8 613.3 332.7 607.9 333.5 610.4 334.3 610.7 335.1 610.3 335.9 610.2 336.7 608.4 337.5 610.9 338.3 611.8 339.1 610.4 340 610.7 340.8 610 341.6 612.1 342.4 609.5 343.2 608.6 344 610.4 344.8 607.4 345.6 607.9 346.4 605.5 347.2 605.2 348.1 607.5 348.9 609.9 349.7 608.4 350.5 609.8 351.3 609.7 352.1 606.4 352.9 607.5 353.7 608.8 354.5 609.9 355.4 608 356.2 606.2 357 607.3 357.8 607.6 358.6 607.3 359.4 605.2 360.2 605.5 361 606.1 361.8 609.1 362.7 604.5 363.5 605 364.3 605.4 365.1 603.7 365.9 607.1 366.7 605.8 367.5 606.4 368.3 609.1 369.1 607.2 370 606.5 370.8 604.7 371.6 605.2 372.4 605.7 373.2 604.3 374 608.5 374.8 605.8 375.6 606.3 376.4 604.4 377.3 602.8 378.1 604.8 378.9 605 379.7 606 380.5 605.5 381.3 610.5 382.1 608.7 382.9 611.2 383.7 610.9 384.5 609 385.4 608.5 386.2 609.5 387 607.2 387.8 608.5 388.6 608.3 389.4 607.6 390.2 607.1 391 604.8 391.8 604.3 392.7 605.8 393.5 604.7 394.3 604.5 395.1 602.4 395.9 602.4 396.7 602.1 397.5 604.7 398.3 603 399.1 604.7 400 605.6 400.8 603.9 401.6 604.3 402.4 602.7 403.2 602.4 404 603 404.8 602.1 405.6 602.6 406.4 603.5 407.3 605 408.1 602.8 408.9 603.3 409.7 603.5 410.5 606.8 411.3 606.9 412.1 604.9 412.9 603.6 413.7 604.5 414.5 602.6 415.4 605.6 416.2 603 417 606.7 417.8 605 418.6 605.4 419.4 603.1 420.2 605.4 421 605 421.8 604.1 422.7 606.6 423.5 604.3 424.3 606.8 425.1 602.9 425.9 605.9 426.7 605.8 427.5 603.1 428.3 601.5 429.1 606.1 430 601.6 430.8 601 431.6 601.9 432.4 604.2 433.2 603.5 434 601.4 434.8 605.8 435.6 601.3 436.4 600.9 437.3 606.1 438.1 606.2 438.9 603.5 439.7 605.7 440.5 603.4 441.3 604.9 442.1 604.7 442.9 604 443.7 602.8 444.5 603.1 445.4 604.3 446.2 602.4 447 602.4 447.8 603.6 448.6 606.9 449.4 605.6 450.2 604.7 451 603.5 451.8 602.4 452.7 605.7 453.5 603.3 454.3 607.6 455.1 605.6 455.9 607 456.7 606.7 457.5 604.2 458.3 606.4 459.1 605.3 460 602.5 460.8 604.5 461.6 606.9 462.4 606.5 463.2 605.7 464 604.7 464.8 604.7 465.6 607.7 466.4 606.8 467.3 607.1 468.1 605.5 468.9 605.3 469.7 606.6 470.5 606 471.3 607.3 472.1 606.8 472.9 604.5 473.7 605.2 474.6 606.9 475.4 606.2 476.2 603.5 477 604.8 477.8 605.3 478.6 602.9 479.4 604.8 480.2 601.9 481 602.6 481.8 601.4 482.7 599.1 483.5 602.9 484.3 605.9 485.1 607.9 485.9 605.9 486.7 607.1 487.5 609.2 488.3 608.2 489.1 607.5 490 609.2 490.8 607.5 491.6 606.3 492.4 607.7 493.2 604.2 494 607.3 494.8 607.4 495.6 604 496.4 606.4 497.3 606.9 498.1 607.2 498.9 605 499.7 606.5 500.5 606 501.3 608 502.1 607.4 502.9 606 503.7 607.9 504.6 606.8 505.4 604.8 506.2 606.7 507 605.5 507.8 609 508.6 606.7 509.4 608.4 510.2 606.6 511 609.4 511.8 607.3 512.7 605.7 513.5 606.6 514.3 606.2 515.1 606.9 515.9 609.9 516.7 607.4 517.5 607.1 518.3 604.4 519.1 605.4 520 607.1 520.8 604.1 521.6 605 522.4 608.2 523.2 603.9 524 605.4 524.8 601.9 525.6 604.8 526.4 609.1 527.3 605.2 528.1 607 528.9 608.1 529.7 607.2 530.5 606.7 531.3 608.3 532.1 609.3 532.9 606.9 533.7 607.3 534.6 609.6 535.4 605.6 536.2 607.8 537 604.3 537.8 604.9 538.6 607.6 539.4 606.4 540.2 609.5 541 607.9 541.8 611.4 542.7 610.6 543.5 609.3 544.3 608.7 545.1 608.7 545.9 608.5 546.7 608.7 547.5 610.9 548.3 610.1 549.1 610.6 550 609.3 550.8 611.9 551.6 610.2 552.4 606.6 553.2 608.3 554 609.3 554.8 606.8 555.6 607.1 556.4 607.3 557.3 607.6 558.1 608.6 558.9 607.3 559.7 607.4 560.5 607.9 561.3 606 562.1 608.6 562.9 608.4 563.7 607 564.6 607.7 565.4 612 566.2 608.9 567 610.2 567.8 609.7 568.6 606.9 569.4 605.7 570.2 607.2 571 611 571.9 607.8 572.7 607.2 573.5 607.4 574.3 604.2 575.1 606.2 575.9 606.2 576.7 607.5 577.5 606.5 578.3 608.6 579.1 610.7 580 609 580.8 610.3 581.6 611.7 582.4 612.3 583.2 609.9 584 609.1 584.8 605.4 585.6 608.9 586.4 608.9 587.3 608 588.1 607 588.9 610.7 589.7 609.8 590.5 608.2 591.3 608.4 592.1 612.8 592.9 614.9 593.7 612.9 594.6 613.2 595.4 611.1 596.2 611 597 611.8 597.8 612.7 598.6 610.5 599.4 612 600.2 612 601 610.6 601.9 607.5 602.7 607.9 603.5 608.5 604.3 613.3 605.1 609.6 605.9 611.5 606.7 609.2 607.5 608.1 608.3 608 609.1 609.8 610 610.1 610.8 607.4 611.6 606.6 612.4 609.9 613.2 610.1 614 608.9 614.8 609.3 615.6 606.7 616.4 606.3 617.3 606.4 618.1 608.6 618.9 609.2 619.7 608.6 620.5 608.3 621.3 607.6 622.1 608.8 622.9 610.3 623.7 609.1 624.6 608.7 625.4 609.9 626.2 610.9 627 608.4 627.8 607.6 628.6 608.1 629.4 611 630.2 609.1 631 610 631.9 610.9 632.7 610.9 633.5 611.6 634.3 611.8 635.1 610.2 635.9 610.7 636.7 610.5 637.5 612.6 638.3 610.6 639.1 608.6 640 612.9 640.8 611.2 641.6 611.5 642.4 611.2 643.2 610.5 644 612.5 644.8 610.1 645.6 610.3 646.4 611.7 647.3 610.2 648.1 609.4 648.9 609.1 649.7 611.7 650.5 610.1 651.3 611.2 652.1 612.2 652.9 607.2 653.7 609.1 654.6 609.5 655.4 611.3 656.2 610.7 657 611.8 657.8 608.2 658.6 611.8 659.4 610.6 660.2 609.1 661 610.6 661.9 609.2 662.7 610.5 663.5 611.6 664.3 612 665.1 615.5 665.9 611.2 666.7 611.8 667.5 612 668.3 612 669.2 613.6 670 611.7 670.8 613.2 671.6 612.7 672.4 613.7 673.2 612.7 674 610.7 674.8 611.7 675.6 613.9 676.4 613.8 677.3 610.7 678.1 612.6 678.9 610.8 679.7 609.6 680.5 610.7 681.3 614 682.1 616 682.9 610.1 683.7 614.6 684.6 614.5 685.4 612.9 686.2 612.2 687 610.4 687.8 612.2 688.6 612.4 689.4 609.7 690.2 612.4 691 606.8 691.9 613.1 692.7 610.8 693.5 609.2 694.3 611.1 695.1 613.9 695.9 611.6 696.7 610 697.5 612.7 698.3 613.9 699.2 611.3 700 614.5 700.8 610.8 701.6 610.8 702.4 612.4 703.2 615.1 704 612.3 704.8 612.3 705.6 612.8 706.4 615.3 707.3 613.9 708.1 615.8 708.9 613 709.7 615.7 710.5 616.9 711.3 615.2 712.1 613.6 712.9 614 713.7 613.4 714.6 613.9 715.4 611.8 716.2 611.9" fill="none" marker-start="url(#m)" marker-mid="url(#m)" marker-end="url(#m)"/>
<path d="M104 610.8 104.8 592.4 105.6 573.6 106.4 555.3 107.2 538.7 108.1 528.9 108.9 522.5 109.7 518.4 110.5 516.4 111.3 516.7 112.1 517.9 112.9 523.1 113.7 528 114.5 533.2 115.4 539.4 116.2 544.2 117 550.9 117.8 556.1 118.6 561.3 119.4 565.3 120.2 569.7 121 572.1 121.8 575.2 122.6 579.7 123.5 583.1 124.3 586.1 125.1 590.6 125.9 593.6 126.7 597.3 127.5 600.4 128.3 604.8 129.1 609.2 129.9 613.5 130.8 617.9 131.6 621.2 132.4 623.9 133.2 626.4 134 628.8 134.8 630.5 135.6 632.1 136.4 634.1 137.2 635.4 138.1 636.9 138.9 638.5 139.7 638.8 140.5 639.7 141.3 641.6 142.1 641.9 142.9 643 143.7 644.9 144.5 645.8 145.4 647 146.2 647.6 147 648.6 147.8 650.6 148.6 652.3 149.4 652.6 150.2 652.9 151 654.1 151.8 655 152.6 656.7 153.5 655.9 154.3 657.1 155.1 657.4 155.9 657.9 156.7 658.8 157.5 659.6 158.3 659.2 159.1 659.3 159.9 658.8 160.8 661.1 161.6 662.4 162.4 660.3 163.2 661.5 164 663.6 164.8 663.4 165.6 663.4 166.4 662.1 167.2 663.7 168.1 662 168.9 663.1 169.7 663.9 170.5 662.3 171.3 664.2 172.1 662.4 172.9 660.3 173.7 661.4 174.5 660 175.4 660.5 176.2 657.8 177 659.4 177.8 656.8 178.6 654.5 179.4 655.7 180.2 653 181 653.4 181.8 652.9 182.7 655.1 183.5 654.4 184.3 656.3 185.1 656.2 185.9 656.1 186.7 654.5 187.5 652.7 188.3 656.8 189.1 651.8 189.9 657.1 190.8 656.1 191.6 649.9 192.4 650.5 193.2 652.1 194 652.1 194.8 652.4 195.6 655.7 196.4 651.1 197.2 652.4 198.1 654.3 198.9 649.7 199.7 648.7 200.5 647.3 201.3 647.3 202.1 648.9 202.9 647.1 203.7 647.7 204.5 646.9 205.4 643.8 206.2 646.8 207 650.1 207.8 647.3 208.6 649.4 209.4 649.1 210.2 645.7 211 647.4 211.8 649 212.7 647.5 213.5 645 214.3 645.5 215.1 642.5 215.9 646.2 216.7 644.1 217.5 644.2 218.3 645.7 219.1 643.8 219.9 643.1 220.8 642.1 221.6 646.7 222.4 643.1 223.2 642.1 224 641 224.8 642.1 225.6 642.5 226.4 643.6 227.2 640.3 228.1 642.7 228.9 640.3 229.7 642.5 230.5 642.4 231.3 644.2 232.1 645.1 232.9 642.6 233.7 643 234.5 640.1 235.4 643.5 236.2 642.5 237 638 237.8 640.1 238.6 639.8 239.4 640.9 240.2 639 241 636.7 241.8 636.3 242.7 640.8 243.5 637.5 244.3 639.4 245.1 638.9 245.9 636.6 246.7 637.4 247.5 636.1 248.3 634.9 249.1 634.1 249.9 633.7 250.8 632.2 251.6 633.7 252.4 633.9 253.2 633.4 254 631.6 254.8 632.4 255.6 630.3 256.4 630.4 257.2 627.3 258.1 630.5 258.9 626.7 259.7 626.8 260.5 623.6 261.3 627.1 262.1 624.3 262.9 625 263.7 623.9 264.5 622.1 265.4 620.6 266.2 619.4 267 622 267.8 622.4 268.6 621.1 269.4 619.5 270.2 620 271 619.5 271.8 618.5 272.7 619.2 273.5 617.6 274.3 614.7 275.1 616.3 275.9 617.4 276.7 616.3 277.5 615.4 278.3 614.1 279.1 613.3 280 616.5 280.8 615.5 281.6 615.3 282.4 616.6 283.2 618.2 284 617 284.8 613.1 285.6 616.1 286.4 611 287.2 612.6 288.1 611.9 288.9 608.7 289.7 608.3 290.5 612.8 291.3 609.3 292.1 609.7 292.9 611.6 293.7 610.7 294.5 611.2 295.4 606.8 296.2 604.7 297 610.4 297.8 608.9 298.6 607.5 299.4 608.3 300.2 604.9 301 606 301.8 606.6 302.7 608.8 303.5 608.7 304.3 606.3 305.1 609.3 305.9 605 306.7 606.9 307.5 604.5 308.3 605.6 309.1 605.3 310 605.6 310.8 607.3 311.6 607 312.4 606.2 313.2 604.7 314 602.8 314.8 603.5 315.6 600.4 316.4 602.7 317.2 603.7 318.1 603.2 318.9 603.2 319.7 600.2 320.5 601.1 321.3 601.5 322.1 601.8 322.9 600.7 323.7 602.2 324.5 595.8 325.4 597.8 326.2 596.2 327 595.2 327.8 596.4 328.6 596 329.4 596.9 330.2 595.3 331 595.3 331.8 597.8 332.7 594.6 333.5 597 334.3 595.6 335.1 592 335.9 593.1 336.7 598.1 337.5 595.7 338.3 595.5 339.1 593.7 340 593.1 340.8 596.2 341.6 597 342.4 595.5 343.2 595.1 344 598.4 344.8 595.1 345.6 596.4 346.4 593.7 347.2 596 348.1 597.2 348.9 596.9 349.7 598.6 350.5 598.1 351.3 597.4 352.1 600.1 352.9 595.3 353.7 594.5 354.5 594.5 355.4 593.6 356.2 596.8 357 594.6 357.8 595.2 358.6 595.4 359.4 597.2 360.2 597.2 361 596.5 361.8 598.4 362.7 597.6 363.5 598.8 364.3 596.1 365.1 593.3 365.9 595.1 366.7 595.3 367.5 596.6 368.3 595.2 369.1 592.8 370 593.7 370.8 594.6 371.6 597.6 372.4 597 373.2 595.1 374 597.4 374.8 594.6 375.6 595.4 376.4 596.6 377.3 592 378.1 598.4 378.9 595.1 379.7 596.7 380.5 595.1 381.3 593.8 382.1 592.8 382.9 594.5 383.7 595.7 384.5 595.2 385.4 597.6 386.2 596 387 594.6 387.8 595.4 388.6 594.8 389.4 596.6 390.2 595.1 391 596.4 391.8 597.8 392.7 599 393.5 600.5 394.3 598.7 395.1 598.6 395.9 598 396.7 599.8 397.5 600.6 398.3 598.3 399.1 598.1 400 597.9 400.8 597.9 401.6 599.3 402.4 597.6 403.2 597.5 404 596.9 404.8 598.9 405.6 600.2 406.4 596.9 407.3 596.9 408.1 598.4 408.9 601.3 409.7 599.1 410.5 596.3 411.3 599.3 412.1 599.6 412.9 597.6 413.7 599.5 414.5 599.8 415.4 600.8 416.2 599 417 598.9 417.8 597.9 418.6 601.5 419.4 596.9 420.2 595.9 421 598 421.8 599.4 422.7 596.8 423.5 596.4 424.3 599 425.1 597.6 425.9 597 426.7 598.6 427.5 597.5 428.3 596.1 429.1 594.7 430 601 430.8 597.8 431.6 601.5 432.4 600.8 433.2 599.3 434 602.2 434.8 600.1 435.6 601.1 436.4 598.9 437.3 601.5 438.1 595.8 438.9 599.9 439.7 599.2 440.5 600.1 441.3 596.4 442.1 598.1 442.9 599 443.7 597.1 444.5 601.4 445.4 601 446.2 599.2 447 600.8 447.8 600 448.6 599.9 449.4 600.1 450.2 599.4 451 601.7 451.8 598.6 452.7 600.4 453.5 601.8 454.3 601.7 455.1 600.7 455.9 601.4 456.7 600.4 457.5 598.9 458.3 600.9 459.1 603.1 460 599.9 460.8 599.9 461.6 599.7 462.4 600.1 463.2 602.4 464 600.7 464.8 600.6 465.6 601.7 466.4 599.5 467.3 599.6 468.1 605.1 468.9 599 469.7 603.5 470.5 602.1 471.3 597 472.1 598.7 472.9 599.7 473.7 602.7 474.6 600.9 475.4 600.3 476.2 602.5 477 600.5 477.8 603.1 478.6 598.9 479.4 601 480.2 602 481 598.4 481.8 599.2 482.7 598.2 483.5 602.8 484.3 602 485.1 601.6 485.9 604.5 486.7 602.3 487.5 603 488.3 604 489.1 604.4 490 607 490.8 604.1 491.6 602.9 492.4 606.8 493.2 606.1 494 603.6 494.8 604.7 495.6 603.6 496.4 602.4 497.3 603.5 498.1 603.9 498.9 600 499.7 603.4 500.5 601 501.3 604.1 502.1 602.4 502.9 604.6 503.7 606.5 504.6 603.7 505.4 604.9 506.2 606 507 601.8 507.8 602.5 508.6 607 509.4 605.3 510.2 605.5 511 605.7 511.8 603.2 512.7 602.2 513.5 601.3 514.3 604.4 515.1 601.5 515.9 600.2 516.7 605.2 517.5 602.5 518.3 603.2 519.1 601 520 604.5 520.8 602.7 521.6 603.5 522.4 605.1 523.2 604.7 524 607.8 524.8 607.7 525.6 607.7 526.4 605 527.3 603.9 528.1 606 528.9 606 529.7 607.6 530.5 607.4 531.3 605.2 532.1 604.1 532.9 606.8 533.7 607.5 534.6 607.4 535.4 605.5 536.2 604.5 537 606.3 537.8 606.8 538.6 606 539.4 607.3 540.2 606.6 541 604.7 541.8 605.4 542.7 608.1 543.5 602.3 544.3 600.5 545.1 606.7 545.9 604.9 546.7 603 547.5 602 548.3 606.7 549.1 601.4 550 602.3 550.8 603.2 551.6 604.4 552.4 607.1 553.2 603.8 554 605 554.8 603.1 555.6 604.2 556.4 605.4 557.3 600.5 558.1 600 558.9 606.6 559.7 604.2 560.5 606.5 561.3 603.8 562.1 606.4 562.9 604.2 563.7 605.7 564.6 603.8 565.4 607.7 566.2 604.5 567 605.3 567.8 605.5 568.6 606.5 569.4 605.3 570.2 606 571 609.4 571.9 608.6 572.7 609.8 573.5 609 574.3 605 575.1 608.7 575.9 605.3 576.7 603.9 577.5 605.2 578.3 604.7 579.1 608.3 580 607.5 580.8 608.4 581.6 605.1 582.4 607.6 583.2 608.9 584 608.1 584.8 606.4 585.6 610.3 586.4 607.1 587.3 608.1 588.1 608.5 588.9 607.5 589.7 608.8 590.5 609 591.3 609.2 592.1 606 592.9 608.4 593.7 606.9 594.6 607.2 595.4 604.8 596.2 610.5 597 607.3 597.8 606.9 598.6 606.5 599.4 606.6 600.2 604.8 601 606 601.9 606.2 602.7 605 603.5 605 604.3 605.4 605.1 605.6 605.9 605.1 606.7 605.3 607.5 609.8 608.3 610.1 609.1 606.3 610 610.6 610.8 613.6 611.6 610.8 612.4 609.9 613.2 608.5 614 609.4 614.8 608.8 615.6 609.3 616.4 608 617.3 612.2 618.1 609.8 618.9 609.6 619.7 609.8 620.5 608.2 621.3 611.7 622.1 607.6 622.9 607.9 623.7 610.5 624.6 608.7 625.4 608.4 626.2 611.5 627 608.3 627.8 609.5 628.6 609.9 629.4 612.5 630.2 609.6 631 608.5 631.9 609 632.7 609.5 633.5 610.9 634.3 610.3 635.1 613.9 635.9 612.5 636.7 612 637.5 611.6 638.3 612.3 639.1 611.5 640 609.8 640.8 612.7 641.6 609.4 642.4 609.8 643.2 608.5 644 608.4 644.8 608 645.6 609 646.4 607.3 647.3 607.7 648.1 609 648.9 611.9 649.7 611.6 650.5 611.3 651.3 609 652.1 611 652.9 611.3 653.7 610.2 654.6 613.6 655.4 610.4 656.2 615.6 657 611.9 657.8 611.1 658.6 613.9 659.4 615.4 660.2 614 661 611 661.9 610.7 662.7 610.3 663.5 610.7 664.3 608.7 665.1 609.4 665.9 611.3 666.7 610.6 667.5 607.8 668.3 611.6 669.2 612.7 670 613 670.8 614 671.6 613.2 672.4 609.5 673.2 610.8 674 611.4 674.8 611.3 675.6 613.7 676.4 613.4 677.3 612.7 678.1 610.4 678.9 613 679.7 613.9 680.5 612.7 681.3 608.8 682.1 611 682.9 612.8 683.7 610.7 684.6 610.4 685.4 613.3 686.2 613.6 687 614.6 687.8 616 688.6 614.4 689.4 612.8 690.2 612.8 691 613.4 691.9 614.8 692.7 611.8 693.5 609.9 694.3 609.4 695.1 611.7 695.9 612.4 696.7 609.8 697.5 611.5 698.3 609.9 699.2 611.1 700 611 700.8 612.8 701.6 614.8 702.4 612.2 703.2 613.2 704 611.7 704.8 612.7 705.6 611.3 706.4 613 707.3 611.9 708.1 610.4 708.9 609.8 709.7 613.9 710.5 611.7 711.3 611.9 712.1 612.2 712.9 612.8 713.7 612.8 714.6 614 715.4 612.8 716.2 611.5" fill="none" marker-start="url(#m)" marker-mid="url(#m)" marker-end="url(#m)"/>
<g font-family="Liberation Sans, sans-serif" font-size="19.5" fill="#000" text-anchor="end">
<text x="60" y="719.0">-10</text>
<text x="60" y="668.2">-5</text>
<text x="60" y="617.4">0</text>
<text x="60" y="566.6">5</text>
<text x="60" y="515.8">10</text>
<text x="60" y="465.1">15</text>
</g>
<g font-family="Liberation Sans, sans-serif" font-size="19.5" fill="#000" text-anchor="middle">
<text x="76.7" y="742">0</text>
<text x="192.5" y="742">5</text>
<text x="308.4" y="742">10</text>
<text x="424.2" y="742">15</text>
<text x="540.0" y="742">20</text>
<text x="655.9" y="742">25</text>
<text x="771.7" y="742">30</text>
</g>
<text font-family="Liberation Sans, sans-serif" font-size="19.4" font-weight="bold" text-anchor="middle" x="424" y="768.4">Time [min]</text>
<text font-family="Liberation Sans, sans-serif" font-size="19.4" font-weight="bold" text-anchor="middle" transform="translate(23.3 585.5) rotate(-90)">Residuals [Pixel]</text>
</svg></body></html>
